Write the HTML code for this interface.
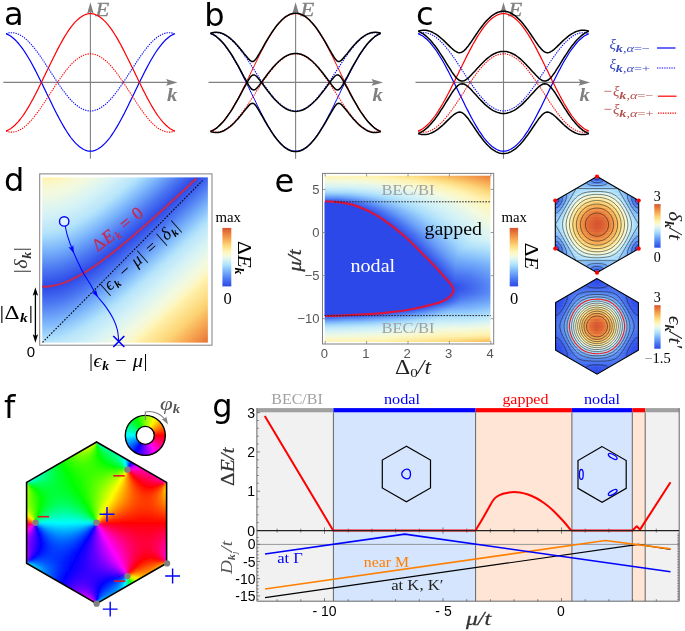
<!DOCTYPE html>
<html><head><meta charset="utf-8"><title>Figure</title>
<style>html,body{margin:0;padding:0;background:#fff}svg{display:block}</style></head>
<body>
<svg width="685" height="631" viewBox="0 0 685 631">
<rect width="685" height="631" fill="#fff"/>
<!-- abc_ -->
<g stroke="#808080" stroke-width="1.1" fill="#808080"><line x1="3.3" y1="82.4" x2="171.5" y2="82.4"/><line x1="90.4" y1="158.7" x2="90.4" y2="8.2"/><path stroke="none" d="M177.5 82.4l-11.5 -3.3l2 3.3l-2 3.3z"/><path stroke="none" d="M90.4 2.2l-3.3 11.5l3.3 -2l3.3 2z"/></g><text transform="translate(95.4,15.5) scale(1.22,1)" font-family="Liberation Serif,serif" font-style="italic" font-size="18.5" fill="#808080" stroke="#808080" stroke-width="0.3">E</text><text transform="translate(167,101.2) scale(1.15,1)" font-family="Liberation Serif,serif" font-style="italic" font-weight="bold" font-size="18" fill="#808080">k</text>
<path d="M6.1 33.8L7.6 34.4L9.1 35.2L10.6 36.1L12.1 37.2L13.6 38.5L15.1 39.8L16.6 41.4L18.1 43L19.6 44.8L21.2 46.8L22.7 48.8L24.2 51L25.7 53.3L27.2 55.7L28.7 58.2L30.2 60.8L31.7 63.5L33.2 66.2L34.7 69.1L36.2 72L37.7 74.9L39.2 78L40.7 81L42.2 84.1L43.7 87.2L45.2 90.3L46.7 93.5L48.3 96.6L49.8 99.7L51.3 102.8L52.8 105.9L54.3 108.9L55.8 111.9L57.3 114.9L58.8 117.7L60.3 120.5L61.8 123.2L63.3 125.9L64.8 128.4L66.3 130.8L67.8 133.2L69.3 135.4L70.8 137.5L72.3 139.4L73.8 141.2L75.3 142.9L76.9 144.4L78.4 145.8L79.9 147.1L81.4 148.1L82.9 149.1L84.4 149.8L85.9 150.4L87.4 150.8L88.9 151.1L90.4 151.2L91.9 151.1L93.4 150.8L94.9 150.4L96.4 149.8L97.9 149.1L99.4 148.1L100.9 147.1L102.4 145.8L103.9 144.4L105.5 142.9L107 141.2L108.5 139.4L110 137.5L111.5 135.4L113 133.2L114.5 130.8L116 128.4L117.5 125.9L119 123.2L120.5 120.5L122 117.7L123.5 114.9L125 111.9L126.5 108.9L128 105.9L129.5 102.8L131 99.7L132.6 96.6L134.1 93.5L135.6 90.3L137.1 87.2L138.6 84.1L140.1 81L141.6 78L143.1 74.9L144.6 72L146.1 69.1L147.6 66.2L149.1 63.5L150.6 60.8L152.1 58.2L153.6 55.7L155.1 53.3L156.6 51L158.1 48.8L159.6 46.8L161.2 44.8L162.7 43L164.2 41.4L165.7 39.8L167.2 38.5L168.7 37.2L170.2 36.1L171.7 35.2L173.2 34.4L174.7 33.8" stroke="#0000ff" stroke-width="1.2" fill="none"/><path d="M6.1 131.1L7.6 130.4L9.1 129.6L10.6 128.7L12.1 127.6L13.6 126.3L15.1 125L16.6 123.4L18.1 121.8L19.6 120L21.2 118L22.7 116L24.2 113.8L25.7 111.5L27.2 109.1L28.7 106.6L30.2 104L31.7 101.3L33.2 98.6L34.7 95.7L36.2 92.8L37.7 89.9L39.2 86.8L40.7 83.8L42.2 80.7L43.7 77.6L45.2 74.5L46.7 71.3L48.3 68.2L49.8 65.1L51.3 62L52.8 58.9L54.3 55.9L55.8 52.9L57.3 49.9L58.8 47.1L60.3 44.3L61.8 41.6L63.3 38.9L64.8 36.4L66.3 34L67.8 31.6L69.3 29.4L70.8 27.3L72.3 25.4L73.8 23.6L75.3 21.9L76.9 20.4L78.4 19L79.9 17.7L81.4 16.7L82.9 15.7L84.4 15L85.9 14.4L87.4 14L88.9 13.7L90.4 13.7L91.9 13.7L93.4 14L94.9 14.4L96.4 15L97.9 15.7L99.4 16.7L100.9 17.7L102.4 19L103.9 20.4L105.5 21.9L107 23.6L108.5 25.4L110 27.3L111.5 29.4L113 31.6L114.5 34L116 36.4L117.5 38.9L119 41.6L120.5 44.3L122 47.1L123.5 49.9L125 52.9L126.5 55.9L128 58.9L129.5 62L131 65.1L132.6 68.2L134.1 71.3L135.6 74.5L137.1 77.6L138.6 80.7L140.1 83.8L141.6 86.8L143.1 89.9L144.6 92.8L146.1 95.7L147.6 98.6L149.1 101.3L150.6 104L152.1 106.6L153.6 109.1L155.1 111.5L156.6 113.8L158.1 116L159.6 118L161.2 120L162.7 121.8L164.2 123.4L165.7 125L167.2 126.3L168.7 127.6L170.2 128.7L171.7 129.6L173.2 130.4L174.7 131.1" stroke="#ff0000" stroke-width="1.2" fill="none"/><path d="M6.1 33.8L7.6 33.3L9.1 32.9L10.6 32.7L12.1 32.7L13.6 32.8L15.1 33.1L16.6 33.5L18.1 34.1L19.6 34.8L21.2 35.6L22.7 36.6L24.2 37.7L25.7 39L27.2 40.3L28.7 41.8L30.2 43.3L31.7 45L33.2 46.8L34.7 48.7L36.2 50.6L37.7 52.6L39.2 54.7L40.7 56.8L42.2 59L43.7 61.3L45.2 63.6L46.7 65.9L48.3 68.2L49.8 70.5L51.3 72.9L52.8 75.2L54.3 77.5L55.8 79.8L57.3 82.1L58.8 84.3L60.3 86.5L61.8 88.6L63.3 90.7L64.8 92.7L66.3 94.6L67.8 96.5L69.3 98.2L70.8 99.9L72.3 101.5L73.8 102.9L75.3 104.3L76.9 105.5L78.4 106.6L79.9 107.6L81.4 108.5L82.9 109.2L84.4 109.9L85.9 110.3L87.4 110.7L88.9 110.9L90.4 111L91.9 110.9L93.4 110.7L94.9 110.3L96.4 109.9L97.9 109.2L99.4 108.5L100.9 107.6L102.4 106.6L103.9 105.5L105.5 104.3L107 102.9L108.5 101.5L110 99.9L111.5 98.2L113 96.5L114.5 94.6L116 92.7L117.5 90.7L119 88.6L120.5 86.5L122 84.3L123.5 82.1L125 79.8L126.5 77.5L128 75.2L129.5 72.9L131 70.5L132.6 68.2L134.1 65.9L135.6 63.6L137.1 61.3L138.6 59L140.1 56.8L141.6 54.7L143.1 52.6L144.6 50.6L146.1 48.7L147.6 46.8L149.1 45L150.6 43.3L152.1 41.8L153.6 40.3L155.1 39L156.6 37.7L158.1 36.6L159.6 35.6L161.2 34.8L162.7 34.1L164.2 33.5L165.7 33.1L167.2 32.8L168.7 32.7L170.2 32.7L171.7 32.9L173.2 33.3L174.7 33.8" stroke="#0000ff" stroke-width="1.1" stroke-dasharray="1.3 1.1" fill="none"/><path d="M6.1 131.1L7.6 131.5L9.1 131.9L10.6 132.1L12.1 132.1L13.6 132L15.1 131.7L16.6 131.3L18.1 130.7L19.6 130L21.2 129.2L22.7 128.2L24.2 127.1L25.7 125.8L27.2 124.5L28.7 123L30.2 121.5L31.7 119.8L33.2 118L34.7 116.1L36.2 114.2L37.7 112.2L39.2 110.1L40.7 108L42.2 105.8L43.7 103.5L45.2 101.2L46.7 98.9L48.3 96.6L49.8 94.3L51.3 91.9L52.8 89.6L54.3 87.3L55.8 85L57.3 82.7L58.8 80.5L60.3 78.3L61.8 76.2L63.3 74.1L64.8 72.1L66.3 70.2L67.8 68.3L69.3 66.6L70.8 64.9L72.3 63.3L73.8 61.9L75.3 60.5L76.9 59.3L78.4 58.2L79.9 57.2L81.4 56.3L82.9 55.6L84.4 54.9L85.9 54.5L87.4 54.1L88.9 53.9L90.4 53.9L91.9 53.9L93.4 54.1L94.9 54.5L96.4 54.9L97.9 55.6L99.4 56.3L100.9 57.2L102.4 58.2L103.9 59.3L105.5 60.5L107 61.9L108.5 63.3L110 64.9L111.5 66.6L113 68.3L114.5 70.2L116 72.1L117.5 74.1L119 76.2L120.5 78.3L122 80.5L123.5 82.7L125 85L126.5 87.3L128 89.6L129.5 91.9L131 94.3L132.6 96.6L134.1 98.9L135.6 101.2L137.1 103.5L138.6 105.8L140.1 108L141.6 110.1L143.1 112.2L144.6 114.2L146.1 116.1L147.6 118L149.1 119.8L150.6 121.5L152.1 123L153.6 124.5L155.1 125.8L156.6 127.1L158.1 128.2L159.6 129.2L161.2 130L162.7 130.7L164.2 131.3L165.7 131.7L167.2 132L168.7 132.1L170.2 132.1L171.7 131.9L173.2 131.5L174.7 131.1" stroke="#ff0000" stroke-width="1.1" stroke-dasharray="1.3 1.1" fill="none"/>
<g stroke="#808080" stroke-width="1.1" fill="#808080"><line x1="208.5" y1="82.4" x2="377" y2="82.4"/><line x1="295.6" y1="158.7" x2="295.6" y2="8.2"/><path stroke="none" d="M383 82.4l-11.5 -3.3l2 3.3l-2 3.3z"/><path stroke="none" d="M295.6 2.2l-3.3 11.5l3.3 -2l3.3 2z"/></g><text transform="translate(300.6,15.5) scale(1.22,1)" font-family="Liberation Serif,serif" font-style="italic" font-size="18.5" fill="#808080" stroke="#808080" stroke-width="0.3">E</text><text transform="translate(372.5,101.2) scale(1.15,1)" font-family="Liberation Serif,serif" font-style="italic" font-weight="bold" font-size="18" fill="#808080">k</text>
<path d="M210.5 33.8L212 34.4L213.5 35.2L215.1 36.1L216.6 37.2L218.1 38.5L219.6 39.8L221.1 41.4L222.7 43L224.2 44.8L225.7 46.8L227.2 48.8L228.7 51L230.3 53.3L231.8 55.7L233.3 58.2L234.8 60.8L236.3 63.5L237.9 66.2L239.4 69.1L240.9 72L242.4 74.9L243.9 78L245.5 81L247 84.1L248.5 87.2L250 90.3L251.5 93.5L253.1 96.6L254.6 99.7L256.1 102.8L257.6 105.9L259.1 108.9L260.6 111.9L262.2 114.9L263.7 117.7L265.2 120.5L266.7 123.2L268.2 125.9L269.8 128.4L271.3 130.8L272.8 133.2L274.3 135.4L275.8 137.5L277.4 139.4L278.9 141.2L280.4 142.9L281.9 144.4L283.4 145.8L285 147.1L286.5 148.1L288 149.1L289.5 149.8L291 150.4L292.6 150.8L294.1 151.1L295.6 151.2L297.1 151.1L298.6 150.8L300.2 150.4L301.7 149.8L303.2 149.1L304.7 148.1L306.2 147.1L307.8 145.8L309.3 144.4L310.8 142.9L312.3 141.2L313.8 139.4L315.4 137.5L316.9 135.4L318.4 133.2L319.9 130.8L321.4 128.4L323 125.9L324.5 123.2L326 120.5L327.5 117.7L329 114.9L330.6 111.9L332.1 108.9L333.6 105.9L335.1 102.8L336.6 99.7L338.2 96.6L339.7 93.5L341.2 90.3L342.7 87.2L344.2 84.1L345.7 81L347.3 78L348.8 74.9L350.3 72L351.8 69.1L353.3 66.2L354.9 63.5L356.4 60.8L357.9 58.2L359.4 55.7L360.9 53.3L362.5 51L364 48.8L365.5 46.8L367 44.8L368.5 43L370.1 41.4L371.6 39.8L373.1 38.5L374.6 37.2L376.1 36.1L377.7 35.2L379.2 34.4L380.7 33.8" stroke="#0000ff" stroke-width="1.0" fill="none"/><path d="M210.5 131.1L212 130.4L213.5 129.6L215.1 128.7L216.6 127.6L218.1 126.3L219.6 125L221.1 123.4L222.7 121.8L224.2 120L225.7 118L227.2 116L228.7 113.8L230.3 111.5L231.8 109.1L233.3 106.6L234.8 104L236.3 101.3L237.9 98.6L239.4 95.7L240.9 92.8L242.4 89.9L243.9 86.8L245.5 83.8L247 80.7L248.5 77.6L250 74.5L251.5 71.3L253.1 68.2L254.6 65.1L256.1 62L257.6 58.9L259.1 55.9L260.6 52.9L262.2 49.9L263.7 47.1L265.2 44.3L266.7 41.6L268.2 38.9L269.8 36.4L271.3 34L272.8 31.6L274.3 29.4L275.8 27.3L277.4 25.4L278.9 23.6L280.4 21.9L281.9 20.4L283.4 19L285 17.7L286.5 16.7L288 15.7L289.5 15L291 14.4L292.6 14L294.1 13.7L295.6 13.7L297.1 13.7L298.6 14L300.2 14.4L301.7 15L303.2 15.7L304.7 16.7L306.2 17.7L307.8 19L309.3 20.4L310.8 21.9L312.3 23.6L313.8 25.4L315.4 27.3L316.9 29.4L318.4 31.6L319.9 34L321.4 36.4L323 38.9L324.5 41.6L326 44.3L327.5 47.1L329 49.9L330.6 52.9L332.1 55.9L333.6 58.9L335.1 62L336.6 65.1L338.2 68.2L339.7 71.3L341.2 74.5L342.7 77.6L344.2 80.7L345.7 83.8L347.3 86.8L348.8 89.9L350.3 92.8L351.8 95.7L353.3 98.6L354.9 101.3L356.4 104L357.9 106.6L359.4 109.1L360.9 111.5L362.5 113.8L364 116L365.5 118L367 120L368.5 121.8L370.1 123.4L371.6 125L373.1 126.3L374.6 127.6L376.1 128.7L377.7 129.6L379.2 130.4L380.7 131.1" stroke="#ff0000" stroke-width="1.0" fill="none"/><path d="M210.5 33.8L212 33.3L213.5 32.9L215.1 32.7L216.6 32.7L218.1 32.8L219.6 33.1L221.1 33.5L222.7 34.1L224.2 34.8L225.7 35.6L227.2 36.6L228.7 37.7L230.3 39L231.8 40.3L233.3 41.8L234.8 43.3L236.3 45L237.9 46.8L239.4 48.7L240.9 50.6L242.4 52.6L243.9 54.7L245.5 56.8L247 59L248.5 61.3L250 63.6L251.5 65.9L253.1 68.2L254.6 70.5L256.1 72.9L257.6 75.2L259.1 77.5L260.6 79.8L262.2 82.1L263.7 84.3L265.2 86.5L266.7 88.6L268.2 90.7L269.8 92.7L271.3 94.6L272.8 96.5L274.3 98.2L275.8 99.9L277.4 101.5L278.9 102.9L280.4 104.3L281.9 105.5L283.4 106.6L285 107.6L286.5 108.5L288 109.2L289.5 109.9L291 110.3L292.6 110.7L294.1 110.9L295.6 111L297.1 110.9L298.6 110.7L300.2 110.3L301.7 109.9L303.2 109.2L304.7 108.5L306.2 107.6L307.8 106.6L309.3 105.5L310.8 104.3L312.3 102.9L313.8 101.5L315.4 99.9L316.9 98.2L318.4 96.5L319.9 94.6L321.4 92.7L323 90.7L324.5 88.6L326 86.5L327.5 84.3L329 82.1L330.6 79.8L332.1 77.5L333.6 75.2L335.1 72.9L336.6 70.5L338.2 68.2L339.7 65.9L341.2 63.6L342.7 61.3L344.2 59L345.7 56.8L347.3 54.7L348.8 52.6L350.3 50.6L351.8 48.7L353.3 46.8L354.9 45L356.4 43.3L357.9 41.8L359.4 40.3L360.9 39L362.5 37.7L364 36.6L365.5 35.6L367 34.8L368.5 34.1L370.1 33.5L371.6 33.1L373.1 32.8L374.6 32.7L376.1 32.7L377.7 32.9L379.2 33.3L380.7 33.8" stroke="#0000ff" stroke-width="1.1" stroke-dasharray="1.3 1.1" fill="none"/><path d="M210.5 131.1L212 131.5L213.5 131.9L215.1 132.1L216.6 132.1L218.1 132L219.6 131.7L221.1 131.3L222.7 130.7L224.2 130L225.7 129.2L227.2 128.2L228.7 127.1L230.3 125.8L231.8 124.5L233.3 123L234.8 121.5L236.3 119.8L237.9 118L239.4 116.1L240.9 114.2L242.4 112.2L243.9 110.1L245.5 108L247 105.8L248.5 103.5L250 101.2L251.5 98.9L253.1 96.6L254.6 94.3L256.1 91.9L257.6 89.6L259.1 87.3L260.6 85L262.2 82.7L263.7 80.5L265.2 78.3L266.7 76.2L268.2 74.1L269.8 72.1L271.3 70.2L272.8 68.3L274.3 66.6L275.8 64.9L277.4 63.3L278.9 61.9L280.4 60.5L281.9 59.3L283.4 58.2L285 57.2L286.5 56.3L288 55.6L289.5 54.9L291 54.5L292.6 54.1L294.1 53.9L295.6 53.9L297.1 53.9L298.6 54.1L300.2 54.5L301.7 54.9L303.2 55.6L304.7 56.3L306.2 57.2L307.8 58.2L309.3 59.3L310.8 60.5L312.3 61.9L313.8 63.3L315.4 64.9L316.9 66.6L318.4 68.3L319.9 70.2L321.4 72.1L323 74.1L324.5 76.2L326 78.3L327.5 80.5L329 82.7L330.6 85L332.1 87.3L333.6 89.6L335.1 91.9L336.6 94.3L338.2 96.6L339.7 98.9L341.2 101.2L342.7 103.5L344.2 105.8L345.7 108L347.3 110.1L348.8 112.2L350.3 114.2L351.8 116.1L353.3 118L354.9 119.8L356.4 121.5L357.9 123L359.4 124.5L360.9 125.8L362.5 127.1L364 128.2L365.5 129.2L367 130L368.5 130.7L370.1 131.3L371.6 131.7L373.1 132L374.6 132.1L376.1 132.1L377.7 131.9L379.2 131.5L380.7 131.1" stroke="#ff0000" stroke-width="1.1" stroke-dasharray="1.3 1.1" fill="none"/><path d="M210.5 33.3L212 33.9L213.5 34.7L215.1 35.7L216.6 36.7L218.1 38L219.6 39.4L221.1 40.9L222.7 42.5L224.2 44.3L225.7 46.2L227.2 48.3L228.7 50.4L230.3 52.7L231.8 55L233.3 57.5L234.8 60.1L236.3 62.7L237.9 65.4L239.4 68.1L240.9 70.9L242.4 73.8L243.9 76.6L245.5 79.4L247 82.2L248.5 84.8L250 87.2L251.5 89L253.1 89.9L254.6 89.8L256.1 88.8L257.6 87.2L259.1 85.4L260.6 83.4L262.2 81.4L263.7 79.3L265.2 77.3L266.7 75.2L268.2 73.3L269.8 71.3L271.3 69.4L272.8 67.6L274.3 65.9L275.8 64.3L277.4 62.8L278.9 61.3L280.4 60L281.9 58.8L283.4 57.7L285 56.7L286.5 55.8L288 55.1L289.5 54.5L291 54L292.6 53.7L294.1 53.5L295.6 53.4L297.1 53.5L298.6 53.7L300.2 54L301.7 54.5L303.2 55.1L304.7 55.8L306.2 56.7L307.8 57.7L309.3 58.8L310.8 60L312.3 61.3L313.8 62.8L315.4 64.3L316.9 65.9L318.4 67.6L319.9 69.4L321.4 71.3L323 73.3L324.5 75.2L326 77.3L327.5 79.3L329 81.4L330.6 83.4L332.1 85.4L333.6 87.2L335.1 88.8L336.6 89.8L338.2 89.9L339.7 89L341.2 87.2L342.7 84.8L344.2 82.2L345.7 79.4L347.3 76.6L348.8 73.8L350.3 70.9L351.8 68.1L353.3 65.4L354.9 62.7L356.4 60.1L357.9 57.5L359.4 55L360.9 52.7L362.5 50.4L364 48.3L365.5 46.2L367 44.3L368.5 42.5L370.1 40.9L371.6 39.4L373.1 38L374.6 36.7L376.1 35.7L377.7 34.7L379.2 33.9L380.7 33.3" stroke="#000" stroke-width="1.5" fill="none" stroke-linejoin="round"/><path d="M210.5 131.5L212 132L213.5 132.3L215.1 132.5L216.6 132.6L218.1 132.4L219.6 132.2L221.1 131.8L222.7 131.2L224.2 130.5L225.7 129.7L227.2 128.7L228.7 127.7L230.3 126.5L231.8 125.1L233.3 123.7L234.8 122.2L236.3 120.6L237.9 118.9L239.4 117.1L240.9 115.2L242.4 113.4L243.9 111.4L245.5 109.5L247 107.7L248.5 105.9L250 104.4L251.5 103.4L253.1 103.3L254.6 104.2L256.1 106L257.6 108.3L259.1 110.8L260.6 113.5L262.2 116.2L263.7 118.9L265.2 121.6L266.7 124.2L268.2 126.7L269.8 129.2L271.3 131.6L272.8 133.8L274.3 136L275.8 138.1L277.4 140L278.9 141.8L280.4 143.4L281.9 145L283.4 146.3L285 147.6L286.5 148.6L288 149.5L289.5 150.3L291 150.9L292.6 151.3L294.1 151.5L295.6 151.6L297.1 151.5L298.6 151.3L300.2 150.9L301.7 150.3L303.2 149.5L304.7 148.6L306.2 147.6L307.8 146.3L309.3 145L310.8 143.4L312.3 141.8L313.8 140L315.4 138.1L316.9 136L318.4 133.8L319.9 131.6L321.4 129.2L323 126.7L324.5 124.2L326 121.6L327.5 118.9L329 116.2L330.6 113.5L332.1 110.8L333.6 108.3L335.1 106L336.6 104.2L338.2 103.3L339.7 103.4L341.2 104.4L342.7 105.9L344.2 107.7L345.7 109.5L347.3 111.4L348.8 113.4L350.3 115.2L351.8 117.1L353.3 118.9L354.9 120.6L356.4 122.2L357.9 123.7L359.4 125.1L360.9 126.5L362.5 127.7L364 128.7L365.5 129.7L367 130.5L368.5 131.2L370.1 131.8L371.6 132.2L373.1 132.4L374.6 132.6L376.1 132.5L377.7 132.3L379.2 132L380.7 131.5" stroke="#000" stroke-width="1.5" fill="none" stroke-linejoin="round"/><path d="M210.5 131.5L212 130.9L213.5 130.1L215.1 129.1L216.6 128.1L218.1 126.8L219.6 125.4L221.1 123.9L222.7 122.3L224.2 120.5L225.7 118.6L227.2 116.5L228.7 114.4L230.3 112.1L231.8 109.8L233.3 107.3L234.8 104.7L236.3 102.1L237.9 99.4L239.4 96.7L240.9 93.9L242.4 91L243.9 88.2L245.5 85.4L247 82.6L248.5 80L250 77.6L251.5 75.8L253.1 74.9L254.6 75L256.1 76L257.6 77.6L259.1 79.4L260.6 81.4L262.2 83.4L263.7 85.5L265.2 87.5L266.7 89.6L268.2 91.5L269.8 93.5L271.3 95.4L272.8 97.2L274.3 98.9L275.8 100.5L277.4 102L278.9 103.5L280.4 104.8L281.9 106L283.4 107.1L285 108.1L286.5 109L288 109.7L289.5 110.3L291 110.8L292.6 111.1L294.1 111.3L295.6 111.4L297.1 111.3L298.6 111.1L300.2 110.8L301.7 110.3L303.2 109.7L304.7 109L306.2 108.1L307.8 107.1L309.3 106L310.8 104.8L312.3 103.5L313.8 102L315.4 100.5L316.9 98.9L318.4 97.2L319.9 95.4L321.4 93.5L323 91.5L324.5 89.6L326 87.5L327.5 85.5L329 83.4L330.6 81.4L332.1 79.4L333.6 77.6L335.1 76L336.6 75L338.2 74.9L339.7 75.8L341.2 77.6L342.7 80L344.2 82.6L345.7 85.4L347.3 88.2L348.8 91L350.3 93.9L351.8 96.7L353.3 99.4L354.9 102.1L356.4 104.7L357.9 107.3L359.4 109.8L360.9 112.1L362.5 114.4L364 116.5L365.5 118.6L367 120.5L368.5 122.3L370.1 123.9L371.6 125.4L373.1 126.8L374.6 128.1L376.1 129.1L377.7 130.1L379.2 130.9L380.7 131.5" stroke="#000" stroke-width="1.5" fill="none" stroke-linejoin="round"/><path d="M210.5 33.3L212 32.8L213.5 32.5L215.1 32.3L216.6 32.2L218.1 32.4L219.6 32.6L221.1 33L222.7 33.6L224.2 34.3L225.7 35.1L227.2 36.1L228.7 37.1L230.3 38.3L231.8 39.7L233.3 41.1L234.8 42.6L236.3 44.2L237.9 45.9L239.4 47.7L240.9 49.6L242.4 51.4L243.9 53.4L245.5 55.3L247 57.1L248.5 58.9L250 60.4L251.5 61.4L253.1 61.5L254.6 60.6L256.1 58.8L257.6 56.5L259.1 54L260.6 51.3L262.2 48.6L263.7 45.9L265.2 43.2L266.7 40.6L268.2 38.1L269.8 35.6L271.3 33.2L272.8 31L274.3 28.8L275.8 26.7L277.4 24.8L278.9 23L280.4 21.4L281.9 19.8L283.4 18.5L285 17.2L286.5 16.2L288 15.3L289.5 14.5L291 13.9L292.6 13.5L294.1 13.3L295.6 13.2L297.1 13.3L298.6 13.5L300.2 13.9L301.7 14.5L303.2 15.3L304.7 16.2L306.2 17.2L307.8 18.5L309.3 19.8L310.8 21.4L312.3 23L313.8 24.8L315.4 26.7L316.9 28.8L318.4 31L319.9 33.2L321.4 35.6L323 38.1L324.5 40.6L326 43.2L327.5 45.9L329 48.6L330.6 51.3L332.1 54L333.6 56.5L335.1 58.8L336.6 60.6L338.2 61.5L339.7 61.4L341.2 60.4L342.7 58.9L344.2 57.1L345.7 55.3L347.3 53.4L348.8 51.4L350.3 49.6L351.8 47.7L353.3 45.9L354.9 44.2L356.4 42.6L357.9 41.1L359.4 39.7L360.9 38.3L362.5 37.1L364 36.1L365.5 35.1L367 34.3L368.5 33.6L370.1 33L371.6 32.6L373.1 32.4L374.6 32.2L376.1 32.3L377.7 32.5L379.2 32.8L380.7 33.3" stroke="#000" stroke-width="1.5" fill="none" stroke-linejoin="round"/>
<g stroke="#808080" stroke-width="1.1" fill="#808080"><line x1="415.5" y1="82.4" x2="584" y2="82.4"/><line x1="503.5" y1="158.7" x2="503.5" y2="8.2"/><path stroke="none" d="M590 82.4l-11.5 -3.3l2 3.3l-2 3.3z"/><path stroke="none" d="M503.5 2.2l-3.3 11.5l3.3 -2l3.3 2z"/></g><text transform="translate(508.5,15.5) scale(1.22,1)" font-family="Liberation Serif,serif" font-style="italic" font-size="18.5" fill="#808080" stroke="#808080" stroke-width="0.3">E</text><text transform="translate(579.5,101.2) scale(1.15,1)" font-family="Liberation Serif,serif" font-style="italic" font-weight="bold" font-size="18" fill="#808080">k</text>
<path d="M418.2 33.8L419.7 34.4L421.2 35.2L422.8 36.1L424.3 37.2L425.8 38.5L427.3 39.8L428.9 41.4L430.4 43L431.9 44.8L433.4 46.8L435 48.8L436.5 51L438 53.3L439.5 55.7L441 58.2L442.6 60.8L444.1 63.5L445.6 66.2L447.1 69.1L448.7 72L450.2 74.9L451.7 78L453.2 81L454.8 84.1L456.3 87.2L457.8 90.3L459.3 93.5L460.9 96.6L462.4 99.7L463.9 102.8L465.4 105.9L466.9 108.9L468.5 111.9L470 114.9L471.5 117.7L473 120.5L474.6 123.2L476.1 125.9L477.6 128.4L479.1 130.8L480.7 133.2L482.2 135.4L483.7 137.5L485.2 139.4L486.7 141.2L488.3 142.9L489.8 144.4L491.3 145.8L492.8 147.1L494.4 148.1L495.9 149.1L497.4 149.8L498.9 150.4L500.5 150.8L502 151.1L503.5 151.2L505 151.1L506.5 150.8L508.1 150.4L509.6 149.8L511.1 149.1L512.6 148.1L514.2 147.1L515.7 145.8L517.2 144.4L518.7 142.9L520.3 141.2L521.8 139.4L523.3 137.5L524.8 135.4L526.3 133.2L527.9 130.8L529.4 128.4L530.9 125.9L532.4 123.2L534 120.5L535.5 117.7L537 114.9L538.5 111.9L540.1 108.9L541.6 105.9L543.1 102.8L544.6 99.7L546.1 96.6L547.7 93.5L549.2 90.3L550.7 87.2L552.2 84.1L553.8 81L555.3 78L556.8 74.9L558.3 72L559.9 69.1L561.4 66.2L562.9 63.5L564.4 60.8L566 58.2L567.5 55.7L569 53.3L570.5 51L572 48.8L573.6 46.8L575.1 44.8L576.6 43L578.1 41.4L579.7 39.8L581.2 38.5L582.7 37.2L584.2 36.1L585.8 35.2L587.3 34.4L588.8 33.8" stroke="#0000ff" stroke-width="1.2" fill="none"/><path d="M418.2 131.1L419.7 130.4L421.2 129.6L422.8 128.7L424.3 127.6L425.8 126.3L427.3 125L428.9 123.4L430.4 121.8L431.9 120L433.4 118L435 116L436.5 113.8L438 111.5L439.5 109.1L441 106.6L442.6 104L444.1 101.3L445.6 98.6L447.1 95.7L448.7 92.8L450.2 89.9L451.7 86.8L453.2 83.8L454.8 80.7L456.3 77.6L457.8 74.5L459.3 71.3L460.9 68.2L462.4 65.1L463.9 62L465.4 58.9L466.9 55.9L468.5 52.9L470 49.9L471.5 47.1L473 44.3L474.6 41.6L476.1 38.9L477.6 36.4L479.1 34L480.7 31.6L482.2 29.4L483.7 27.3L485.2 25.4L486.7 23.6L488.3 21.9L489.8 20.4L491.3 19L492.8 17.7L494.4 16.7L495.9 15.7L497.4 15L498.9 14.4L500.5 14L502 13.7L503.5 13.7L505 13.7L506.5 14L508.1 14.4L509.6 15L511.1 15.7L512.6 16.7L514.2 17.7L515.7 19L517.2 20.4L518.7 21.9L520.3 23.6L521.8 25.4L523.3 27.3L524.8 29.4L526.3 31.6L527.9 34L529.4 36.4L530.9 38.9L532.4 41.6L534 44.3L535.5 47.1L537 49.9L538.5 52.9L540.1 55.9L541.6 58.9L543.1 62L544.6 65.1L546.1 68.2L547.7 71.3L549.2 74.5L550.7 77.6L552.2 80.7L553.8 83.8L555.3 86.8L556.8 89.9L558.3 92.8L559.9 95.7L561.4 98.6L562.9 101.3L564.4 104L566 106.6L567.5 109.1L569 111.5L570.5 113.8L572 116L573.6 118L575.1 120L576.6 121.8L578.1 123.4L579.7 125L581.2 126.3L582.7 127.6L584.2 128.7L585.8 129.6L587.3 130.4L588.8 131.1" stroke="#ff0000" stroke-width="1.2" fill="none"/><path d="M418.2 33.8L419.7 33.3L421.2 32.9L422.8 32.7L424.3 32.7L425.8 32.8L427.3 33.1L428.9 33.5L430.4 34.1L431.9 34.8L433.4 35.6L435 36.6L436.5 37.7L438 39L439.5 40.3L441 41.8L442.6 43.3L444.1 45L445.6 46.8L447.1 48.7L448.7 50.6L450.2 52.6L451.7 54.7L453.2 56.8L454.8 59L456.3 61.3L457.8 63.6L459.3 65.9L460.9 68.2L462.4 70.5L463.9 72.9L465.4 75.2L466.9 77.5L468.5 79.8L470 82.1L471.5 84.3L473 86.5L474.6 88.6L476.1 90.7L477.6 92.7L479.1 94.6L480.7 96.5L482.2 98.2L483.7 99.9L485.2 101.5L486.7 102.9L488.3 104.3L489.8 105.5L491.3 106.6L492.8 107.6L494.4 108.5L495.9 109.2L497.4 109.9L498.9 110.3L500.5 110.7L502 110.9L503.5 111L505 110.9L506.5 110.7L508.1 110.3L509.6 109.9L511.1 109.2L512.6 108.5L514.2 107.6L515.7 106.6L517.2 105.5L518.7 104.3L520.3 102.9L521.8 101.5L523.3 99.9L524.8 98.2L526.3 96.5L527.9 94.6L529.4 92.7L530.9 90.7L532.4 88.6L534 86.5L535.5 84.3L537 82.1L538.5 79.8L540.1 77.5L541.6 75.2L543.1 72.9L544.6 70.5L546.1 68.2L547.7 65.9L549.2 63.6L550.7 61.3L552.2 59L553.8 56.8L555.3 54.7L556.8 52.6L558.3 50.6L559.9 48.7L561.4 46.8L562.9 45L564.4 43.3L566 41.8L567.5 40.3L569 39L570.5 37.7L572 36.6L573.6 35.6L575.1 34.8L576.6 34.1L578.1 33.5L579.7 33.1L581.2 32.8L582.7 32.7L584.2 32.7L585.8 32.9L587.3 33.3L588.8 33.8" stroke="#0000ff" stroke-width="1.1" stroke-dasharray="1.3 1.1" fill="none"/><path d="M418.2 131.1L419.7 131.5L421.2 131.9L422.8 132.1L424.3 132.1L425.8 132L427.3 131.7L428.9 131.3L430.4 130.7L431.9 130L433.4 129.2L435 128.2L436.5 127.1L438 125.8L439.5 124.5L441 123L442.6 121.5L444.1 119.8L445.6 118L447.1 116.1L448.7 114.2L450.2 112.2L451.7 110.1L453.2 108L454.8 105.8L456.3 103.5L457.8 101.2L459.3 98.9L460.9 96.6L462.4 94.3L463.9 91.9L465.4 89.6L466.9 87.3L468.5 85L470 82.7L471.5 80.5L473 78.3L474.6 76.2L476.1 74.1L477.6 72.1L479.1 70.2L480.7 68.3L482.2 66.6L483.7 64.9L485.2 63.3L486.7 61.9L488.3 60.5L489.8 59.3L491.3 58.2L492.8 57.2L494.4 56.3L495.9 55.6L497.4 54.9L498.9 54.5L500.5 54.1L502 53.9L503.5 53.9L505 53.9L506.5 54.1L508.1 54.5L509.6 54.9L511.1 55.6L512.6 56.3L514.2 57.2L515.7 58.2L517.2 59.3L518.7 60.5L520.3 61.9L521.8 63.3L523.3 64.9L524.8 66.6L526.3 68.3L527.9 70.2L529.4 72.1L530.9 74.1L532.4 76.2L534 78.3L535.5 80.5L537 82.7L538.5 85L540.1 87.3L541.6 89.6L543.1 91.9L544.6 94.3L546.1 96.6L547.7 98.9L549.2 101.2L550.7 103.5L552.2 105.8L553.8 108L555.3 110.1L556.8 112.2L558.3 114.2L559.9 116.1L561.4 118L562.9 119.8L564.4 121.5L566 123L567.5 124.5L569 125.8L570.5 127.1L572 128.2L573.6 129.2L575.1 130L576.6 130.7L578.1 131.3L579.7 131.7L581.2 132L582.7 132.1L584.2 132.1L585.8 131.9L587.3 131.5L588.8 131.1" stroke="#ff0000" stroke-width="1.1" stroke-dasharray="1.3 1.1" fill="none"/><path d="M418.2 31.3L419.7 30.8L421.2 30.4L422.8 30.2L424.3 30.2L425.8 30.3L427.3 30.5L428.9 30.9L430.4 31.4L431.9 32L433.4 32.8L435 33.6L436.5 34.6L438 35.7L439.5 36.9L441 38.2L442.6 39.5L444.1 40.9L445.6 42.4L447.1 43.9L448.7 45.4L450.2 46.9L451.7 48.3L453.2 49.6L454.8 50.8L456.3 51.7L457.8 52.4L459.3 52.7L460.9 52.5L462.4 51.9L463.9 50.8L465.4 49.4L466.9 47.6L468.5 45.7L470 43.5L471.5 41.3L473 39.1L474.6 36.8L476.1 34.5L477.6 32.3L479.1 30.1L480.7 28L482.2 26L483.7 24.1L485.2 22.3L486.7 20.6L488.3 19L489.8 17.6L491.3 16.2L492.8 15.1L494.4 14.1L495.9 13.2L497.4 12.5L498.9 11.9L500.5 11.5L502 11.3L503.5 11.2L505 11.3L506.5 11.5L508.1 11.9L509.6 12.5L511.1 13.2L512.6 14.1L514.2 15.1L515.7 16.2L517.2 17.6L518.7 19L520.3 20.6L521.8 22.3L523.3 24.1L524.8 26L526.3 28L527.9 30.1L529.4 32.3L530.9 34.5L532.4 36.8L534 39.1L535.5 41.3L537 43.5L538.5 45.7L540.1 47.6L541.6 49.4L543.1 50.8L544.6 51.9L546.1 52.5L547.7 52.7L549.2 52.4L550.7 51.7L552.2 50.8L553.8 49.6L555.3 48.3L556.8 46.9L558.3 45.4L559.9 43.9L561.4 42.4L562.9 40.9L564.4 39.5L566 38.2L567.5 36.9L569 35.7L570.5 34.6L572 33.6L573.6 32.8L575.1 32L576.6 31.4L578.1 30.9L579.7 30.5L581.2 30.3L582.7 30.2L584.2 30.2L585.8 30.4L587.3 30.8L588.8 31.3" stroke="#000" stroke-width="1.5" fill="none" stroke-linejoin="round"/><path d="M418.2 31.3L419.7 31.9L421.2 32.7L422.8 33.6L424.3 34.7L425.8 35.9L427.3 37.2L428.9 38.7L430.4 40.3L431.9 42L433.4 43.9L435 45.8L436.5 47.9L438 50L439.5 52.3L441 54.6L442.6 57L444.1 59.4L445.6 61.9L447.1 64.3L448.7 66.8L450.2 69.2L451.7 71.6L453.2 73.8L454.8 75.9L456.3 77.7L457.8 79.2L459.3 80.3L460.9 80.9L462.4 81.1L463.9 80.8L465.4 80.1L466.9 79L468.5 77.8L470 76.3L471.5 74.8L473 73.1L474.6 71.4L476.1 69.7L477.6 68L479.1 66.4L480.7 64.7L482.2 63.2L483.7 61.7L485.2 60.2L486.7 58.9L488.3 57.6L489.8 56.5L491.3 55.4L492.8 54.5L494.4 53.7L495.9 53L497.4 52.4L498.9 52L500.5 51.6L502 51.4L503.5 51.4L505 51.4L506.5 51.6L508.1 52L509.6 52.4L511.1 53L512.6 53.7L514.2 54.5L515.7 55.4L517.2 56.5L518.7 57.6L520.3 58.9L521.8 60.2L523.3 61.7L524.8 63.2L526.3 64.7L527.9 66.4L529.4 68L530.9 69.7L532.4 71.4L534 73.1L535.5 74.8L537 76.3L538.5 77.8L540.1 79L541.6 80.1L543.1 80.8L544.6 81.1L546.1 80.9L547.7 80.3L549.2 79.2L550.7 77.7L552.2 75.9L553.8 73.8L555.3 71.6L556.8 69.2L558.3 66.8L559.9 64.3L561.4 61.9L562.9 59.4L564.4 57L566 54.6L567.5 52.3L569 50L570.5 47.9L572 45.8L573.6 43.9L575.1 42L576.6 40.3L578.1 38.7L579.7 37.2L581.2 35.9L582.7 34.7L584.2 33.6L585.8 32.7L587.3 31.9L588.8 31.3" stroke="#000" stroke-width="1.5" fill="none" stroke-linejoin="round"/><path d="M418.2 133.5L419.7 134L421.2 134.4L422.8 134.6L424.3 134.6L425.8 134.5L427.3 134.3L428.9 133.9L430.4 133.4L431.9 132.8L433.4 132L435 131.2L436.5 130.2L438 129.1L439.5 127.9L441 126.6L442.6 125.3L444.1 123.9L445.6 122.4L447.1 120.9L448.7 119.4L450.2 117.9L451.7 116.5L453.2 115.2L454.8 114L456.3 113.1L457.8 112.4L459.3 112.1L460.9 112.3L462.4 112.9L463.9 114L465.4 115.4L466.9 117.2L468.5 119.1L470 121.3L471.5 123.5L473 125.7L474.6 128L476.1 130.3L477.6 132.5L479.1 134.7L480.7 136.8L482.2 138.8L483.7 140.7L485.2 142.5L486.7 144.2L488.3 145.8L489.8 147.2L491.3 148.6L492.8 149.7L494.4 150.7L495.9 151.6L497.4 152.3L498.9 152.9L500.5 153.3L502 153.5L503.5 153.6L505 153.5L506.5 153.3L508.1 152.9L509.6 152.3L511.1 151.6L512.6 150.7L514.2 149.7L515.7 148.6L517.2 147.2L518.7 145.8L520.3 144.2L521.8 142.5L523.3 140.7L524.8 138.8L526.3 136.8L527.9 134.7L529.4 132.5L530.9 130.3L532.4 128L534 125.7L535.5 123.5L537 121.3L538.5 119.1L540.1 117.2L541.6 115.4L543.1 114L544.6 112.9L546.1 112.3L547.7 112.1L549.2 112.4L550.7 113.1L552.2 114L553.8 115.2L555.3 116.5L556.8 117.9L558.3 119.4L559.9 120.9L561.4 122.4L562.9 123.9L564.4 125.3L566 126.6L567.5 127.9L569 129.1L570.5 130.2L572 131.2L573.6 132L575.1 132.8L576.6 133.4L578.1 133.9L579.7 134.3L581.2 134.5L582.7 134.6L584.2 134.6L585.8 134.4L587.3 134L588.8 133.5" stroke="#000" stroke-width="1.5" fill="none" stroke-linejoin="round"/><path d="M418.2 133.5L419.7 132.9L421.2 132.1L422.8 131.2L424.3 130.1L425.8 128.9L427.3 127.6L428.9 126.1L430.4 124.5L431.9 122.8L433.4 120.9L435 119L436.5 116.9L438 114.8L439.5 112.5L441 110.2L442.6 107.8L444.1 105.4L445.6 102.9L447.1 100.5L448.7 98L450.2 95.6L451.7 93.2L453.2 91L454.8 88.9L456.3 87.1L457.8 85.6L459.3 84.5L460.9 83.9L462.4 83.7L463.9 84L465.4 84.7L466.9 85.8L468.5 87L470 88.5L471.5 90L473 91.7L474.6 93.4L476.1 95.1L477.6 96.8L479.1 98.4L480.7 100.1L482.2 101.6L483.7 103.1L485.2 104.6L486.7 105.9L488.3 107.2L489.8 108.3L491.3 109.4L492.8 110.3L494.4 111.1L495.9 111.8L497.4 112.4L498.9 112.8L500.5 113.2L502 113.4L503.5 113.4L505 113.4L506.5 113.2L508.1 112.8L509.6 112.4L511.1 111.8L512.6 111.1L514.2 110.3L515.7 109.4L517.2 108.3L518.7 107.2L520.3 105.9L521.8 104.6L523.3 103.1L524.8 101.6L526.3 100.1L527.9 98.4L529.4 96.8L530.9 95.1L532.4 93.4L534 91.7L535.5 90L537 88.5L538.5 87L540.1 85.8L541.6 84.7L543.1 84L544.6 83.7L546.1 83.9L547.7 84.5L549.2 85.6L550.7 87.1L552.2 88.9L553.8 91L555.3 93.2L556.8 95.6L558.3 98L559.9 100.5L561.4 102.9L562.9 105.4L564.4 107.8L566 110.2L567.5 112.5L569 114.8L570.5 116.9L572 119L573.6 120.9L575.1 122.8L576.6 124.5L578.1 126.1L579.7 127.6L581.2 128.9L582.7 130.1L584.2 131.2L585.8 132.1L587.3 132.9L588.8 133.5" stroke="#000" stroke-width="1.5" fill="none" stroke-linejoin="round"/>
<g font-family="Liberation Serif,serif" font-style="italic" font-size="15">
<text x="609.5" y="49" fill="#3b4cc0">ξ</text><text transform="translate(615.8,52.2) scale(1.36,1)" fill="#3b4cc0" font-size="10.5"><tspan font-weight="bold">k</tspan>,α<tspan font-style="normal">=−</tspan></text><line x1="657" x2="675.5" y1="48" y2="48" stroke="#0000ff" stroke-width="1.2"/>
<text x="609.5" y="69" fill="#3b4cc0">ξ</text><text transform="translate(615.8,72.2) scale(1.36,1)" fill="#3b4cc0" font-size="10.5"><tspan font-weight="bold">k</tspan>,α<tspan font-style="normal">=+</tspan></text><line x1="657" x2="675.5" y1="68" y2="68" stroke="#0000ff" stroke-width="1.2" stroke-dasharray="1.3 1.1"/>
<text x="603.5" y="96" fill="#b4524c" font-style="normal" font-size="15">−</text><text x="613" y="96" fill="#b4524c">ξ</text><text transform="translate(619.3,99.2) scale(1.36,1)" fill="#b4524c" font-size="10.5"><tspan font-weight="bold">k</tspan>,α<tspan font-style="normal">=−</tspan></text><line x1="658" x2="676.5" y1="96.2" y2="96.2" stroke="#ff0000" stroke-width="1.2"/>
<text x="603.5" y="114" fill="#b4524c" font-style="normal" font-size="15">−</text><text x="613" y="114" fill="#b4524c">ξ</text><text transform="translate(619.3,117.2) scale(1.36,1)" fill="#b4524c" font-size="10.5"><tspan font-weight="bold">k</tspan>,α<tspan font-style="normal">=+</tspan></text><line x1="658" x2="676.5" y1="113.2" y2="113.2" stroke="#ff0000" stroke-width="1.2" stroke-dasharray="1.3 1.1"/>
</g>
<!-- pd -->
<defs><linearGradient id="gd" gradientUnits="userSpaceOnUse" x1="0" y1="-174.7" x2="0" y2="174.7"><stop offset="0" stop-color="#e57338"/><stop offset="0.0125" stop-color="#ea7d3b"/><stop offset="0.025" stop-color="#ed8840"/><stop offset="0.0375" stop-color="#f09246"/><stop offset="0.05" stop-color="#f39d4c"/><stop offset="0.0625" stop-color="#f6a751"/><stop offset="0.075" stop-color="#f8b259"/><stop offset="0.0875" stop-color="#f9bc62"/><stop offset="0.1" stop-color="#fbc76b"/><stop offset="0.1125" stop-color="#fcd174"/><stop offset="0.125" stop-color="#fdd87b"/><stop offset="0.1375" stop-color="#fddd85"/><stop offset="0.15" stop-color="#fee28f"/><stop offset="0.1625" stop-color="#fee799"/><stop offset="0.175" stop-color="#feeca3"/><stop offset="0.1875" stop-color="#fff2af"/><stop offset="0.2" stop-color="#fcf6c0"/><stop offset="0.2125" stop-color="#f8f8d0"/><stop offset="0.225" stop-color="#f5f9da"/><stop offset="0.2375" stop-color="#f1f9e0"/><stop offset="0.25" stop-color="#ebf8e5"/><stop offset="0.2625" stop-color="#e4f6eb"/><stop offset="0.275" stop-color="#def5f0"/><stop offset="0.2875" stop-color="#d8f3f5"/><stop offset="0.3" stop-color="#d1f0f7"/><stop offset="0.3125" stop-color="#c9edf8"/><stop offset="0.325" stop-color="#c2e9f9"/><stop offset="0.3375" stop-color="#bbe6fa"/><stop offset="0.35" stop-color="#aee0fb"/><stop offset="0.3625" stop-color="#a0d5fc"/><stop offset="0.375" stop-color="#93c9fb"/><stop offset="0.3875" stop-color="#85bdfb"/><stop offset="0.4" stop-color="#77b1fa"/><stop offset="0.4125" stop-color="#6ca3f8"/><stop offset="0.425" stop-color="#6295f6"/><stop offset="0.4375" stop-color="#5787f4"/><stop offset="0.45" stop-color="#4c79f2"/><stop offset="0.4625" stop-color="#446cf0"/><stop offset="0.475" stop-color="#3c60ed"/><stop offset="0.4875" stop-color="#3554eb"/><stop offset="0.5" stop-color="#2d48e8"/><stop offset="0.5125" stop-color="#3554eb"/><stop offset="0.525" stop-color="#3c60ed"/><stop offset="0.5375" stop-color="#446cf0"/><stop offset="0.55" stop-color="#4c79f2"/><stop offset="0.5625" stop-color="#5787f4"/><stop offset="0.575" stop-color="#6295f6"/><stop offset="0.5875" stop-color="#6ca3f8"/><stop offset="0.6" stop-color="#77b1fa"/><stop offset="0.6125" stop-color="#85bdfb"/><stop offset="0.625" stop-color="#93c9fb"/><stop offset="0.6375" stop-color="#a0d5fc"/><stop offset="0.65" stop-color="#aee0fb"/><stop offset="0.6625" stop-color="#bbe6fa"/><stop offset="0.675" stop-color="#c2e9f9"/><stop offset="0.6875" stop-color="#c9edf8"/><stop offset="0.7" stop-color="#d1f0f7"/><stop offset="0.7125" stop-color="#d8f3f5"/><stop offset="0.725" stop-color="#def5f0"/><stop offset="0.7375" stop-color="#e4f6eb"/><stop offset="0.75" stop-color="#ebf8e5"/><stop offset="0.7625" stop-color="#f1f9e0"/><stop offset="0.775" stop-color="#f5f9da"/><stop offset="0.7875" stop-color="#f8f8d0"/><stop offset="0.8" stop-color="#fcf6c0"/><stop offset="0.8125" stop-color="#fff2af"/><stop offset="0.825" stop-color="#feeca3"/><stop offset="0.8375" stop-color="#fee799"/><stop offset="0.85" stop-color="#fee28f"/><stop offset="0.8625" stop-color="#fddd85"/><stop offset="0.875" stop-color="#fdd87b"/><stop offset="0.8875" stop-color="#fcd174"/><stop offset="0.9" stop-color="#fbc76b"/><stop offset="0.9125" stop-color="#f9bc62"/><stop offset="0.925" stop-color="#f8b259"/><stop offset="0.9375" stop-color="#f6a751"/><stop offset="0.95" stop-color="#f39d4c"/><stop offset="0.9625" stop-color="#f09246"/><stop offset="0.975" stop-color="#ed8840"/><stop offset="0.9875" stop-color="#ea7d3b"/><stop offset="1" stop-color="#e57338"/></linearGradient><linearGradient id="cb" x1="0" y1="1" x2="0" y2="0"><stop offset="0" stop-color="#2d48e8"/><stop offset="0.12" stop-color="#4a76f2"/><stop offset="0.25" stop-color="#76b0fa"/><stop offset="0.36" stop-color="#aadefc"/><stop offset="0.45" stop-color="#d6f3f6"/><stop offset="0.52" stop-color="#f4fade"/><stop offset="0.6" stop-color="#fff4b4"/><stop offset="0.7" stop-color="#fdd87a"/><stop offset="0.8" stop-color="#f7ac54"/><stop offset="0.9" stop-color="#eb803c"/><stop offset="1" stop-color="#d65430"/></linearGradient>
<clipPath id="cd"><rect x="42.2" y="177.5" width="165.60000000000002" height="164.89999999999998"/></clipPath></defs>
<rect x="39.7" y="173.9" width="172.3" height="171.3" fill="#fff" stroke="#808080" stroke-width="1"/>
<g clip-path="url(#cd)">
<rect transform="translate(42,286.8)" y="-110.3" width="1.5" height="166.9" fill="url(#gd)"/>
<rect transform="translate(43,286.8)" y="-110.3" width="1.5" height="166.9" fill="url(#gd)"/>
<rect transform="translate(44,286.8)" y="-110.3" width="1.5" height="166.9" fill="url(#gd)"/>
<rect transform="translate(45,286.7)" y="-110.2" width="1.5" height="166.9" fill="url(#gd)"/>
<rect transform="translate(46,286.6)" y="-110.1" width="1.5" height="166.9" fill="url(#gd)"/>
<rect transform="translate(47,286.5)" y="-110" width="1.5" height="166.9" fill="url(#gd)"/>
<rect transform="translate(48,286.4)" y="-109.9" width="1.5" height="166.9" fill="url(#gd)"/>
<rect transform="translate(49,286.3)" y="-109.8" width="1.5" height="166.9" fill="url(#gd)"/>
<rect transform="translate(50,286.2)" y="-109.7" width="1.5" height="166.9" fill="url(#gd)"/>
<rect transform="translate(51,286)" y="-109.5" width="1.5" height="166.9" fill="url(#gd)"/>
<rect transform="translate(52,285.9)" y="-109.4" width="1.5" height="166.9" fill="url(#gd)"/>
<rect transform="translate(53,285.7)" y="-109.2" width="1.5" height="166.9" fill="url(#gd)"/>
<rect transform="translate(54,285.5)" y="-109" width="1.5" height="166.9" fill="url(#gd)"/>
<rect transform="translate(55,285.2)" y="-108.7" width="1.5" height="166.9" fill="url(#gd)"/>
<rect transform="translate(56,285)" y="-108.5" width="1.5" height="166.9" fill="url(#gd)"/>
<rect transform="translate(57,284.7)" y="-108.2" width="1.5" height="166.9" fill="url(#gd)"/>
<rect transform="translate(58,284.5)" y="-108" width="1.5" height="166.9" fill="url(#gd)"/>
<rect transform="translate(59,284.2)" y="-107.7" width="1.5" height="166.9" fill="url(#gd)"/>
<rect transform="translate(60,283.9)" y="-107.4" width="1.5" height="166.9" fill="url(#gd)"/>
<rect transform="translate(61,283.5)" y="-107" width="1.5" height="166.9" fill="url(#gd)"/>
<rect transform="translate(62,283.2)" y="-106.7" width="1.5" height="166.9" fill="url(#gd)"/>
<rect transform="translate(63,282.9)" y="-106.4" width="1.5" height="166.9" fill="url(#gd)"/>
<rect transform="translate(64,282.5)" y="-106" width="1.5" height="166.9" fill="url(#gd)"/>
<rect transform="translate(65,282.1)" y="-105.6" width="1.5" height="166.9" fill="url(#gd)"/>
<rect transform="translate(66,281.7)" y="-105.2" width="1.5" height="166.9" fill="url(#gd)"/>
<rect transform="translate(67,281.3)" y="-104.8" width="1.5" height="166.9" fill="url(#gd)"/>
<rect transform="translate(68,280.9)" y="-104.4" width="1.5" height="166.9" fill="url(#gd)"/>
<rect transform="translate(69,280.5)" y="-104" width="1.5" height="166.9" fill="url(#gd)"/>
<rect transform="translate(70,280)" y="-103.5" width="1.5" height="166.9" fill="url(#gd)"/>
<rect transform="translate(71,279.6)" y="-103.1" width="1.5" height="166.9" fill="url(#gd)"/>
<rect transform="translate(72,279.1)" y="-102.6" width="1.5" height="166.9" fill="url(#gd)"/>
<rect transform="translate(73,278.6)" y="-102.1" width="1.5" height="166.9" fill="url(#gd)"/>
<rect transform="translate(74,278.1)" y="-101.6" width="1.5" height="166.9" fill="url(#gd)"/>
<rect transform="translate(75,277.6)" y="-101.1" width="1.5" height="166.9" fill="url(#gd)"/>
<rect transform="translate(76,277.1)" y="-100.6" width="1.5" height="166.9" fill="url(#gd)"/>
<rect transform="translate(77,276.5)" y="-100" width="1.5" height="166.9" fill="url(#gd)"/>
<rect transform="translate(78,276)" y="-99.5" width="1.5" height="166.9" fill="url(#gd)"/>
<rect transform="translate(79,275.4)" y="-98.9" width="1.5" height="166.9" fill="url(#gd)"/>
<rect transform="translate(80,274.9)" y="-98.4" width="1.5" height="166.9" fill="url(#gd)"/>
<rect transform="translate(81,274.3)" y="-97.8" width="1.5" height="166.9" fill="url(#gd)"/>
<rect transform="translate(82,273.7)" y="-97.2" width="1.5" height="166.9" fill="url(#gd)"/>
<rect transform="translate(83,273.1)" y="-96.6" width="1.5" height="166.9" fill="url(#gd)"/>
<rect transform="translate(84,272.5)" y="-96" width="1.5" height="166.9" fill="url(#gd)"/>
<rect transform="translate(85,271.9)" y="-95.4" width="1.5" height="166.9" fill="url(#gd)"/>
<rect transform="translate(86,271.3)" y="-94.8" width="1.5" height="166.9" fill="url(#gd)"/>
<rect transform="translate(87,270.7)" y="-94.2" width="1.5" height="166.9" fill="url(#gd)"/>
<rect transform="translate(88,270)" y="-93.5" width="1.5" height="166.9" fill="url(#gd)"/>
<rect transform="translate(89,269.4)" y="-92.9" width="1.5" height="166.9" fill="url(#gd)"/>
<rect transform="translate(90,268.8)" y="-92.3" width="1.5" height="166.9" fill="url(#gd)"/>
<rect transform="translate(91,268.1)" y="-91.6" width="1.5" height="166.9" fill="url(#gd)"/>
<rect transform="translate(92,267.4)" y="-90.9" width="1.5" height="166.9" fill="url(#gd)"/>
<rect transform="translate(93,266.7)" y="-90.2" width="1.5" height="166.9" fill="url(#gd)"/>
<rect transform="translate(94,266.1)" y="-89.6" width="1.5" height="166.9" fill="url(#gd)"/>
<rect transform="translate(95,265.4)" y="-88.9" width="1.5" height="166.9" fill="url(#gd)"/>
<rect transform="translate(96,264.7)" y="-88.2" width="1.5" height="166.9" fill="url(#gd)"/>
<rect transform="translate(97,264)" y="-87.5" width="1.5" height="166.9" fill="url(#gd)"/>
<rect transform="translate(98,263.3)" y="-86.8" width="1.5" height="166.9" fill="url(#gd)"/>
<rect transform="translate(99,262.6)" y="-86.1" width="1.5" height="166.9" fill="url(#gd)"/>
<rect transform="translate(100,261.8)" y="-85.3" width="1.5" height="166.9" fill="url(#gd)"/>
<rect transform="translate(101,261.1)" y="-84.6" width="1.5" height="166.9" fill="url(#gd)"/>
<rect transform="translate(102,260.4)" y="-83.9" width="1.5" height="166.9" fill="url(#gd)"/>
<rect transform="translate(103,259.6)" y="-83.1" width="1.5" height="166.9" fill="url(#gd)"/>
<rect transform="translate(104,258.9)" y="-82.4" width="1.5" height="166.9" fill="url(#gd)"/>
<rect transform="translate(105,258.1)" y="-81.6" width="1.5" height="166.9" fill="url(#gd)"/>
<rect transform="translate(106,257.4)" y="-80.9" width="1.5" height="166.9" fill="url(#gd)"/>
<rect transform="translate(107,256.6)" y="-80.1" width="1.5" height="166.9" fill="url(#gd)"/>
<rect transform="translate(108,255.9)" y="-79.4" width="1.5" height="166.9" fill="url(#gd)"/>
<rect transform="translate(109,255.1)" y="-78.6" width="1.5" height="166.9" fill="url(#gd)"/>
<rect transform="translate(110,254.3)" y="-77.8" width="1.5" height="166.9" fill="url(#gd)"/>
<rect transform="translate(111,253.6)" y="-77.1" width="1.5" height="166.9" fill="url(#gd)"/>
<rect transform="translate(112,252.8)" y="-76.3" width="1.5" height="166.9" fill="url(#gd)"/>
<rect transform="translate(113,252)" y="-75.5" width="1.5" height="166.9" fill="url(#gd)"/>
<rect transform="translate(114,251.2)" y="-74.7" width="1.5" height="166.9" fill="url(#gd)"/>
<rect transform="translate(115,250.4)" y="-73.9" width="1.5" height="166.9" fill="url(#gd)"/>
<rect transform="translate(116,249.6)" y="-73.1" width="1.5" height="166.9" fill="url(#gd)"/>
<rect transform="translate(117,248.8)" y="-72.3" width="1.5" height="166.9" fill="url(#gd)"/>
<rect transform="translate(118,248)" y="-71.5" width="1.5" height="166.9" fill="url(#gd)"/>
<rect transform="translate(119,247.2)" y="-70.7" width="1.5" height="166.9" fill="url(#gd)"/>
<rect transform="translate(120,246.4)" y="-69.9" width="1.5" height="166.9" fill="url(#gd)"/>
<rect transform="translate(121,245.6)" y="-69.1" width="1.5" height="166.9" fill="url(#gd)"/>
<rect transform="translate(122,244.7)" y="-68.2" width="1.5" height="166.9" fill="url(#gd)"/>
<rect transform="translate(123,243.9)" y="-67.4" width="1.5" height="166.9" fill="url(#gd)"/>
<rect transform="translate(124,243.1)" y="-66.6" width="1.5" height="166.9" fill="url(#gd)"/>
<rect transform="translate(125,242.2)" y="-65.7" width="1.5" height="166.9" fill="url(#gd)"/>
<rect transform="translate(126,241.4)" y="-64.9" width="1.5" height="166.9" fill="url(#gd)"/>
<rect transform="translate(127,240.6)" y="-64.1" width="1.5" height="166.9" fill="url(#gd)"/>
<rect transform="translate(128,239.7)" y="-63.2" width="1.5" height="166.9" fill="url(#gd)"/>
<rect transform="translate(129,238.9)" y="-62.4" width="1.5" height="166.9" fill="url(#gd)"/>
<rect transform="translate(130,238.1)" y="-61.6" width="1.5" height="166.9" fill="url(#gd)"/>
<rect transform="translate(131,237.2)" y="-60.7" width="1.5" height="166.9" fill="url(#gd)"/>
<rect transform="translate(132,236.4)" y="-59.9" width="1.5" height="166.9" fill="url(#gd)"/>
<rect transform="translate(133,235.5)" y="-59" width="1.5" height="166.9" fill="url(#gd)"/>
<rect transform="translate(134,234.6)" y="-58.1" width="1.5" height="166.9" fill="url(#gd)"/>
<rect transform="translate(135,233.8)" y="-57.3" width="1.5" height="166.9" fill="url(#gd)"/>
<rect transform="translate(136,232.9)" y="-56.4" width="1.5" height="166.9" fill="url(#gd)"/>
<rect transform="translate(137,232.1)" y="-55.6" width="1.5" height="166.9" fill="url(#gd)"/>
<rect transform="translate(138,231.2)" y="-54.7" width="1.5" height="166.9" fill="url(#gd)"/>
<rect transform="translate(139,230.3)" y="-53.8" width="1.5" height="166.9" fill="url(#gd)"/>
<rect transform="translate(140,229.5)" y="-53" width="1.5" height="166.9" fill="url(#gd)"/>
<rect transform="translate(141,228.6)" y="-52.1" width="1.5" height="166.9" fill="url(#gd)"/>
<rect transform="translate(142,227.7)" y="-51.2" width="1.5" height="166.9" fill="url(#gd)"/>
<rect transform="translate(143,226.8)" y="-50.3" width="1.5" height="166.9" fill="url(#gd)"/>
<rect transform="translate(144,226)" y="-49.5" width="1.5" height="166.9" fill="url(#gd)"/>
<rect transform="translate(145,225.1)" y="-48.6" width="1.5" height="166.9" fill="url(#gd)"/>
<rect transform="translate(146,224.2)" y="-47.7" width="1.5" height="166.9" fill="url(#gd)"/>
<rect transform="translate(147,223.3)" y="-46.8" width="1.5" height="166.9" fill="url(#gd)"/>
<rect transform="translate(148,222.4)" y="-45.9" width="1.5" height="166.9" fill="url(#gd)"/>
<rect transform="translate(149,221.6)" y="-45.1" width="1.5" height="166.9" fill="url(#gd)"/>
<rect transform="translate(150,220.7)" y="-44.2" width="1.5" height="166.9" fill="url(#gd)"/>
<rect transform="translate(151,219.8)" y="-43.3" width="1.5" height="166.9" fill="url(#gd)"/>
<rect transform="translate(152,218.9)" y="-42.4" width="1.5" height="166.9" fill="url(#gd)"/>
<rect transform="translate(153,218)" y="-41.5" width="1.5" height="166.9" fill="url(#gd)"/>
<rect transform="translate(154,217.1)" y="-40.6" width="1.5" height="166.9" fill="url(#gd)"/>
<rect transform="translate(155,216.2)" y="-39.7" width="1.5" height="166.9" fill="url(#gd)"/>
<rect transform="translate(156,215.3)" y="-38.8" width="1.5" height="166.9" fill="url(#gd)"/>
<rect transform="translate(157,214.4)" y="-37.9" width="1.5" height="166.9" fill="url(#gd)"/>
<rect transform="translate(158,213.5)" y="-37" width="1.5" height="166.9" fill="url(#gd)"/>
<rect transform="translate(159,212.6)" y="-36.1" width="1.5" height="166.9" fill="url(#gd)"/>
<rect transform="translate(160,211.7)" y="-35.2" width="1.5" height="166.9" fill="url(#gd)"/>
<rect transform="translate(161,210.8)" y="-34.3" width="1.5" height="166.9" fill="url(#gd)"/>
<rect transform="translate(162,209.9)" y="-33.4" width="1.5" height="166.9" fill="url(#gd)"/>
<rect transform="translate(163,209)" y="-32.5" width="1.5" height="166.9" fill="url(#gd)"/>
<rect transform="translate(164,208.1)" y="-31.6" width="1.5" height="166.9" fill="url(#gd)"/>
<rect transform="translate(165,207.1)" y="-30.6" width="1.5" height="166.9" fill="url(#gd)"/>
<rect transform="translate(166,206.2)" y="-29.7" width="1.5" height="166.9" fill="url(#gd)"/>
<rect transform="translate(167,205.3)" y="-28.8" width="1.5" height="166.9" fill="url(#gd)"/>
<rect transform="translate(168,204.4)" y="-27.9" width="1.5" height="166.9" fill="url(#gd)"/>
<rect transform="translate(169,203.5)" y="-27" width="1.5" height="166.9" fill="url(#gd)"/>
<rect transform="translate(170,202.6)" y="-26.1" width="1.5" height="166.9" fill="url(#gd)"/>
<rect transform="translate(171,201.7)" y="-25.2" width="1.5" height="166.9" fill="url(#gd)"/>
<rect transform="translate(172,200.7)" y="-24.2" width="1.5" height="166.9" fill="url(#gd)"/>
<rect transform="translate(173,199.8)" y="-23.3" width="1.5" height="166.9" fill="url(#gd)"/>
<rect transform="translate(174,198.9)" y="-22.4" width="1.5" height="166.9" fill="url(#gd)"/>
<rect transform="translate(175,198)" y="-21.5" width="1.5" height="166.9" fill="url(#gd)"/>
<rect transform="translate(176,197)" y="-20.5" width="1.5" height="166.9" fill="url(#gd)"/>
<rect transform="translate(177,196.1)" y="-19.6" width="1.5" height="166.9" fill="url(#gd)"/>
<rect transform="translate(178,195.2)" y="-18.7" width="1.5" height="166.9" fill="url(#gd)"/>
<rect transform="translate(179,194.3)" y="-17.8" width="1.5" height="166.9" fill="url(#gd)"/>
<rect transform="translate(180,193.3)" y="-16.8" width="1.5" height="166.9" fill="url(#gd)"/>
<rect transform="translate(181,192.4)" y="-15.9" width="1.5" height="166.9" fill="url(#gd)"/>
<rect transform="translate(182,191.5)" y="-15" width="1.5" height="166.9" fill="url(#gd)"/>
<rect transform="translate(183,190.6)" y="-14.1" width="1.5" height="166.9" fill="url(#gd)"/>
<rect transform="translate(184,189.6)" y="-13.1" width="1.5" height="166.9" fill="url(#gd)"/>
<rect transform="translate(185,188.7)" y="-12.2" width="1.5" height="166.9" fill="url(#gd)"/>
<rect transform="translate(186,187.8)" y="-11.3" width="1.5" height="166.9" fill="url(#gd)"/>
<rect transform="translate(187,186.8)" y="-10.3" width="1.5" height="166.9" fill="url(#gd)"/>
<rect transform="translate(188,185.9)" y="-9.4" width="1.5" height="166.9" fill="url(#gd)"/>
<rect transform="translate(189,185)" y="-8.5" width="1.5" height="166.9" fill="url(#gd)"/>
<rect transform="translate(190,184)" y="-7.5" width="1.5" height="166.9" fill="url(#gd)"/>
<rect transform="translate(191,183.1)" y="-6.6" width="1.5" height="166.9" fill="url(#gd)"/>
<rect transform="translate(192,182.1)" y="-5.6" width="1.5" height="166.9" fill="url(#gd)"/>
<rect transform="translate(193,181.2)" y="-4.7" width="1.5" height="166.9" fill="url(#gd)"/>
<rect transform="translate(194,180.3)" y="-3.8" width="1.5" height="166.9" fill="url(#gd)"/>
<rect transform="translate(195,179.3)" y="-2.8" width="1.5" height="166.9" fill="url(#gd)"/>
<rect transform="translate(196,178.4)" y="-1.9" width="1.5" height="166.9" fill="url(#gd)"/>
<rect transform="translate(197,177.4)" y="-0.9" width="1.5" height="166.9" fill="url(#gd)"/>
<rect transform="translate(198,176.5)" y="0" width="1.5" height="166.9" fill="url(#gd)"/>
<rect transform="translate(199,175.6)" y="0.9" width="1.5" height="166.9" fill="url(#gd)"/>
<rect transform="translate(200,174.6)" y="1.9" width="1.5" height="166.9" fill="url(#gd)"/>
<rect transform="translate(201,173.7)" y="2.8" width="1.5" height="166.9" fill="url(#gd)"/>
<rect transform="translate(202,172.7)" y="3.8" width="1.5" height="166.9" fill="url(#gd)"/>
<rect transform="translate(203,171.8)" y="4.7" width="1.5" height="166.9" fill="url(#gd)"/>
<rect transform="translate(204,170.8)" y="5.7" width="1.5" height="166.9" fill="url(#gd)"/>
<rect transform="translate(205,169.9)" y="6.6" width="1.5" height="166.9" fill="url(#gd)"/>
<rect transform="translate(206,168.9)" y="7.6" width="1.5" height="166.9" fill="url(#gd)"/>
<rect transform="translate(207,168)" y="8.5" width="1.5" height="166.9" fill="url(#gd)"/>
</g>
<line x1="42.5" y1="342.4" x2="202.5" y2="180.6" stroke="#000" stroke-width="1.1" stroke-dasharray="1.6 1.5"/>
<path d="M42.2 286.8L46.2 286.7L50.1 286.2L54.1 285.6L58 284.6L62 283.4L65.9 282L69.9 280.3L73.8 278.4L77.8 276.4L81.7 274.2L85.7 271.8L89.6 269.3L93.6 266.7L97.5 264L101.5 261.1L105.4 258.2L109.4 255.2L113.3 252.1L117.3 249L121.2 245.8L125.2 242.5L129.1 239.2L133.1 235.9L137 232.5L141 229L144.9 225.6L148.9 222.1L152.8 218.6L156.8 215L160.7 211.5L164.7 207.9L168.6 204.3L172.6 200.6L176.5 197L180.5 193.3L184.4 189.7L188.4 186L192.3 182.3L196.3 178.6" stroke="#c62a4e" stroke-width="2" fill="none"/>
<g stroke="#0000ff" fill="none" stroke-width="1.05">
<circle cx="64.2" cy="221.4" r="4.7" stroke-width="1.4" fill="#fff" fill-opacity="0.45"/>
<path d="M65.3 226.2C65.7 227.8 66.1 231.4 67.4 235.6C68.7 239.8 70.7 245.6 73.1 251.3C75.5 257 78.8 264.3 81.6 269.8C84.4 275.3 87.7 279.8 90.2 284.1C92.7 288.4 94.2 291.7 96.8 295.5C99.4 299.3 103.2 303.1 105.9 306.9C108.6 310.7 111.1 314.5 113 318.3C114.9 322.1 116.3 325.9 117.3 329.7C118.2 333.5 118.5 339.2 118.7 341.1"/>
<path d="M113.3 336l11 11M124.3 336l-11 11" stroke-width="1.7"/>
</g>
<path transform="translate(73.9,253.5) rotate(68)" d="M0 0L-8 -2.6L-6.2 0L-8 2.6Z" fill="#0000ff"/>
<path transform="translate(98.2,297.5) rotate(56)" d="M0 0L-8 -2.6L-6.2 0L-8 2.6Z" fill="#0000ff"/>
<line x1="35.4" y1="292" x2="35.4" y2="338" stroke="#000" stroke-width="1.3"/>
<path transform="translate(35.4,287.3) rotate(-90)" d="M0 0L-8.5 -2.7L-6.7 0L-8.5 2.7Z" fill="#000"/>
<path transform="translate(35.4,342.8) rotate(90)" d="M0 0L-8.5 -2.7L-6.7 0L-8.5 2.7Z" fill="#000"/>
<rect x="222.4" y="227.9" width="8.9" height="58.5" fill="url(#cb)"/>
<text x="228.2" y="221.5" font-family="Liberation Serif,serif" font-size="14.8" text-anchor="middle">max</text>
<text x="227.5" y="304.3" font-family="Liberation Serif,serif" font-size="16.5" text-anchor="middle">0</text>
<text transform="translate(238.3,257.8) rotate(90) scale(1.12,1)" font-family="Liberation Serif,serif" font-size="19" font-style="italic" text-anchor="middle"><tspan font-style="normal">Δ</tspan>E<tspan font-size="12.5" dy="3.5" font-weight="bold">k</tspan></text>
<text transform="translate(121.5,233.5) rotate(-38.5)" font-family="Liberation Serif,serif" font-size="18" letter-spacing="0.7" font-style="italic" stroke="#c62a4e" stroke-width="0.3" fill="#c62a4e" text-anchor="middle"><tspan font-style="normal">Δ</tspan>E<tspan font-size="11" dy="3">k</tspan><tspan dy="-3" font-style="normal"> = 0</tspan></text>
<text transform="translate(144,261) rotate(-41.6)" font-family="Liberation Serif,serif" font-size="17.5" letter-spacing="0.9" font-style="italic" text-anchor="middle"><tspan font-style="normal">|</tspan>ϵ<tspan font-size="11" dy="3" font-weight="bold">k</tspan><tspan dy="-3" font-style="normal"> − </tspan>μ<tspan font-style="normal">| = |</tspan>δ<tspan font-size="11" dy="3" font-weight="bold">k</tspan><tspan dy="-3" font-style="normal">|</tspan></text>
<text transform="translate(27.3,260) rotate(-90) scale(1.08,1)" font-family="Liberation Serif,serif" font-size="18.5" letter-spacing="0.5" font-style="italic" fill="#333" text-anchor="middle"><tspan font-style="normal">|</tspan>δ<tspan font-size="13" dy="3.5" font-weight="bold">k</tspan><tspan dy="-3.5" font-style="normal">|</tspan></text>
<text transform="translate(16.5,318.5) scale(1.2,1)" font-family="Liberation Serif,serif" font-size="19.5" letter-spacing="0.4" font-style="italic" text-anchor="middle"><tspan font-style="normal">|Δ</tspan><tspan font-size="13" dy="3.5" font-weight="bold">k</tspan><tspan dy="-3.5" font-style="normal">|</tspan></text>
<text transform="translate(118.5,366.8) scale(1.04,1)" font-family="Liberation Serif,serif" font-size="19.5" letter-spacing="0.5" font-style="italic" text-anchor="middle"><tspan font-style="normal">|</tspan>ϵ<tspan font-size="13" dy="3.5" font-weight="bold">k</tspan><tspan dy="-3.5" font-style="normal"> − </tspan>μ<tspan font-style="normal">|</tspan></text>
<text x="31" y="356.8" font-family="Liberation Sans,sans-serif" font-size="15" text-anchor="middle">0</text>
<!-- pe -->
<defs><linearGradient id="e1" gradientUnits="userSpaceOnUse" x1="325.1" x2="490.1"><stop offset="0" stop-color="#fdf5bb"/><stop offset="0.1636" stop-color="#fef5b9"/><stop offset="0.303" stop-color="#fff2af"/><stop offset="0.4242" stop-color="#fee99e"/><stop offset="0.5758" stop-color="#fdda7d"/><stop offset="0.8061" stop-color="#f7ad55"/><stop offset="1" stop-color="#ec823d"/></linearGradient><linearGradient id="e2" gradientUnits="userSpaceOnUse" x1="325.1" x2="490.1"><stop offset="0" stop-color="#faf7c8"/><stop offset="0.1515" stop-color="#faf7c6"/><stop offset="0.297" stop-color="#fdf5bc"/><stop offset="0.4121" stop-color="#fff1ae"/><stop offset="0.5515" stop-color="#fee493"/><stop offset="0.6727" stop-color="#fcd477"/><stop offset="0.8727" stop-color="#f6a953"/><stop offset="1" stop-color="#ee8c42"/></linearGradient><linearGradient id="e3" gradientUnits="userSpaceOnUse" x1="325.1" x2="490.1"><stop offset="0" stop-color="#f5f9d8"/><stop offset="0.1394" stop-color="#f6f9d7"/><stop offset="0.2667" stop-color="#f8f8cf"/><stop offset="0.4061" stop-color="#fcf6bf"/><stop offset="0.5455" stop-color="#ffeea7"/><stop offset="0.7394" stop-color="#fdd577"/><stop offset="0.903" stop-color="#f7af57"/><stop offset="1" stop-color="#f29849"/></linearGradient><linearGradient id="e4" gradientUnits="userSpaceOnUse" x1="325.1" x2="490.1"><stop offset="0" stop-color="#ecf8e5"/><stop offset="0.1697" stop-color="#eef9e3"/><stop offset="0.297" stop-color="#f4f9db"/><stop offset="0.5818" stop-color="#fff2b0"/><stop offset="0.7758" stop-color="#fdd97e"/><stop offset="1" stop-color="#f5a44f"/></linearGradient><linearGradient id="e5" gradientUnits="userSpaceOnUse" x1="325.1" x2="490.1"><stop offset="0" stop-color="#e0f5ee"/><stop offset="0.2424" stop-color="#e6f7e9"/><stop offset="0.4424" stop-color="#f6f9d6"/><stop offset="0.6182" stop-color="#fef5b8"/><stop offset="0.7152" stop-color="#feeba1"/><stop offset="0.8485" stop-color="#fdd578"/><stop offset="1" stop-color="#f7af56"/></linearGradient><linearGradient id="e6" gradientUnits="userSpaceOnUse" x1="325.1" x2="490.1"><stop offset="0" stop-color="#d6f3f5"/><stop offset="0.2424" stop-color="#dcf4f1"/><stop offset="0.497" stop-color="#f5fadb"/><stop offset="0.7273" stop-color="#fff0ac"/><stop offset="0.8727" stop-color="#fdda7d"/><stop offset="1" stop-color="#f9b95f"/></linearGradient><linearGradient id="e7" gradientUnits="userSpaceOnUse" x1="325.1" x2="490.1"><stop offset="0" stop-color="#c9edf8"/><stop offset="0.1394" stop-color="#cbeef8"/><stop offset="0.303" stop-color="#d8f3f4"/><stop offset="0.5333" stop-color="#f2f9e0"/><stop offset="0.7576" stop-color="#fff2b1"/><stop offset="0.9273" stop-color="#fdd679"/><stop offset="1" stop-color="#fac368"/></linearGradient><linearGradient id="e8" gradientUnits="userSpaceOnUse" x1="325.1" x2="490.1"><stop offset="0" stop-color="#b8e5fa"/><stop offset="0.1455" stop-color="#bbe6fa"/><stop offset="0.3576" stop-color="#d4f2f6"/><stop offset="0.5879" stop-color="#f1f9e1"/><stop offset="0.7939" stop-color="#fff3b2"/><stop offset="0.9515" stop-color="#fdd97c"/><stop offset="1" stop-color="#fccd71"/></linearGradient><linearGradient id="e9" gradientUnits="userSpaceOnUse" x1="325.1" x2="490.1"><stop offset="0" stop-color="#a3d8fc"/><stop offset="0.1515" stop-color="#a9dcfc"/><stop offset="0.4303" stop-color="#d4f2f6"/><stop offset="0.5879" stop-color="#e9f7e7"/><stop offset="0.6606" stop-color="#f5fadc"/><stop offset="0.8182" stop-color="#fff4b5"/><stop offset="1" stop-color="#fdd77a"/></linearGradient><linearGradient id="e10" gradientUnits="userSpaceOnUse" x1="325.1" x2="490.1"><stop offset="0" stop-color="#8bc2fb"/><stop offset="0.1333" stop-color="#91c7fb"/><stop offset="0.2909" stop-color="#afe0fb"/><stop offset="0.4909" stop-color="#d4f2f6"/><stop offset="0.5818" stop-color="#e1f6ed"/><stop offset="0.697" stop-color="#f5fadc"/><stop offset="0.8485" stop-color="#fef4b7"/><stop offset="1" stop-color="#fddd85"/></linearGradient><linearGradient id="e11" gradientUnits="userSpaceOnUse" x1="325.1" x2="490.1"><stop offset="0" stop-color="#70a8f9"/><stop offset="0.07879" stop-color="#71a9f9"/><stop offset="0.1333" stop-color="#78b1fa"/><stop offset="0.3515" stop-color="#addffc"/><stop offset="0.4606" stop-color="#c8ecf8"/><stop offset="0.5515" stop-color="#d7f3f5"/><stop offset="0.7333" stop-color="#f5fadc"/><stop offset="0.8848" stop-color="#fff4b5"/><stop offset="1" stop-color="#fee390"/></linearGradient><linearGradient id="e12" gradientUnits="userSpaceOnUse" x1="325.1" x2="490.1"><stop offset="0" stop-color="#5787f4"/><stop offset="0.07879" stop-color="#5889f5"/><stop offset="0.1818" stop-color="#6da4f8"/><stop offset="0.3939" stop-color="#abdefc"/><stop offset="0.4909" stop-color="#c6ebf8"/><stop offset="0.5879" stop-color="#d7f3f5"/><stop offset="0.7636" stop-color="#f4fadc"/><stop offset="0.9152" stop-color="#fff4b5"/><stop offset="1" stop-color="#fee89b"/></linearGradient><linearGradient id="e13" gradientUnits="userSpaceOnUse" x1="325.1" x2="490.1"><stop offset="0" stop-color="#3f65ee"/><stop offset="0.06667" stop-color="#4066ef"/><stop offset="0.1515" stop-color="#507df3"/><stop offset="0.2909" stop-color="#79b3fa"/><stop offset="0.3758" stop-color="#9ad0fb"/><stop offset="0.4303" stop-color="#abdefc"/><stop offset="0.4909" stop-color="#bde7f9"/><stop offset="0.6182" stop-color="#d7f3f5"/><stop offset="0.7697" stop-color="#f1f9e1"/><stop offset="0.9394" stop-color="#fef4b6"/><stop offset="1" stop-color="#feeda4"/></linearGradient><linearGradient id="e14" gradientUnits="userSpaceOnUse" x1="325.1" x2="490.1"><stop offset="0" stop-color="#314fea"/><stop offset="0.06061" stop-color="#3250ea"/><stop offset="0.1091" stop-color="#3757eb"/><stop offset="0.1879" stop-color="#4670f1"/><stop offset="0.3152" stop-color="#74adfa"/><stop offset="0.4061" stop-color="#98cefb"/><stop offset="0.4727" stop-color="#ade0fc"/><stop offset="0.5758" stop-color="#caedf8"/><stop offset="0.6485" stop-color="#d7f3f5"/><stop offset="0.7576" stop-color="#e9f7e7"/><stop offset="0.8242" stop-color="#f5fadb"/><stop offset="1" stop-color="#fff0ad"/></linearGradient><linearGradient id="e15" gradientUnits="userSpaceOnUse" x1="325.1" x2="490.1"><stop offset="0" stop-color="#2d49e8"/><stop offset="0.1091" stop-color="#2f4be9"/><stop offset="0.1636" stop-color="#3453ea"/><stop offset="0.2303" stop-color="#4670f1"/><stop offset="0.3394" stop-color="#70a8f9"/><stop offset="0.4424" stop-color="#99cffb"/><stop offset="0.503" stop-color="#ade0fc"/><stop offset="0.6" stop-color="#c9edf8"/><stop offset="0.6727" stop-color="#d6f3f5"/><stop offset="0.7758" stop-color="#e7f7e8"/><stop offset="0.8424" stop-color="#f4fadd"/><stop offset="1" stop-color="#fff4b4"/></linearGradient><linearGradient id="e16" gradientUnits="userSpaceOnUse" x1="325.1" x2="490.1"><stop offset="0" stop-color="#2d48e8"/><stop offset="0.1515" stop-color="#2e49e8"/><stop offset="0.1939" stop-color="#3250ea"/><stop offset="0.2667" stop-color="#4771f1"/><stop offset="0.3697" stop-color="#70a8f9"/><stop offset="0.4667" stop-color="#98cefb"/><stop offset="0.5273" stop-color="#acdffc"/><stop offset="0.6242" stop-color="#c9edf8"/><stop offset="0.697" stop-color="#d6f3f6"/><stop offset="0.7879" stop-color="#e5f7ea"/><stop offset="0.8667" stop-color="#f4fadc"/><stop offset="1" stop-color="#fef5b9"/></linearGradient><linearGradient id="e17" gradientUnits="userSpaceOnUse" x1="325.1" x2="490.1"><stop offset="0" stop-color="#2d48e8"/><stop offset="0.1758" stop-color="#2d48e8"/><stop offset="0.2242" stop-color="#314ee9"/><stop offset="0.297" stop-color="#4771f1"/><stop offset="0.3879" stop-color="#6da4f8"/><stop offset="0.4909" stop-color="#97cdfb"/><stop offset="0.5515" stop-color="#acdffc"/><stop offset="0.6485" stop-color="#c9edf8"/><stop offset="0.7212" stop-color="#d7f3f5"/><stop offset="0.8061" stop-color="#e5f6ea"/><stop offset="0.8848" stop-color="#f4fadd"/><stop offset="1" stop-color="#fcf6bf"/></linearGradient><linearGradient id="e18" gradientUnits="userSpaceOnUse" x1="325.1" x2="490.1"><stop offset="0" stop-color="#2d48e8"/><stop offset="0.2061" stop-color="#2d48e8"/><stop offset="0.2485" stop-color="#304de9"/><stop offset="0.3273" stop-color="#4872f1"/><stop offset="0.4182" stop-color="#6ea6f9"/><stop offset="0.5152" stop-color="#97cdfb"/><stop offset="0.5758" stop-color="#addffc"/><stop offset="0.6667" stop-color="#c9edf8"/><stop offset="0.7394" stop-color="#d6f3f6"/><stop offset="0.8061" stop-color="#e1f6ed"/><stop offset="0.903" stop-color="#f4fadd"/><stop offset="1" stop-color="#fbf6c4"/></linearGradient><linearGradient id="e19" gradientUnits="userSpaceOnUse" x1="325.1" x2="490.1"><stop offset="0" stop-color="#2d48e8"/><stop offset="0.2364" stop-color="#2d48e8"/><stop offset="0.2788" stop-color="#304de9"/><stop offset="0.3515" stop-color="#4873f1"/><stop offset="0.4303" stop-color="#6ba2f8"/><stop offset="0.5273" stop-color="#94cafb"/><stop offset="0.5879" stop-color="#aadefc"/><stop offset="0.6788" stop-color="#c7ecf8"/><stop offset="0.7636" stop-color="#d7f3f5"/><stop offset="0.9152" stop-color="#f3fadf"/><stop offset="1" stop-color="#f9f7ca"/></linearGradient><linearGradient id="e20" gradientUnits="userSpaceOnUse" x1="325.1" x2="490.1"><stop offset="0" stop-color="#2d48e8"/><stop offset="0.2606" stop-color="#2d48e8"/><stop offset="0.297" stop-color="#304ce9"/><stop offset="0.3697" stop-color="#4772f1"/><stop offset="0.4485" stop-color="#6ba1f8"/><stop offset="0.5515" stop-color="#96ccfb"/><stop offset="0.6061" stop-color="#a9ddfc"/><stop offset="0.697" stop-color="#c6ebf8"/><stop offset="0.7818" stop-color="#d7f3f5"/><stop offset="0.9394" stop-color="#f4fade"/><stop offset="1" stop-color="#f8f8ce"/></linearGradient><linearGradient id="e21" gradientUnits="userSpaceOnUse" x1="325.1" x2="490.1"><stop offset="0" stop-color="#2d48e8"/><stop offset="0.2848" stop-color="#2d48e8"/><stop offset="0.3212" stop-color="#304de9"/><stop offset="0.3939" stop-color="#4974f2"/><stop offset="0.4667" stop-color="#6aa0f8"/><stop offset="0.5697" stop-color="#95cbfb"/><stop offset="0.6242" stop-color="#a9ddfc"/><stop offset="0.7152" stop-color="#c6ecf8"/><stop offset="0.8" stop-color="#d7f3f5"/><stop offset="0.9515" stop-color="#f3fadf"/><stop offset="1" stop-color="#f7f8d3"/></linearGradient><linearGradient id="e22" gradientUnits="userSpaceOnUse" x1="325.1" x2="490.1"><stop offset="0" stop-color="#2d48e8"/><stop offset="0.303" stop-color="#2d48e8"/><stop offset="0.3394" stop-color="#304de9"/><stop offset="0.4121" stop-color="#4874f1"/><stop offset="0.4848" stop-color="#6aa0f8"/><stop offset="0.5879" stop-color="#95ccfb"/><stop offset="0.6424" stop-color="#a9ddfc"/><stop offset="0.7333" stop-color="#c7ecf8"/><stop offset="0.8121" stop-color="#d6f3f6"/><stop offset="1" stop-color="#f6f9d8"/></linearGradient><linearGradient id="e23" gradientUnits="userSpaceOnUse" x1="325.1" x2="490.1"><stop offset="0" stop-color="#2d48e8"/><stop offset="0.3212" stop-color="#2d48e8"/><stop offset="0.3576" stop-color="#304de9"/><stop offset="0.4303" stop-color="#4974f2"/><stop offset="0.503" stop-color="#6aa1f8"/><stop offset="0.6" stop-color="#93cafb"/><stop offset="0.6545" stop-color="#a8dcfc"/><stop offset="0.7576" stop-color="#c8edf8"/><stop offset="0.8303" stop-color="#d6f3f6"/><stop offset="1" stop-color="#f4fadc"/></linearGradient><linearGradient id="e24" gradientUnits="userSpaceOnUse" x1="325.1" x2="490.1"><stop offset="0" stop-color="#2d48e8"/><stop offset="0.3394" stop-color="#2d48e8"/><stop offset="0.3758" stop-color="#304de9"/><stop offset="0.4485" stop-color="#4975f2"/><stop offset="0.5212" stop-color="#6ba1f8"/><stop offset="0.6182" stop-color="#94cafb"/><stop offset="0.6727" stop-color="#a8dcfc"/><stop offset="0.7758" stop-color="#c9edf8"/><stop offset="0.8485" stop-color="#d7f3f5"/><stop offset="1" stop-color="#f2fae0"/></linearGradient><linearGradient id="e25" gradientUnits="userSpaceOnUse" x1="325.1" x2="490.1"><stop offset="0" stop-color="#2d48e8"/><stop offset="0.3879" stop-color="#2f4be9"/><stop offset="0.4606" stop-color="#4872f1"/><stop offset="0.5333" stop-color="#699ff8"/><stop offset="0.6364" stop-color="#95cbfb"/><stop offset="0.6909" stop-color="#a9ddfc"/><stop offset="0.7879" stop-color="#c8ecf8"/><stop offset="0.8606" stop-color="#d6f3f6"/><stop offset="1" stop-color="#eff9e2"/></linearGradient><linearGradient id="e26" gradientUnits="userSpaceOnUse" x1="325.1" x2="490.1"><stop offset="0" stop-color="#2d48e8"/><stop offset="0.3697" stop-color="#2d48e8"/><stop offset="0.4061" stop-color="#2f4ce9"/><stop offset="0.4788" stop-color="#4873f1"/><stop offset="0.5515" stop-color="#6aa0f8"/><stop offset="0.6485" stop-color="#93cafb"/><stop offset="0.703" stop-color="#a8dcfc"/><stop offset="0.8061" stop-color="#c9edf8"/><stop offset="0.8788" stop-color="#d7f3f5"/><stop offset="1" stop-color="#ebf8e5"/></linearGradient><linearGradient id="e27" gradientUnits="userSpaceOnUse" x1="325.1" x2="490.1"><stop offset="0" stop-color="#2d48e8"/><stop offset="0.4182" stop-color="#2f4be9"/><stop offset="0.497" stop-color="#4a75f2"/><stop offset="0.5636" stop-color="#699ff8"/><stop offset="0.703" stop-color="#a3d8fc"/><stop offset="0.8182" stop-color="#c8ecf8"/><stop offset="0.8909" stop-color="#d6f3f6"/><stop offset="1" stop-color="#e8f7e8"/></linearGradient><linearGradient id="e28" gradientUnits="userSpaceOnUse" x1="325.1" x2="490.1"><stop offset="0" stop-color="#2d48e8"/><stop offset="0.4061" stop-color="#2d48e8"/><stop offset="0.4364" stop-color="#2f4ce9"/><stop offset="0.5091" stop-color="#4873f1"/><stop offset="0.5758" stop-color="#689df7"/><stop offset="0.7152" stop-color="#a2d7fc"/><stop offset="0.8364" stop-color="#c9edf8"/><stop offset="0.903" stop-color="#d6f3f6"/><stop offset="1" stop-color="#e5f7ea"/></linearGradient><linearGradient id="e29" gradientUnits="userSpaceOnUse" x1="325.1" x2="490.1"><stop offset="0" stop-color="#2d48e8"/><stop offset="0.4485" stop-color="#2f4be9"/><stop offset="0.5273" stop-color="#4a75f2"/><stop offset="0.5939" stop-color="#699ff8"/><stop offset="0.7273" stop-color="#a1d6fc"/><stop offset="0.8485" stop-color="#c8ecf8"/><stop offset="0.9212" stop-color="#d6f3f6"/><stop offset="1" stop-color="#e3f6ec"/></linearGradient><linearGradient id="e30" gradientUnits="userSpaceOnUse" x1="325.1" x2="490.1"><stop offset="0" stop-color="#2d48e8"/><stop offset="0.4364" stop-color="#2d48e8"/><stop offset="0.4667" stop-color="#2f4ce9"/><stop offset="0.5394" stop-color="#4873f1"/><stop offset="0.6061" stop-color="#689df7"/><stop offset="0.7394" stop-color="#a0d5fc"/><stop offset="0.8606" stop-color="#c8ecf8"/><stop offset="0.9333" stop-color="#d6f3f6"/><stop offset="1" stop-color="#e1f6ed"/></linearGradient><linearGradient id="e31" gradientUnits="userSpaceOnUse" x1="325.1" x2="490.1"><stop offset="0" stop-color="#2d48e8"/><stop offset="0.4788" stop-color="#2f4be9"/><stop offset="0.5515" stop-color="#4873f1"/><stop offset="0.6182" stop-color="#689df7"/><stop offset="0.7455" stop-color="#9ed3fc"/><stop offset="0.7818" stop-color="#aadefc"/><stop offset="0.8667" stop-color="#c7ecf8"/><stop offset="1" stop-color="#dff5ef"/></linearGradient><linearGradient id="e32" gradientUnits="userSpaceOnUse" x1="325.1" x2="490.1"><stop offset="0" stop-color="#2d48e8"/><stop offset="0.4909" stop-color="#2e4ae9"/><stop offset="0.5636" stop-color="#4872f1"/><stop offset="0.6303" stop-color="#689df7"/><stop offset="0.7576" stop-color="#9ed3fc"/><stop offset="0.7939" stop-color="#aadefc"/><stop offset="0.8788" stop-color="#c7ecf8"/><stop offset="1" stop-color="#dbf4f2"/></linearGradient><linearGradient id="e33" gradientUnits="userSpaceOnUse" x1="325.1" x2="490.1"><stop offset="0" stop-color="#2d48e8"/><stop offset="0.497" stop-color="#2e49e8"/><stop offset="0.5273" stop-color="#3555eb"/><stop offset="0.6424" stop-color="#689df7"/><stop offset="0.7697" stop-color="#9ed3fc"/><stop offset="0.8061" stop-color="#aadefc"/><stop offset="0.8909" stop-color="#c6ecf8"/><stop offset="1" stop-color="#d6f3f6"/></linearGradient><linearGradient id="e34" gradientUnits="userSpaceOnUse" x1="325.1" x2="490.1"><stop offset="0" stop-color="#2d48e8"/><stop offset="0.5091" stop-color="#2e49e8"/><stop offset="0.5394" stop-color="#3555eb"/><stop offset="0.6545" stop-color="#689df7"/><stop offset="0.7818" stop-color="#9ed3fc"/><stop offset="0.8182" stop-color="#aadefc"/><stop offset="0.8848" stop-color="#c0e8f9"/><stop offset="1" stop-color="#ceeff7"/></linearGradient><linearGradient id="e35" gradientUnits="userSpaceOnUse" x1="325.1" x2="490.1"><stop offset="0" stop-color="#2d48e8"/><stop offset="0.5212" stop-color="#2e49e8"/><stop offset="0.5515" stop-color="#3555eb"/><stop offset="0.6667" stop-color="#689df7"/><stop offset="0.7939" stop-color="#9ed3fc"/><stop offset="0.8727" stop-color="#b7e4fa"/><stop offset="1" stop-color="#c6ebf8"/></linearGradient><linearGradient id="e36" gradientUnits="userSpaceOnUse" x1="325.1" x2="490.1"><stop offset="0" stop-color="#2d48e8"/><stop offset="0.5333" stop-color="#2e49e8"/><stop offset="0.5636" stop-color="#3555eb"/><stop offset="0.6788" stop-color="#689df7"/><stop offset="0.8061" stop-color="#9ed3fc"/><stop offset="0.8606" stop-color="#afe0fb"/><stop offset="1" stop-color="#bee8f9"/></linearGradient><linearGradient id="e37" gradientUnits="userSpaceOnUse" x1="325.1" x2="490.1"><stop offset="0" stop-color="#2d48e8"/><stop offset="0.5455" stop-color="#2e49e8"/><stop offset="0.5758" stop-color="#3555eb"/><stop offset="0.6909" stop-color="#689df7"/><stop offset="0.8121" stop-color="#9cd1fb"/><stop offset="0.8545" stop-color="#a7dbfc"/><stop offset="1" stop-color="#b7e4fa"/></linearGradient><linearGradient id="e38" gradientUnits="userSpaceOnUse" x1="325.1" x2="490.1"><stop offset="0" stop-color="#2d48e8"/><stop offset="0.5576" stop-color="#2e49e8"/><stop offset="0.5879" stop-color="#3555eb"/><stop offset="0.703" stop-color="#689df7"/><stop offset="0.8182" stop-color="#99cffb"/><stop offset="1" stop-color="#afe0fb"/></linearGradient><linearGradient id="e39" gradientUnits="userSpaceOnUse" x1="325.1" x2="490.1"><stop offset="0" stop-color="#2d48e8"/><stop offset="0.5697" stop-color="#2e49e8"/><stop offset="0.6" stop-color="#3555eb"/><stop offset="0.7152" stop-color="#689df7"/><stop offset="0.8121" stop-color="#90c7fb"/><stop offset="1" stop-color="#a8dcfc"/></linearGradient><linearGradient id="e40" gradientUnits="userSpaceOnUse" x1="325.1" x2="490.1"><stop offset="0" stop-color="#2d48e8"/><stop offset="0.5818" stop-color="#2e49e8"/><stop offset="0.6121" stop-color="#3555eb"/><stop offset="0.7273" stop-color="#689df7"/><stop offset="0.8061" stop-color="#88c0fb"/><stop offset="1" stop-color="#a0d5fc"/></linearGradient><linearGradient id="e41" gradientUnits="userSpaceOnUse" x1="325.1" x2="490.1"><stop offset="0" stop-color="#2d48e8"/><stop offset="0.5939" stop-color="#2e49e8"/><stop offset="0.6242" stop-color="#3555eb"/><stop offset="0.7394" stop-color="#689df7"/><stop offset="0.8061" stop-color="#81bafa"/><stop offset="1" stop-color="#99cffb"/></linearGradient><linearGradient id="e42" gradientUnits="userSpaceOnUse" x1="325.1" x2="490.1"><stop offset="0" stop-color="#2d48e8"/><stop offset="0.6061" stop-color="#2e49e8"/><stop offset="0.6364" stop-color="#3555eb"/><stop offset="0.7455" stop-color="#659af7"/><stop offset="0.8" stop-color="#79b2fa"/><stop offset="1" stop-color="#92c9fb"/></linearGradient><linearGradient id="e43" gradientUnits="userSpaceOnUse" x1="325.1" x2="490.1"><stop offset="0" stop-color="#2d48e8"/><stop offset="0.6182" stop-color="#2e49e8"/><stop offset="0.6424" stop-color="#3352ea"/><stop offset="0.703" stop-color="#4a76f2"/><stop offset="0.7515" stop-color="#6296f6"/><stop offset="0.7939" stop-color="#72aaf9"/><stop offset="0.897" stop-color="#7bb5fa"/><stop offset="1" stop-color="#8bc3fb"/></linearGradient><linearGradient id="e44" gradientUnits="userSpaceOnUse" x1="325.1" x2="490.1"><stop offset="0" stop-color="#2d48e8"/><stop offset="0.6303" stop-color="#2e49e8"/><stop offset="0.6606" stop-color="#3555eb"/><stop offset="0.7879" stop-color="#6ca2f8"/><stop offset="0.903" stop-color="#75aefa"/><stop offset="1" stop-color="#84bdfb"/></linearGradient><linearGradient id="e45" gradientUnits="userSpaceOnUse" x1="325.1" x2="490.1"><stop offset="0" stop-color="#2d48e8"/><stop offset="0.6424" stop-color="#2e49e8"/><stop offset="0.6727" stop-color="#3555eb"/><stop offset="0.7879" stop-color="#679cf7"/><stop offset="0.9091" stop-color="#70a8f9"/><stop offset="1" stop-color="#7eb7fa"/></linearGradient><linearGradient id="e46" gradientUnits="userSpaceOnUse" x1="325.1" x2="490.1"><stop offset="0" stop-color="#2d48e8"/><stop offset="0.6485" stop-color="#2d48e8"/><stop offset="0.6788" stop-color="#3352ea"/><stop offset="0.7879" stop-color="#6194f6"/><stop offset="0.8909" stop-color="#699ef8"/><stop offset="1" stop-color="#78b1fa"/></linearGradient><linearGradient id="e47" gradientUnits="userSpaceOnUse" x1="325.1" x2="490.1"><stop offset="0" stop-color="#2d48e8"/><stop offset="0.6606" stop-color="#2d48e8"/><stop offset="0.6909" stop-color="#3352ea"/><stop offset="0.7879" stop-color="#5b8df5"/><stop offset="0.8909" stop-color="#6397f7"/><stop offset="1" stop-color="#73acf9"/></linearGradient><linearGradient id="e48" gradientUnits="userSpaceOnUse" x1="325.1" x2="490.1"><stop offset="0" stop-color="#2d48e8"/><stop offset="0.6727" stop-color="#2d49e8"/><stop offset="0.697" stop-color="#3250ea"/><stop offset="0.7879" stop-color="#5685f4"/><stop offset="0.8848" stop-color="#5d90f6"/><stop offset="1" stop-color="#6fa6f9"/></linearGradient><linearGradient id="e49" gradientUnits="userSpaceOnUse" x1="325.1" x2="490.1"><stop offset="0" stop-color="#2d48e8"/><stop offset="0.6788" stop-color="#2d48e8"/><stop offset="0.703" stop-color="#314ee9"/><stop offset="0.7879" stop-color="#507ef3"/><stop offset="0.8788" stop-color="#5788f4"/><stop offset="1" stop-color="#6ba1f8"/></linearGradient><linearGradient id="e50" gradientUnits="userSpaceOnUse" x1="325.1" x2="490.1"><stop offset="0" stop-color="#2d48e8"/><stop offset="0.6909" stop-color="#2d48e8"/><stop offset="0.7152" stop-color="#314fe9"/><stop offset="0.7879" stop-color="#4a76f2"/><stop offset="0.8788" stop-color="#5281f4"/><stop offset="1" stop-color="#679cf7"/></linearGradient><linearGradient id="e51" gradientUnits="userSpaceOnUse" x1="325.1" x2="490.1"><stop offset="0" stop-color="#2d48e8"/><stop offset="0.703" stop-color="#2d48e8"/><stop offset="0.7273" stop-color="#314fe9"/><stop offset="0.7879" stop-color="#466ff1"/><stop offset="0.8727" stop-color="#4d79f2"/><stop offset="1" stop-color="#6498f7"/></linearGradient><linearGradient id="e52" gradientUnits="userSpaceOnUse" x1="325.1" x2="490.1"><stop offset="0" stop-color="#2d48e8"/><stop offset="0.7152" stop-color="#2d48e8"/><stop offset="0.7333" stop-color="#304ce9"/><stop offset="0.7879" stop-color="#4269ef"/><stop offset="0.8788" stop-color="#4975f2"/><stop offset="1" stop-color="#6194f6"/></linearGradient><linearGradient id="e53" gradientUnits="userSpaceOnUse" x1="325.1" x2="490.1"><stop offset="0" stop-color="#2d48e8"/><stop offset="0.7212" stop-color="#2d48e8"/><stop offset="0.7394" stop-color="#2f4be9"/><stop offset="0.7879" stop-color="#3e62ee"/><stop offset="0.8848" stop-color="#4771f1"/><stop offset="1" stop-color="#5e90f6"/></linearGradient><linearGradient id="e54" gradientUnits="userSpaceOnUse" x1="325.1" x2="490.1"><stop offset="0" stop-color="#2d48e8"/><stop offset="0.7333" stop-color="#2d48e8"/><stop offset="0.7879" stop-color="#3a5cec"/><stop offset="0.8788" stop-color="#446cf0"/><stop offset="1" stop-color="#5c8ef5"/></linearGradient><linearGradient id="e55" gradientUnits="userSpaceOnUse" x1="325.1" x2="490.1"><stop offset="0" stop-color="#2d48e8"/><stop offset="0.7455" stop-color="#2d48e8"/><stop offset="0.9273" stop-color="#4a76f2"/><stop offset="1" stop-color="#5a8cf5"/></linearGradient><linearGradient id="e56" gradientUnits="userSpaceOnUse" x1="325.1" x2="490.1"><stop offset="0" stop-color="#2d48e8"/><stop offset="0.7515" stop-color="#2d48e8"/><stop offset="0.8485" stop-color="#3b5eed"/><stop offset="1" stop-color="#5a8af5"/></linearGradient><linearGradient id="e57" gradientUnits="userSpaceOnUse" x1="325.1" x2="490.1"><stop offset="0" stop-color="#2d48e8"/><stop offset="0.7636" stop-color="#2d48e8"/><stop offset="0.9333" stop-color="#4a75f2"/><stop offset="1" stop-color="#598af5"/></linearGradient><linearGradient id="e58" gradientUnits="userSpaceOnUse" x1="325.1" x2="490.1"><stop offset="0" stop-color="#2d48e8"/><stop offset="0.7636" stop-color="#2d48e8"/><stop offset="1" stop-color="#5a8bf5"/></linearGradient><linearGradient id="e59" gradientUnits="userSpaceOnUse" x1="325.1" x2="490.1"><stop offset="0" stop-color="#2d48e8"/><stop offset="0.7576" stop-color="#2d48e8"/><stop offset="0.8121" stop-color="#3a5dec"/><stop offset="0.9152" stop-color="#4975f2"/><stop offset="1" stop-color="#5c8df5"/></linearGradient><linearGradient id="e60" gradientUnits="userSpaceOnUse" x1="325.1" x2="490.1"><stop offset="0" stop-color="#2d48e8"/><stop offset="0.7515" stop-color="#2d49e8"/><stop offset="0.7697" stop-color="#304de9"/><stop offset="0.8182" stop-color="#4066ee"/><stop offset="0.903" stop-color="#4b77f2"/><stop offset="1" stop-color="#5f91f6"/></linearGradient><linearGradient id="e61" gradientUnits="userSpaceOnUse" x1="325.1" x2="490.1"><stop offset="0" stop-color="#2d48e8"/><stop offset="0.7394" stop-color="#2d49e8"/><stop offset="0.7636" stop-color="#314fea"/><stop offset="0.8242" stop-color="#4670f1"/><stop offset="1" stop-color="#6397f7"/></linearGradient><linearGradient id="e62" gradientUnits="userSpaceOnUse" x1="325.1" x2="490.1"><stop offset="0" stop-color="#2d48e8"/><stop offset="0.7212" stop-color="#2e49e8"/><stop offset="0.7515" stop-color="#3351ea"/><stop offset="0.8242" stop-color="#4c79f2"/><stop offset="1" stop-color="#689df7"/></linearGradient><linearGradient id="e63" gradientUnits="userSpaceOnUse" x1="325.1" x2="490.1"><stop offset="0" stop-color="#2d48e8"/><stop offset="0.697" stop-color="#2e49e8"/><stop offset="0.7333" stop-color="#3352ea"/><stop offset="0.8242" stop-color="#5584f4"/><stop offset="1" stop-color="#6da4f8"/></linearGradient><linearGradient id="e64" gradientUnits="userSpaceOnUse" x1="325.1" x2="490.1"><stop offset="0" stop-color="#2d48e8"/><stop offset="0.6606" stop-color="#2e4ae8"/><stop offset="0.7152" stop-color="#3657eb"/><stop offset="0.8182" stop-color="#5c8ef5"/><stop offset="1" stop-color="#73acf9"/></linearGradient><linearGradient id="e65" gradientUnits="userSpaceOnUse" x1="325.1" x2="490.1"><stop offset="0" stop-color="#2d48e8"/><stop offset="0.6182" stop-color="#2f4be9"/><stop offset="0.6909" stop-color="#3b5eed"/><stop offset="0.8121" stop-color="#659af7"/><stop offset="1" stop-color="#7bb5fa"/></linearGradient><linearGradient id="e66" gradientUnits="userSpaceOnUse" x1="325.1" x2="490.1"><stop offset="0" stop-color="#2d48e8"/><stop offset="0.5697" stop-color="#2f4be9"/><stop offset="0.6364" stop-color="#3a5cec"/><stop offset="0.7939" stop-color="#6ca3f8"/><stop offset="0.903" stop-color="#75affa"/><stop offset="1" stop-color="#85bdfb"/></linearGradient><linearGradient id="e67" gradientUnits="userSpaceOnUse" x1="325.1" x2="490.1"><stop offset="0" stop-color="#2d48e8"/><stop offset="0.4121" stop-color="#2d48e8"/><stop offset="0.5212" stop-color="#304ce9"/><stop offset="0.5939" stop-color="#3b5fed"/><stop offset="0.7212" stop-color="#659af7"/><stop offset="0.7758" stop-color="#75aefa"/><stop offset="0.8909" stop-color="#7eb7fa"/><stop offset="1" stop-color="#8fc6fb"/></linearGradient><linearGradient id="e68" gradientUnits="userSpaceOnUse" x1="325.1" x2="490.1"><stop offset="0" stop-color="#2d48e8"/><stop offset="0.3515" stop-color="#2d49e8"/><stop offset="0.4606" stop-color="#324fea"/><stop offset="0.5152" stop-color="#385aec"/><stop offset="0.5758" stop-color="#456ef0"/><stop offset="0.6848" stop-color="#699ff8"/><stop offset="0.7576" stop-color="#80b9fa"/><stop offset="0.8909" stop-color="#8ac2fb"/><stop offset="1" stop-color="#99cffb"/></linearGradient><linearGradient id="e69" gradientUnits="userSpaceOnUse" x1="325.1" x2="490.1"><stop offset="0" stop-color="#2d48e8"/><stop offset="0.2727" stop-color="#2f4ae9"/><stop offset="0.3636" stop-color="#3250ea"/><stop offset="0.4242" stop-color="#385aec"/><stop offset="0.5152" stop-color="#4872f1"/><stop offset="0.6545" stop-color="#70a8f9"/><stop offset="0.7455" stop-color="#8dc4fb"/><stop offset="0.8788" stop-color="#94cbfb"/><stop offset="1" stop-color="#a3d8fc"/></linearGradient><linearGradient id="e70" gradientUnits="userSpaceOnUse" x1="325.1" x2="490.1"><stop offset="0" stop-color="#2f4be9"/><stop offset="0.1818" stop-color="#3250ea"/><stop offset="0.2788" stop-color="#3758ec"/><stop offset="0.3697" stop-color="#4167ef"/><stop offset="0.4545" stop-color="#507df3"/><stop offset="0.5939" stop-color="#71a9f9"/><stop offset="0.7273" stop-color="#99cffb"/><stop offset="0.8788" stop-color="#a0d5fc"/><stop offset="1" stop-color="#aee0fb"/></linearGradient><linearGradient id="e71" gradientUnits="userSpaceOnUse" x1="325.1" x2="490.1"><stop offset="0" stop-color="#3758ec"/><stop offset="0.03636" stop-color="#385aec"/><stop offset="0.09697" stop-color="#3f64ee"/><stop offset="0.1818" stop-color="#4065ee"/><stop offset="0.2424" stop-color="#4872f1"/><stop offset="0.303" stop-color="#4c79f2"/><stop offset="0.5091" stop-color="#72aaf9"/><stop offset="0.7152" stop-color="#a6dafc"/><stop offset="0.8667" stop-color="#abdefc"/><stop offset="1" stop-color="#bae5fa"/></linearGradient><linearGradient id="e72" gradientUnits="userSpaceOnUse" x1="325.1" x2="490.1"><stop offset="0" stop-color="#4a75f2"/><stop offset="0.04242" stop-color="#4b77f2"/><stop offset="0.1091" stop-color="#5686f4"/><stop offset="0.2" stop-color="#5889f5"/><stop offset="0.2545" stop-color="#6295f6"/><stop offset="0.4061" stop-color="#74acf9"/><stop offset="0.6788" stop-color="#aee0fb"/><stop offset="0.7212" stop-color="#b4e3fb"/><stop offset="0.8788" stop-color="#b8e5fa"/><stop offset="1" stop-color="#c5ebf8"/></linearGradient><linearGradient id="e73" gradientUnits="userSpaceOnUse" x1="325.1" x2="490.1"><stop offset="0" stop-color="#6498f7"/><stop offset="0.05455" stop-color="#659af7"/><stop offset="0.1273" stop-color="#6fa7f9"/><stop offset="0.2242" stop-color="#73abf9"/><stop offset="0.4364" stop-color="#91c8fb"/><stop offset="0.6" stop-color="#b0e1fb"/><stop offset="0.697" stop-color="#c0e8f9"/><stop offset="0.8606" stop-color="#c3eaf9"/><stop offset="1" stop-color="#d0f0f7"/></linearGradient><linearGradient id="e74" gradientUnits="userSpaceOnUse" x1="325.1" x2="490.1"><stop offset="0" stop-color="#7db6fa"/><stop offset="0.05455" stop-color="#7eb7fa"/><stop offset="0.1394" stop-color="#8ac1fb"/><stop offset="0.2364" stop-color="#8ec5fb"/><stop offset="0.4182" stop-color="#a5dafc"/><stop offset="0.6848" stop-color="#cceef7"/><stop offset="0.8545" stop-color="#cff0f7"/><stop offset="1" stop-color="#dbf4f2"/></linearGradient><linearGradient id="e75" gradientUnits="userSpaceOnUse" x1="325.1" x2="490.1"><stop offset="0" stop-color="#98cefb"/><stop offset="0.2485" stop-color="#a6dafc"/><stop offset="0.6606" stop-color="#d4f2f6"/><stop offset="0.8788" stop-color="#dcf4f1"/><stop offset="1" stop-color="#e6f7ea"/></linearGradient><linearGradient id="e76" gradientUnits="userSpaceOnUse" x1="325.1" x2="490.1"><stop offset="0" stop-color="#aee0fb"/><stop offset="0.2545" stop-color="#bbe6fa"/><stop offset="0.5515" stop-color="#d3f2f6"/><stop offset="0.7394" stop-color="#e3f6eb"/><stop offset="0.8727" stop-color="#e7f7e9"/><stop offset="1" stop-color="#f0f9e1"/></linearGradient><linearGradient id="e77" gradientUnits="userSpaceOnUse" x1="325.1" x2="490.1"><stop offset="0" stop-color="#c1e9f9"/><stop offset="0.4788" stop-color="#d8f4f4"/><stop offset="0.7455" stop-color="#eff9e2"/><stop offset="0.8788" stop-color="#f2f9e0"/><stop offset="1" stop-color="#f6f9d6"/></linearGradient><linearGradient id="e78" gradientUnits="userSpaceOnUse" x1="325.1" x2="490.1"><stop offset="0" stop-color="#d0f0f7"/><stop offset="0.2909" stop-color="#d8f3f4"/><stop offset="0.4424" stop-color="#e0f5ee"/><stop offset="0.7212" stop-color="#f5f9da"/><stop offset="0.8848" stop-color="#f7f8d3"/><stop offset="1" stop-color="#f9f7ca"/></linearGradient><linearGradient id="e79" gradientUnits="userSpaceOnUse" x1="325.1" x2="490.1"><stop offset="0" stop-color="#dbf4f2"/><stop offset="0.2788" stop-color="#e2f6ed"/><stop offset="0.4545" stop-color="#ebf8e5"/><stop offset="0.6061" stop-color="#f5f9da"/><stop offset="0.7333" stop-color="#f9f7ca"/><stop offset="0.8727" stop-color="#faf7c7"/><stop offset="1" stop-color="#fdf5bd"/></linearGradient><linearGradient id="e80" gradientUnits="userSpaceOnUse" x1="325.1" x2="490.1"><stop offset="0" stop-color="#e6f7ea"/><stop offset="0.3515" stop-color="#f1f9e0"/><stop offset="0.4909" stop-color="#f6f9d6"/><stop offset="0.7212" stop-color="#fdf5bd"/><stop offset="0.8727" stop-color="#fef5b9"/><stop offset="1" stop-color="#fff1af"/></linearGradient><linearGradient id="e81" gradientUnits="userSpaceOnUse" x1="325.1" x2="490.1"><stop offset="0" stop-color="#f1f9df"/><stop offset="0.3333" stop-color="#f7f8d3"/><stop offset="0.7091" stop-color="#fff1af"/><stop offset="0.8485" stop-color="#fff0ab"/><stop offset="1" stop-color="#fee89c"/></linearGradient><linearGradient id="e82" gradientUnits="userSpaceOnUse" x1="325.1" x2="490.1"><stop offset="0" stop-color="#f8f8d0"/><stop offset="0.1333" stop-color="#f8f8ce"/><stop offset="0.3758" stop-color="#fcf6c0"/><stop offset="0.6788" stop-color="#feeba0"/><stop offset="0.8364" stop-color="#fee596"/><stop offset="1" stop-color="#fdda80"/></linearGradient><linearGradient id="e83" gradientUnits="userSpaceOnUse" x1="325.1" x2="490.1"><stop offset="0" stop-color="#fcf6c0"/><stop offset="0.1515" stop-color="#fdf5bd"/><stop offset="0.3758" stop-color="#fff2af"/><stop offset="0.8" stop-color="#fddb80"/><stop offset="1" stop-color="#fac569"/></linearGradient><linearGradient id="e84" gradientUnits="userSpaceOnUse" x1="325.1" x2="490.1"><stop offset="0" stop-color="#fef4b7"/><stop offset="0.1576" stop-color="#fff4b4"/><stop offset="0.3455" stop-color="#ffefa9"/><stop offset="0.703" stop-color="#fddb81"/><stop offset="1" stop-color="#f9b95f"/></linearGradient></defs>
<rect x="322.5" y="173.4" width="171.2" height="170.6" fill="#fff" stroke="#808080" stroke-width="1"/>
<clipPath id="ce"><rect x="324.6" y="175.4" width="166.0" height="166.6"/></clipPath>
<g clip-path="url(#ce)"><rect x="324.6" y="175.4" width="166" height="2.6" fill="url(#e1)"/><rect x="324.6" y="177.4" width="166" height="2.6" fill="url(#e2)"/><rect x="324.6" y="179.4" width="166" height="2.6" fill="url(#e3)"/><rect x="324.6" y="181.4" width="166" height="2.6" fill="url(#e4)"/><rect x="324.6" y="183.4" width="166" height="2.6" fill="url(#e5)"/><rect x="324.6" y="185.4" width="166" height="2.6" fill="url(#e6)"/><rect x="324.6" y="187.4" width="166" height="2.6" fill="url(#e7)"/><rect x="324.6" y="189.4" width="166" height="2.6" fill="url(#e8)"/><rect x="324.6" y="191.4" width="166" height="2.6" fill="url(#e9)"/><rect x="324.6" y="193.4" width="166" height="2.6" fill="url(#e10)"/><rect x="324.6" y="195.4" width="166" height="2.6" fill="url(#e11)"/><rect x="324.6" y="197.4" width="166" height="2.6" fill="url(#e12)"/><rect x="324.6" y="199.4" width="166" height="2.6" fill="url(#e13)"/><rect x="324.6" y="201.4" width="166" height="2.6" fill="url(#e14)"/><rect x="324.6" y="203.4" width="166" height="2.6" fill="url(#e15)"/><rect x="324.6" y="205.4" width="166" height="2.6" fill="url(#e16)"/><rect x="324.6" y="207.4" width="166" height="2.6" fill="url(#e17)"/><rect x="324.6" y="209.4" width="166" height="2.6" fill="url(#e18)"/><rect x="324.6" y="211.4" width="166" height="2.6" fill="url(#e19)"/><rect x="324.6" y="213.4" width="166" height="2.6" fill="url(#e20)"/><rect x="324.6" y="215.4" width="166" height="2.6" fill="url(#e21)"/><rect x="324.6" y="217.4" width="166" height="2.6" fill="url(#e22)"/><rect x="324.6" y="219.4" width="166" height="2.6" fill="url(#e23)"/><rect x="324.6" y="221.4" width="166" height="2.6" fill="url(#e24)"/><rect x="324.6" y="223.4" width="166" height="2.6" fill="url(#e25)"/><rect x="324.6" y="225.4" width="166" height="2.6" fill="url(#e26)"/><rect x="324.6" y="227.4" width="166" height="2.6" fill="url(#e27)"/><rect x="324.6" y="229.4" width="166" height="2.6" fill="url(#e28)"/><rect x="324.6" y="231.4" width="166" height="2.6" fill="url(#e29)"/><rect x="324.6" y="233.4" width="166" height="2.6" fill="url(#e30)"/><rect x="324.6" y="235.4" width="166" height="2.6" fill="url(#e31)"/><rect x="324.6" y="237.4" width="166" height="2.6" fill="url(#e32)"/><rect x="324.6" y="239.4" width="166" height="2.6" fill="url(#e33)"/><rect x="324.6" y="241.4" width="166" height="2.6" fill="url(#e34)"/><rect x="324.6" y="243.4" width="166" height="2.6" fill="url(#e35)"/><rect x="324.6" y="245.4" width="166" height="2.6" fill="url(#e36)"/><rect x="324.6" y="247.4" width="166" height="2.6" fill="url(#e37)"/><rect x="324.6" y="249.4" width="166" height="2.6" fill="url(#e38)"/><rect x="324.6" y="251.4" width="166" height="2.6" fill="url(#e39)"/><rect x="324.6" y="253.4" width="166" height="2.6" fill="url(#e40)"/><rect x="324.6" y="255.4" width="166" height="2.6" fill="url(#e41)"/><rect x="324.6" y="257.4" width="166" height="2.6" fill="url(#e42)"/><rect x="324.6" y="259.4" width="166" height="2.6" fill="url(#e43)"/><rect x="324.6" y="261.4" width="166" height="2.6" fill="url(#e44)"/><rect x="324.6" y="263.4" width="166" height="2.6" fill="url(#e45)"/><rect x="324.6" y="265.4" width="166" height="2.6" fill="url(#e46)"/><rect x="324.6" y="267.4" width="166" height="2.6" fill="url(#e47)"/><rect x="324.6" y="269.4" width="166" height="2.6" fill="url(#e48)"/><rect x="324.6" y="271.4" width="166" height="2.6" fill="url(#e49)"/><rect x="324.6" y="273.4" width="166" height="2.6" fill="url(#e50)"/><rect x="324.6" y="275.4" width="166" height="2.6" fill="url(#e51)"/><rect x="324.6" y="277.4" width="166" height="2.6" fill="url(#e52)"/><rect x="324.6" y="279.4" width="166" height="2.6" fill="url(#e53)"/><rect x="324.6" y="281.4" width="166" height="2.6" fill="url(#e54)"/><rect x="324.6" y="283.4" width="166" height="2.6" fill="url(#e55)"/><rect x="324.6" y="285.4" width="166" height="2.6" fill="url(#e56)"/><rect x="324.6" y="287.4" width="166" height="2.6" fill="url(#e57)"/><rect x="324.6" y="289.4" width="166" height="2.6" fill="url(#e58)"/><rect x="324.6" y="291.4" width="166" height="2.6" fill="url(#e59)"/><rect x="324.6" y="293.4" width="166" height="2.6" fill="url(#e60)"/><rect x="324.6" y="295.4" width="166" height="2.6" fill="url(#e61)"/><rect x="324.6" y="297.4" width="166" height="2.6" fill="url(#e62)"/><rect x="324.6" y="299.4" width="166" height="2.6" fill="url(#e63)"/><rect x="324.6" y="301.4" width="166" height="2.6" fill="url(#e64)"/><rect x="324.6" y="303.4" width="166" height="2.6" fill="url(#e65)"/><rect x="324.6" y="305.4" width="166" height="2.6" fill="url(#e66)"/><rect x="324.6" y="307.4" width="166" height="2.6" fill="url(#e67)"/><rect x="324.6" y="309.4" width="166" height="2.6" fill="url(#e68)"/><rect x="324.6" y="311.4" width="166" height="2.6" fill="url(#e69)"/><rect x="324.6" y="313.4" width="166" height="2.6" fill="url(#e70)"/><rect x="324.6" y="315.4" width="166" height="2.6" fill="url(#e71)"/><rect x="324.6" y="317.4" width="166" height="2.6" fill="url(#e72)"/><rect x="324.6" y="319.4" width="166" height="2.6" fill="url(#e73)"/><rect x="324.6" y="321.4" width="166" height="2.6" fill="url(#e74)"/><rect x="324.6" y="323.4" width="166" height="2.6" fill="url(#e75)"/><rect x="324.6" y="325.4" width="166" height="2.6" fill="url(#e76)"/><rect x="324.6" y="327.4" width="166" height="2.6" fill="url(#e77)"/><rect x="324.6" y="329.4" width="166" height="2.6" fill="url(#e78)"/><rect x="324.6" y="331.4" width="166" height="2.6" fill="url(#e79)"/><rect x="324.6" y="333.4" width="166" height="2.6" fill="url(#e80)"/><rect x="324.6" y="335.4" width="166" height="2.6" fill="url(#e81)"/><rect x="324.6" y="337.4" width="166" height="2.6" fill="url(#e82)"/><rect x="324.6" y="339.4" width="166" height="2.6" fill="url(#e83)"/><rect x="324.6" y="341.4" width="166" height="1" fill="url(#e84)"/>
<path d="M325.2 201.4L329.9 201.5L334.3 201.8L338.6 202.2L342.3 202.6L346.1 203.3L350.6 204.2L355.8 205.9L361.3 207.9L366.4 210.1L371.5 212.6L376.6 215.4L381.8 218.6L387 222.4L392.3 226.2L397.3 230.1L402.4 234.3L407.5 238.8L412.8 244L418 249.3L423.2 254.5L428.5 259.7L433.4 264.8L438.1 269.8L442.5 274.7L445.9 278.6L448.5 281.4L450.5 283.7L451.8 285.7L452.8 287.4L453.5 289L453.4 290.8L452.8 292.6L451.7 294.5L449.9 296.7L446.6 299.1L442.7 301.2L438.3 302.9L432.9 304.3L426.7 305.9L419.1 307.7L410.3 309.5L401 311L390.7 312.2L380 313.3L369.5 314.1L358.9 314.7L349 315.2L340 315.6L331.6 315.9L325.2 316L321.6 316L321.6 201.4Z" fill="#2d48e8"/>
<path d="M325.2 201.4L329.9 201.5L334.3 201.8L338.6 202.2L342.3 202.6L346.1 203.3L350.6 204.2L355.8 205.9L361.3 207.9L366.4 210.1L371.5 212.6L376.6 215.4L381.8 218.6L387 222.4L392.3 226.2L397.3 230.1L402.4 234.3L407.5 238.8L412.8 244L418 249.3L423.2 254.5L428.5 259.7L433.4 264.8L438.1 269.8L442.5 274.7L445.9 278.6L448.5 281.4L450.5 283.7L451.8 285.7L452.8 287.4L453.5 289L453.4 290.8L452.8 292.6L451.7 294.5L449.9 296.7L446.6 299.1L442.7 301.2L438.3 302.9L432.9 304.3L426.7 305.9L419.1 307.7L410.3 309.5L401 311L390.7 312.2L380 313.3L369.5 314.1L358.9 314.7L349 315.2L340 315.6L331.6 315.9L325.2 316" fill="none" stroke="#dc143c" stroke-width="2.2" stroke-linejoin="round"/>
</g>
<line x1="334.6" y1="201.8" x2="490.6" y2="201.8" stroke="#222" stroke-width="1" stroke-dasharray="1.6 1.3"/>
<line x1="324.6" y1="315.6" x2="490.6" y2="315.6" stroke="#222" stroke-width="1" stroke-dasharray="1.6 1.3"/>
<g stroke="#808080" stroke-width="0.8"><line x1="325.2" x2="325.2" y1="344" y2="341"/><line x1="325.2" x2="325.2" y1="173.4" y2="176.4"/><line x1="366.6" x2="366.6" y1="344" y2="341"/><line x1="366.6" x2="366.6" y1="173.4" y2="176.4"/><line x1="408" x2="408" y1="344" y2="341"/><line x1="408" x2="408" y1="173.4" y2="176.4"/><line x1="449.4" x2="449.4" y1="344" y2="341"/><line x1="449.4" x2="449.4" y1="173.4" y2="176.4"/><line x1="490.8" x2="490.8" y1="344" y2="341"/><line x1="490.8" x2="490.8" y1="173.4" y2="176.4"/><line x1="322.5" x2="325.5" y1="189.4" y2="189.4"/><line x1="493.7" x2="490.7" y1="189.4" y2="189.4"/><line x1="322.5" x2="325.5" y1="232.5" y2="232.5"/><line x1="493.7" x2="490.7" y1="232.5" y2="232.5"/><line x1="322.5" x2="325.5" y1="275.6" y2="275.6"/><line x1="493.7" x2="490.7" y1="275.6" y2="275.6"/><line x1="322.5" x2="325.5" y1="318.7" y2="318.7"/><line x1="493.7" x2="490.7" y1="318.7" y2="318.7"/></g>
<text x="324.4" y="358" font-family="Liberation Sans,sans-serif" font-size="13" fill="#555" text-anchor="middle">0</text>
<text x="365.8" y="358" font-family="Liberation Sans,sans-serif" font-size="13" fill="#555" text-anchor="middle">1</text>
<text x="407.2" y="358" font-family="Liberation Sans,sans-serif" font-size="13" fill="#555" text-anchor="middle">2</text>
<text x="448.6" y="358" font-family="Liberation Sans,sans-serif" font-size="13" fill="#555" text-anchor="middle">3</text>
<text x="490" y="358" font-family="Liberation Sans,sans-serif" font-size="13" fill="#555" text-anchor="middle">4</text>
<text x="319.5" y="194.1" font-family="Liberation Sans,sans-serif" font-size="13" fill="#555" text-anchor="end">5</text>
<text x="319.5" y="237.2" font-family="Liberation Sans,sans-serif" font-size="13" fill="#555" text-anchor="end">0</text>
<text x="319.5" y="280.3" font-family="Liberation Sans,sans-serif" font-size="13" fill="#555" text-anchor="end">−5</text>
<text x="319.5" y="323.4" font-family="Liberation Sans,sans-serif" font-size="13" fill="#555" text-anchor="end">−10</text>
<text transform="translate(408,194.5) scale(1.1,1)" font-family="Liberation Serif,serif" font-size="15" fill="#a0a0a0" text-anchor="middle">BEC/BI</text>
<text transform="translate(408,333) scale(1.1,1)" font-family="Liberation Serif,serif" font-size="15" fill="#a0a0a0" text-anchor="middle">BEC/BI</text>
<text transform="translate(372.8,271.5) scale(1.1,1)" font-family="Liberation Serif,serif" font-size="18.3" fill="#fff" text-anchor="middle">nodal</text>
<text transform="translate(453.2,235) scale(1.09,1)" font-family="Liberation Serif,serif" font-size="18.3" fill="#000" text-anchor="middle">gapped</text>
<text transform="translate(300.5,260.5) rotate(-90) scale(1.08,1)" font-family="Liberation Serif,serif" font-size="19.5" font-style="italic" fill="#333" stroke="#333" stroke-width="0.3" text-anchor="middle">μ/t</text>
<text transform="translate(413,374) scale(1.18,1)" font-family="Liberation Serif,serif" font-size="20" font-style="italic" fill="#222" text-anchor="middle"><tspan font-style="normal">Δ</tspan><tspan font-style="normal" font-size="13" dy="3">0</tspan><tspan dy="-3">/t</tspan></text>
<rect x="509.7" y="227.9" width="8.4" height="58.5" fill="url(#cb)"/>
<text x="514.3" y="221.5" font-family="Liberation Serif,serif" font-size="14.8" text-anchor="middle">max</text>
<text x="514" y="304.3" font-family="Liberation Serif,serif" font-size="16.5" text-anchor="middle">0</text>
<text transform="translate(524.5,256) rotate(90) scale(1.12,1)" font-family="Liberation Serif,serif" font-size="19" font-style="italic" text-anchor="middle"><tspan font-style="normal">Δ</tspan>E</text>
<!-- phex -->
<defs><linearGradient id="h85" gradientUnits="userSpaceOnUse" x1="554.5" x2="639.5"><stop offset="0" stop-color="#fee18e"/><stop offset="0.08235" stop-color="#fee698"/><stop offset="0.1765" stop-color="#fbf6c2"/><stop offset="0.2235" stop-color="#f1f9de"/><stop offset="0.2706" stop-color="#d4f2f5"/><stop offset="0.3294" stop-color="#a4d9fc"/><stop offset="0.4353" stop-color="#507ef3"/><stop offset="0.4941" stop-color="#3351ea"/><stop offset="0.5059" stop-color="#3351ea"/><stop offset="0.5647" stop-color="#507ef3"/><stop offset="0.6706" stop-color="#a4d9fc"/><stop offset="0.7294" stop-color="#d4f2f5"/><stop offset="0.7765" stop-color="#f1f9de"/><stop offset="0.8235" stop-color="#fbf6c2"/><stop offset="0.9176" stop-color="#fee698"/><stop offset="1" stop-color="#fee18e"/></linearGradient><linearGradient id="h86" gradientUnits="userSpaceOnUse" x1="554.5" x2="639.5"><stop offset="0" stop-color="#fdf4ba"/><stop offset="0.07059" stop-color="#fcf5c0"/><stop offset="0.1529" stop-color="#f4f8d8"/><stop offset="0.1882" stop-color="#eaf8e6"/><stop offset="0.2471" stop-color="#cceef7"/><stop offset="0.3059" stop-color="#a5d9fc"/><stop offset="0.3765" stop-color="#72abf9"/><stop offset="0.4471" stop-color="#4d79f2"/><stop offset="0.4941" stop-color="#4066ef"/><stop offset="0.5294" stop-color="#446df0"/><stop offset="0.5882" stop-color="#5f92f6"/><stop offset="0.6941" stop-color="#a5d9fc"/><stop offset="0.7529" stop-color="#cceef7"/><stop offset="0.8118" stop-color="#eaf8e6"/><stop offset="0.8471" stop-color="#f4f8d8"/><stop offset="0.9294" stop-color="#fcf5c0"/><stop offset="1" stop-color="#fdf4ba"/></linearGradient><linearGradient id="h87" gradientUnits="userSpaceOnUse" x1="554.5" x2="639.5"><stop offset="0" stop-color="#edf8e2"/><stop offset="0.1294" stop-color="#e0f5ee"/><stop offset="0.2471" stop-color="#b6e4fa"/><stop offset="0.3882" stop-color="#70a9f9"/><stop offset="0.4588" stop-color="#5c8ef5"/><stop offset="0.5059" stop-color="#5888f5"/><stop offset="0.5529" stop-color="#5e91f6"/><stop offset="0.6235" stop-color="#75aefa"/><stop offset="0.7529" stop-color="#b6e4fa"/><stop offset="0.8706" stop-color="#e0f5ee"/><stop offset="1" stop-color="#edf8e2"/></linearGradient><linearGradient id="h88" gradientUnits="userSpaceOnUse" x1="554.5" x2="639.5"><stop offset="0" stop-color="#c8ecf8"/><stop offset="0.09412" stop-color="#c3eaf9"/><stop offset="0.2" stop-color="#b0e1fb"/><stop offset="0.4" stop-color="#7fb8fa"/><stop offset="0.4941" stop-color="#76aef9"/><stop offset="0.6" stop-color="#7fb8fa"/><stop offset="0.8" stop-color="#b0e1fb"/><stop offset="0.9059" stop-color="#c3eaf9"/><stop offset="1" stop-color="#c8ecf8"/></linearGradient><linearGradient id="h89" gradientUnits="userSpaceOnUse" x1="554.5" x2="639.5"><stop offset="0" stop-color="#9ed3fb"/><stop offset="1" stop-color="#9ed3fb"/></linearGradient><linearGradient id="h90" gradientUnits="userSpaceOnUse" x1="554.5" x2="639.5"><stop offset="0" stop-color="#76aff9"/><stop offset="0.1059" stop-color="#7fb8fa"/><stop offset="0.3176" stop-color="#b2e2fb"/><stop offset="0.4941" stop-color="#c7ecf8"/><stop offset="0.5882" stop-color="#c2e9f9"/><stop offset="0.6824" stop-color="#b2e2fb"/><stop offset="0.8941" stop-color="#7fb8fa"/><stop offset="1" stop-color="#76aff9"/></linearGradient><linearGradient id="h91" gradientUnits="userSpaceOnUse" x1="554.5" x2="639.5"><stop offset="0" stop-color="#5889f5"/><stop offset="0.04706" stop-color="#5c8df5"/><stop offset="0.1176" stop-color="#6fa7f9"/><stop offset="0.2588" stop-color="#b3e2fb"/><stop offset="0.3765" stop-color="#def5ef"/><stop offset="0.4941" stop-color="#ecf8e3"/><stop offset="0.6118" stop-color="#e1f6ed"/><stop offset="0.7294" stop-color="#b9e5fa"/><stop offset="0.8706" stop-color="#73acfa"/><stop offset="0.9412" stop-color="#5e90f6"/><stop offset="1" stop-color="#5889f5"/></linearGradient><linearGradient id="h92" gradientUnits="userSpaceOnUse" x1="554.5" x2="639.5"><stop offset="0" stop-color="#4167ef"/><stop offset="0.03529" stop-color="#446cf0"/><stop offset="0.08235" stop-color="#5787f4"/><stop offset="0.1412" stop-color="#77b1fa"/><stop offset="0.2" stop-color="#a2d7fc"/><stop offset="0.2588" stop-color="#c9edf8"/><stop offset="0.3529" stop-color="#f3f9db"/><stop offset="0.4235" stop-color="#fbf6c4"/><stop offset="0.4941" stop-color="#fcf4bb"/><stop offset="0.5647" stop-color="#fbf6c1"/><stop offset="0.6471" stop-color="#f3f9db"/><stop offset="0.7412" stop-color="#c9edf8"/><stop offset="0.8" stop-color="#a2d7fc"/><stop offset="0.8588" stop-color="#77b1fa"/><stop offset="0.9176" stop-color="#5787f4"/><stop offset="0.9647" stop-color="#446cf0"/><stop offset="1" stop-color="#4167ef"/></linearGradient><linearGradient id="h93" gradientUnits="userSpaceOnUse" x1="554.5" x2="639.5"><stop offset="0" stop-color="#3453ea"/><stop offset="0.01176" stop-color="#314fea"/><stop offset="0.02353" stop-color="#3656eb"/><stop offset="0.07059" stop-color="#4d7bf3"/><stop offset="0.1294" stop-color="#76b0fa"/><stop offset="0.1765" stop-color="#a0d5fc"/><stop offset="0.2471" stop-color="#d9f3f2"/><stop offset="0.3059" stop-color="#f7f8d3"/><stop offset="0.3765" stop-color="#feefac"/><stop offset="0.4471" stop-color="#fee494"/><stop offset="0.5294" stop-color="#fee390"/><stop offset="0.6118" stop-color="#ffeea7"/><stop offset="0.7059" stop-color="#f3f9da"/><stop offset="0.7529" stop-color="#d9f3f2"/><stop offset="0.7882" stop-color="#bee8f9"/><stop offset="0.8235" stop-color="#a0d5fc"/><stop offset="0.8706" stop-color="#76b0fa"/><stop offset="0.9294" stop-color="#4d7bf3"/><stop offset="0.9765" stop-color="#3656eb"/><stop offset="0.9882" stop-color="#314fea"/><stop offset="1" stop-color="#3453ea"/></linearGradient><linearGradient id="h94" gradientUnits="userSpaceOnUse" x1="554.5" x2="639.5"><stop offset="0" stop-color="#3f65ee"/><stop offset="0.02353" stop-color="#4066ef"/><stop offset="0.05882" stop-color="#4f7df3"/><stop offset="0.1176" stop-color="#7ab4fa"/><stop offset="0.1765" stop-color="#b4e3fb"/><stop offset="0.2118" stop-color="#d5f2f5"/><stop offset="0.2471" stop-color="#eff9e1"/><stop offset="0.2706" stop-color="#f8f8cf"/><stop offset="0.3765" stop-color="#fddd85"/><stop offset="0.4706" stop-color="#fbc96d"/><stop offset="0.5294" stop-color="#fbc96d"/><stop offset="0.5882" stop-color="#fcd378"/><stop offset="0.6353" stop-color="#fee08b"/><stop offset="0.6824" stop-color="#feefaa"/><stop offset="0.7412" stop-color="#f5f9d8"/><stop offset="0.8" stop-color="#caedf8"/><stop offset="0.8353" stop-color="#a9dcfc"/><stop offset="0.8824" stop-color="#7ab4fa"/><stop offset="0.9294" stop-color="#5788f4"/><stop offset="0.9765" stop-color="#4066ef"/><stop offset="1" stop-color="#3f65ee"/></linearGradient><linearGradient id="h95" gradientUnits="userSpaceOnUse" x1="554.5" x2="639.5"><stop offset="0" stop-color="#507ef3"/><stop offset="0.03529" stop-color="#5484f4"/><stop offset="0.08235" stop-color="#6ea6f9"/><stop offset="0.1412" stop-color="#a6dafc"/><stop offset="0.1765" stop-color="#caedf8"/><stop offset="0.2235" stop-color="#f2f9dd"/><stop offset="0.2471" stop-color="#faf7c8"/><stop offset="0.3176" stop-color="#fedf89"/><stop offset="0.3529" stop-color="#fcd073"/><stop offset="0.4118" stop-color="#f9b85f"/><stop offset="0.4706" stop-color="#f7ac55"/><stop offset="0.5412" stop-color="#f7ae56"/><stop offset="0.6118" stop-color="#fac066"/><stop offset="0.6706" stop-color="#fdda80"/><stop offset="0.7176" stop-color="#ffeea7"/><stop offset="0.7765" stop-color="#f2f9dd"/><stop offset="0.8118" stop-color="#d5f2f5"/><stop offset="0.8588" stop-color="#a6dafc"/><stop offset="0.9176" stop-color="#6ea6f9"/><stop offset="0.9647" stop-color="#5484f4"/><stop offset="1" stop-color="#507ef3"/></linearGradient><linearGradient id="h96" gradientUnits="userSpaceOnUse" x1="554.5" x2="639.5"><stop offset="0" stop-color="#6498f7"/><stop offset="0.03529" stop-color="#679cf7"/><stop offset="0.07059" stop-color="#78b1fa"/><stop offset="0.1294" stop-color="#aee0fb"/><stop offset="0.1647" stop-color="#d3f1f6"/><stop offset="0.2" stop-color="#f2f9de"/><stop offset="0.2471" stop-color="#fff1ae"/><stop offset="0.2941" stop-color="#fdda80"/><stop offset="0.3294" stop-color="#fac56a"/><stop offset="0.4118" stop-color="#f4a04d"/><stop offset="0.4941" stop-color="#f09145"/><stop offset="0.5765" stop-color="#f39c4b"/><stop offset="0.6235" stop-color="#f7ad56"/><stop offset="0.6706" stop-color="#fac56a"/><stop offset="0.7059" stop-color="#fdda80"/><stop offset="0.7529" stop-color="#fff1ae"/><stop offset="0.8" stop-color="#f2f9de"/><stop offset="0.8353" stop-color="#d3f1f6"/><stop offset="0.8706" stop-color="#aee0fb"/><stop offset="0.9294" stop-color="#78b1fa"/><stop offset="0.9647" stop-color="#679cf7"/><stop offset="1" stop-color="#6498f7"/></linearGradient><linearGradient id="h97" gradientUnits="userSpaceOnUse" x1="554.5" x2="639.5"><stop offset="0" stop-color="#74adfa"/><stop offset="0.03529" stop-color="#78b1fa"/><stop offset="0.05882" stop-color="#83bcfb"/><stop offset="0.1412" stop-color="#cdeff7"/><stop offset="0.1882" stop-color="#f6f9d7"/><stop offset="0.2235" stop-color="#fff2b1"/><stop offset="0.2706" stop-color="#fdd97e"/><stop offset="0.3294" stop-color="#f8b259"/><stop offset="0.4118" stop-color="#ee8b42"/><stop offset="0.4941" stop-color="#e97c3b"/><stop offset="0.5765" stop-color="#ed8740"/><stop offset="0.6706" stop-color="#f8b259"/><stop offset="0.7294" stop-color="#fdd97e"/><stop offset="0.7765" stop-color="#fff2b1"/><stop offset="0.8118" stop-color="#f6f9d7"/><stop offset="0.8588" stop-color="#cdeff7"/><stop offset="0.9412" stop-color="#83bcfb"/><stop offset="0.9647" stop-color="#78b1fa"/><stop offset="1" stop-color="#74adfa"/></linearGradient><linearGradient id="h98" gradientUnits="userSpaceOnUse" x1="554.5" x2="639.5"><stop offset="0" stop-color="#85befb"/><stop offset="0.02353" stop-color="#86befb"/><stop offset="0.05882" stop-color="#95cbfb"/><stop offset="0.1294" stop-color="#d1f1f7"/><stop offset="0.1647" stop-color="#f1f9e0"/><stop offset="0.2" stop-color="#fef5ba"/><stop offset="0.2588" stop-color="#fdd578"/><stop offset="0.3176" stop-color="#f6a953"/><stop offset="0.4118" stop-color="#e87a3a"/><stop offset="0.4941" stop-color="#e16b36"/><stop offset="0.5882" stop-color="#e87a3a"/><stop offset="0.6824" stop-color="#f6a953"/><stop offset="0.7412" stop-color="#fdd578"/><stop offset="0.8" stop-color="#fef5ba"/><stop offset="0.8353" stop-color="#f1f9e0"/><stop offset="0.8706" stop-color="#d1f1f7"/><stop offset="0.9412" stop-color="#95cbfb"/><stop offset="0.9765" stop-color="#86befb"/><stop offset="1" stop-color="#85befb"/></linearGradient><linearGradient id="h99" gradientUnits="userSpaceOnUse" x1="554.5" x2="639.5"><stop offset="0" stop-color="#93c9fb"/><stop offset="0.02353" stop-color="#93cafb"/><stop offset="0.05882" stop-color="#a1d6fc"/><stop offset="0.1176" stop-color="#d1f1f7"/><stop offset="0.1529" stop-color="#f1f9e0"/><stop offset="0.1882" stop-color="#fdf5ba"/><stop offset="0.2471" stop-color="#fcd477"/><stop offset="0.3059" stop-color="#f5a651"/><stop offset="0.4" stop-color="#e47238"/><stop offset="0.4941" stop-color="#db5f33"/><stop offset="0.5882" stop-color="#e26e37"/><stop offset="0.6353" stop-color="#eb823d"/><stop offset="0.6941" stop-color="#f5a651"/><stop offset="0.7529" stop-color="#fcd477"/><stop offset="0.8118" stop-color="#fdf5ba"/><stop offset="0.8471" stop-color="#f1f9e0"/><stop offset="0.8824" stop-color="#d1f1f7"/><stop offset="0.9412" stop-color="#a1d6fc"/><stop offset="0.9765" stop-color="#93cafb"/><stop offset="1" stop-color="#93c9fb"/></linearGradient><linearGradient id="h100" gradientUnits="userSpaceOnUse" x1="554.5" x2="639.5"><stop offset="0" stop-color="#9bd1fb"/><stop offset="0.02353" stop-color="#9cd1fb"/><stop offset="0.05882" stop-color="#a9ddfc"/><stop offset="0.1176" stop-color="#d8f4f4"/><stop offset="0.1529" stop-color="#f5f9da"/><stop offset="0.1882" stop-color="#fff3b2"/><stop offset="0.2353" stop-color="#fdd77a"/><stop offset="0.2941" stop-color="#f6a852"/><stop offset="0.3529" stop-color="#eb813d"/><stop offset="0.4" stop-color="#e16b36"/><stop offset="0.4941" stop-color="#d75731"/><stop offset="0.5412" stop-color="#d95a32"/><stop offset="0.6" stop-color="#e16b36"/><stop offset="0.6471" stop-color="#eb813d"/><stop offset="0.7059" stop-color="#f6a852"/><stop offset="0.7647" stop-color="#fdd77a"/><stop offset="0.8118" stop-color="#fff3b2"/><stop offset="0.8471" stop-color="#f5f9da"/><stop offset="0.8824" stop-color="#d8f4f4"/><stop offset="0.9412" stop-color="#a9ddfc"/><stop offset="0.9765" stop-color="#9cd1fb"/><stop offset="1" stop-color="#9bd1fb"/></linearGradient><linearGradient id="h101" gradientUnits="userSpaceOnUse" x1="554.5" x2="639.5"><stop offset="0" stop-color="#9ed3fc"/><stop offset="0.04706" stop-color="#a6dafc"/><stop offset="0.1059" stop-color="#d0f0f7"/><stop offset="0.1412" stop-color="#eff9e2"/><stop offset="0.1765" stop-color="#fdf5bd"/><stop offset="0.2353" stop-color="#fdd578"/><stop offset="0.2941" stop-color="#f5a550"/><stop offset="0.3529" stop-color="#ea7f3c"/><stop offset="0.4" stop-color="#e06835"/><stop offset="0.4941" stop-color="#d65430"/><stop offset="0.5412" stop-color="#d85831"/><stop offset="0.6" stop-color="#e06835"/><stop offset="0.6471" stop-color="#ea7f3c"/><stop offset="0.7059" stop-color="#f5a550"/><stop offset="0.7647" stop-color="#fdd578"/><stop offset="0.8235" stop-color="#fdf5bd"/><stop offset="0.8588" stop-color="#eff9e2"/><stop offset="0.8941" stop-color="#d0f0f7"/><stop offset="0.9529" stop-color="#a6dafc"/><stop offset="1" stop-color="#9ed3fc"/></linearGradient><linearGradient id="h102" gradientUnits="userSpaceOnUse" x1="554.5" x2="639.5"><stop offset="0" stop-color="#9bd1fb"/><stop offset="0.02353" stop-color="#9cd2fb"/><stop offset="0.05882" stop-color="#a9ddfc"/><stop offset="0.1176" stop-color="#d9f4f4"/><stop offset="0.1529" stop-color="#f5f9d9"/><stop offset="0.1882" stop-color="#fff3b2"/><stop offset="0.2353" stop-color="#fdd779"/><stop offset="0.2941" stop-color="#f6a751"/><stop offset="0.3529" stop-color="#eb813c"/><stop offset="0.4" stop-color="#e16a36"/><stop offset="0.4941" stop-color="#d75731"/><stop offset="0.5412" stop-color="#d95a32"/><stop offset="0.6" stop-color="#e16a36"/><stop offset="0.6471" stop-color="#eb813c"/><stop offset="0.7059" stop-color="#f6a751"/><stop offset="0.7647" stop-color="#fdd779"/><stop offset="0.8118" stop-color="#fff3b2"/><stop offset="0.8471" stop-color="#f5f9d9"/><stop offset="0.8824" stop-color="#d9f4f4"/><stop offset="0.9412" stop-color="#a9ddfc"/><stop offset="0.9765" stop-color="#9cd2fb"/><stop offset="1" stop-color="#9bd1fb"/></linearGradient><linearGradient id="h103" gradientUnits="userSpaceOnUse" x1="554.5" x2="639.5"><stop offset="0" stop-color="#94cafb"/><stop offset="0.02353" stop-color="#94cbfb"/><stop offset="0.05882" stop-color="#a2d7fc"/><stop offset="0.1176" stop-color="#d2f1f7"/><stop offset="0.1529" stop-color="#f2f9e0"/><stop offset="0.1882" stop-color="#fef5b9"/><stop offset="0.2471" stop-color="#fcd376"/><stop offset="0.3059" stop-color="#f5a550"/><stop offset="0.4" stop-color="#e47138"/><stop offset="0.4941" stop-color="#db5e33"/><stop offset="0.5882" stop-color="#e26d37"/><stop offset="0.6353" stop-color="#eb813d"/><stop offset="0.6941" stop-color="#f5a550"/><stop offset="0.7529" stop-color="#fcd376"/><stop offset="0.8118" stop-color="#fef5b9"/><stop offset="0.8471" stop-color="#f2f9e0"/><stop offset="0.8824" stop-color="#d2f1f7"/><stop offset="0.9412" stop-color="#a2d7fc"/><stop offset="0.9765" stop-color="#94cbfb"/><stop offset="1" stop-color="#94cafb"/></linearGradient><linearGradient id="h104" gradientUnits="userSpaceOnUse" x1="554.5" x2="639.5"><stop offset="0" stop-color="#87bffb"/><stop offset="0.02353" stop-color="#87bffb"/><stop offset="0.05882" stop-color="#96ccfb"/><stop offset="0.1294" stop-color="#d2f1f6"/><stop offset="0.1647" stop-color="#f2f9df"/><stop offset="0.2" stop-color="#fef5b9"/><stop offset="0.2588" stop-color="#fcd477"/><stop offset="0.3176" stop-color="#f6a952"/><stop offset="0.4118" stop-color="#e8793a"/><stop offset="0.4941" stop-color="#e06a36"/><stop offset="0.5882" stop-color="#e8793a"/><stop offset="0.6824" stop-color="#f6a952"/><stop offset="0.7412" stop-color="#fcd477"/><stop offset="0.8" stop-color="#fef5b9"/><stop offset="0.8353" stop-color="#f2f9df"/><stop offset="0.8706" stop-color="#d2f1f6"/><stop offset="0.9412" stop-color="#96ccfb"/><stop offset="0.9765" stop-color="#87bffb"/><stop offset="1" stop-color="#87bffb"/></linearGradient><linearGradient id="h105" gradientUnits="userSpaceOnUse" x1="554.5" x2="639.5"><stop offset="0" stop-color="#76affa"/><stop offset="0.03529" stop-color="#79b2fa"/><stop offset="0.05882" stop-color="#85bdfb"/><stop offset="0.1412" stop-color="#cfeff7"/><stop offset="0.1882" stop-color="#f6f9d6"/><stop offset="0.2235" stop-color="#fff2b0"/><stop offset="0.2706" stop-color="#fdd97d"/><stop offset="0.3294" stop-color="#f8b158"/><stop offset="0.4118" stop-color="#ee8941"/><stop offset="0.4941" stop-color="#e87b3b"/><stop offset="0.5765" stop-color="#ed863f"/><stop offset="0.6706" stop-color="#f8b158"/><stop offset="0.7294" stop-color="#fdd97d"/><stop offset="0.7765" stop-color="#fff2b0"/><stop offset="0.8118" stop-color="#f6f9d6"/><stop offset="0.8588" stop-color="#cfeff7"/><stop offset="0.9412" stop-color="#85bdfb"/><stop offset="0.9647" stop-color="#79b2fa"/><stop offset="1" stop-color="#76affa"/></linearGradient><linearGradient id="h106" gradientUnits="userSpaceOnUse" x1="554.5" x2="639.5"><stop offset="0" stop-color="#6599f7"/><stop offset="0.03529" stop-color="#689ef7"/><stop offset="0.07059" stop-color="#79b2fa"/><stop offset="0.1294" stop-color="#b0e1fb"/><stop offset="0.1647" stop-color="#d4f2f5"/><stop offset="0.2" stop-color="#f3f9dd"/><stop offset="0.2471" stop-color="#fff0ad"/><stop offset="0.2941" stop-color="#fdd97e"/><stop offset="0.3294" stop-color="#fac469"/><stop offset="0.4118" stop-color="#f39e4c"/><stop offset="0.4941" stop-color="#ef9045"/><stop offset="0.5765" stop-color="#f29b4a"/><stop offset="0.6588" stop-color="#f9bd63"/><stop offset="0.7059" stop-color="#fdd97e"/><stop offset="0.7647" stop-color="#fdf4b9"/><stop offset="0.8" stop-color="#f3f9dd"/><stop offset="0.8353" stop-color="#d4f2f5"/><stop offset="0.8706" stop-color="#b0e1fb"/><stop offset="0.9294" stop-color="#79b2fa"/><stop offset="0.9647" stop-color="#689ef7"/><stop offset="1" stop-color="#6599f7"/></linearGradient><linearGradient id="h107" gradientUnits="userSpaceOnUse" x1="554.5" x2="639.5"><stop offset="0" stop-color="#5280f3"/><stop offset="0.03529" stop-color="#5686f4"/><stop offset="0.08235" stop-color="#70a7f9"/><stop offset="0.1412" stop-color="#a7dbfc"/><stop offset="0.1765" stop-color="#cbeef7"/><stop offset="0.2235" stop-color="#f3f9dc"/><stop offset="0.2824" stop-color="#feeda5"/><stop offset="0.3294" stop-color="#fdd97f"/><stop offset="0.3882" stop-color="#fabf64"/><stop offset="0.4588" stop-color="#f7ac55"/><stop offset="0.5294" stop-color="#f6aa54"/><stop offset="0.5882" stop-color="#f8b65d"/><stop offset="0.6588" stop-color="#fcd478"/><stop offset="0.7529" stop-color="#faf7c6"/><stop offset="0.7882" stop-color="#ebf8e5"/><stop offset="0.8235" stop-color="#cbeef7"/><stop offset="0.8588" stop-color="#a7dbfc"/><stop offset="0.9176" stop-color="#70a7f9"/><stop offset="0.9647" stop-color="#5686f4"/><stop offset="1" stop-color="#5280f3"/></linearGradient><linearGradient id="h108" gradientUnits="userSpaceOnUse" x1="554.5" x2="639.5"><stop offset="0" stop-color="#4066ef"/><stop offset="0.03529" stop-color="#446df0"/><stop offset="0.07059" stop-color="#5889f5"/><stop offset="0.1529" stop-color="#9ed4fc"/><stop offset="0.2" stop-color="#cceef7"/><stop offset="0.2588" stop-color="#f6f9d6"/><stop offset="0.3176" stop-color="#ffeea8"/><stop offset="0.3765" stop-color="#fddc83"/><stop offset="0.4235" stop-color="#fccf72"/><stop offset="0.4824" stop-color="#fbc66a"/><stop offset="0.5412" stop-color="#fbc86c"/><stop offset="0.6353" stop-color="#fedf89"/><stop offset="0.6941" stop-color="#fef2b1"/><stop offset="0.7412" stop-color="#f6f9d6"/><stop offset="0.7882" stop-color="#d6f3f4"/><stop offset="0.8353" stop-color="#aaddfc"/><stop offset="0.8941" stop-color="#71aaf9"/><stop offset="0.9412" stop-color="#507ef3"/><stop offset="0.9765" stop-color="#4168ef"/><stop offset="1" stop-color="#4066ef"/></linearGradient><linearGradient id="h109" gradientUnits="userSpaceOnUse" x1="554.5" x2="639.5"><stop offset="0" stop-color="#3453ea"/><stop offset="0.01176" stop-color="#324fea"/><stop offset="0.02353" stop-color="#3656eb"/><stop offset="0.07059" stop-color="#4e7bf3"/><stop offset="0.1294" stop-color="#77b0fa"/><stop offset="0.1765" stop-color="#a1d6fc"/><stop offset="0.2118" stop-color="#c0e8f9"/><stop offset="0.2471" stop-color="#dbf4f1"/><stop offset="0.2941" stop-color="#f4f9d8"/><stop offset="0.3882" stop-color="#feeca4"/><stop offset="0.4706" stop-color="#fee18d"/><stop offset="0.5529" stop-color="#fee391"/><stop offset="0.6235" stop-color="#feefa9"/><stop offset="0.6941" stop-color="#f7f8d1"/><stop offset="0.7529" stop-color="#dbf4f1"/><stop offset="0.8235" stop-color="#a1d6fc"/><stop offset="0.8706" stop-color="#77b0fa"/><stop offset="0.9294" stop-color="#4e7bf3"/><stop offset="0.9765" stop-color="#3656eb"/><stop offset="0.9882" stop-color="#324fea"/><stop offset="1" stop-color="#3453ea"/></linearGradient><linearGradient id="h110" gradientUnits="userSpaceOnUse" x1="554.5" x2="639.5"><stop offset="0" stop-color="#4065ee"/><stop offset="0.03529" stop-color="#436aef"/><stop offset="0.08235" stop-color="#5686f4"/><stop offset="0.1412" stop-color="#77b1fa"/><stop offset="0.2" stop-color="#a3d8fc"/><stop offset="0.2588" stop-color="#cbeef7"/><stop offset="0.3412" stop-color="#f1f9dd"/><stop offset="0.4235" stop-color="#fcf6c1"/><stop offset="0.4941" stop-color="#fdf3b8"/><stop offset="0.5647" stop-color="#fcf5be"/><stop offset="0.6471" stop-color="#f4f9d8"/><stop offset="0.6824" stop-color="#eaf8e6"/><stop offset="0.7412" stop-color="#cbeef7"/><stop offset="0.8" stop-color="#a3d8fc"/><stop offset="0.8588" stop-color="#77b1fa"/><stop offset="0.9176" stop-color="#5686f4"/><stop offset="0.9647" stop-color="#436aef"/><stop offset="1" stop-color="#4065ee"/></linearGradient><linearGradient id="h111" gradientUnits="userSpaceOnUse" x1="554.5" x2="639.5"><stop offset="0" stop-color="#5787f4"/><stop offset="0.04706" stop-color="#5a8bf5"/><stop offset="0.1176" stop-color="#6fa6f9"/><stop offset="0.2588" stop-color="#b5e3fb"/><stop offset="0.3765" stop-color="#e1f5ed"/><stop offset="0.4941" stop-color="#eef8e0"/><stop offset="0.6118" stop-color="#e3f6eb"/><stop offset="0.7294" stop-color="#bae6fa"/><stop offset="0.7765" stop-color="#a3d8fc"/><stop offset="0.8706" stop-color="#73acf9"/><stop offset="0.9412" stop-color="#5c8ef5"/><stop offset="1" stop-color="#5787f4"/></linearGradient><linearGradient id="h112" gradientUnits="userSpaceOnUse" x1="554.5" x2="639.5"><stop offset="0" stop-color="#74acf9"/><stop offset="0.1176" stop-color="#7fb8fa"/><stop offset="0.3059" stop-color="#b1e1fb"/><stop offset="0.4" stop-color="#c3eaf9"/><stop offset="0.4941" stop-color="#caedf7"/><stop offset="0.5882" stop-color="#c4ebf8"/><stop offset="0.6941" stop-color="#b1e1fb"/><stop offset="0.8824" stop-color="#7fb8fa"/><stop offset="1" stop-color="#74acf9"/></linearGradient><linearGradient id="h113" gradientUnits="userSpaceOnUse" x1="554.5" x2="639.5"><stop offset="0" stop-color="#9bd1fb"/><stop offset="1" stop-color="#9bd1fb"/></linearGradient><linearGradient id="h114" gradientUnits="userSpaceOnUse" x1="554.5" x2="639.5"><stop offset="0" stop-color="#c5ebf8"/><stop offset="0.09412" stop-color="#c0e9f9"/><stop offset="0.1882" stop-color="#b1e1fb"/><stop offset="0.4" stop-color="#81bafa"/><stop offset="0.5059" stop-color="#78b0fa"/><stop offset="0.6" stop-color="#81bafa"/><stop offset="0.8118" stop-color="#b1e1fb"/><stop offset="0.9059" stop-color="#c0e9f9"/><stop offset="1" stop-color="#c5ebf8"/></linearGradient><linearGradient id="h115" gradientUnits="userSpaceOnUse" x1="554.5" x2="639.5"><stop offset="0" stop-color="#ebf8e4"/><stop offset="0.1176" stop-color="#e0f5ee"/><stop offset="0.2471" stop-color="#b4e3fb"/><stop offset="0.3765" stop-color="#75affa"/><stop offset="0.4471" stop-color="#6093f6"/><stop offset="0.4941" stop-color="#5a8bf5"/><stop offset="0.5412" stop-color="#5e90f6"/><stop offset="0.6118" stop-color="#71aaf9"/><stop offset="0.7529" stop-color="#b4e3fb"/><stop offset="0.8824" stop-color="#e0f5ee"/><stop offset="1" stop-color="#ebf8e4"/></linearGradient><linearGradient id="h116" gradientUnits="userSpaceOnUse" x1="554.5" x2="639.5"><stop offset="0" stop-color="#fcf5bd"/><stop offset="0.07059" stop-color="#fbf6c3"/><stop offset="0.1529" stop-color="#f3f9db"/><stop offset="0.2471" stop-color="#cbeef8"/><stop offset="0.3059" stop-color="#a4d9fc"/><stop offset="0.3765" stop-color="#72abf9"/><stop offset="0.4471" stop-color="#4d7af3"/><stop offset="0.4941" stop-color="#4168ef"/><stop offset="0.5294" stop-color="#456ff0"/><stop offset="0.5882" stop-color="#5f92f6"/><stop offset="0.6941" stop-color="#a4d9fc"/><stop offset="0.7529" stop-color="#cbeef8"/><stop offset="0.8471" stop-color="#f3f9db"/><stop offset="0.9294" stop-color="#fbf6c3"/><stop offset="1" stop-color="#fcf5bd"/></linearGradient><linearGradient id="h117" gradientUnits="userSpaceOnUse" x1="554.5" x2="639.5"><stop offset="0" stop-color="#fee391"/><stop offset="0.09412" stop-color="#fee99e"/><stop offset="0.1882" stop-color="#f9f7cb"/><stop offset="0.2235" stop-color="#f0f9e0"/><stop offset="0.2706" stop-color="#d3f1f5"/><stop offset="0.3294" stop-color="#a3d7fc"/><stop offset="0.3765" stop-color="#79b2fa"/><stop offset="0.4353" stop-color="#507ef3"/><stop offset="0.4941" stop-color="#3351ea"/><stop offset="0.5176" stop-color="#3758ec"/><stop offset="0.5647" stop-color="#507ef3"/><stop offset="0.6235" stop-color="#79b2fa"/><stop offset="0.6706" stop-color="#a3d7fc"/><stop offset="0.7294" stop-color="#d3f1f5"/><stop offset="0.7765" stop-color="#f0f9e0"/><stop offset="0.8118" stop-color="#f9f7cb"/><stop offset="0.9059" stop-color="#fee99e"/><stop offset="1" stop-color="#fee391"/></linearGradient></defs>
<clipPath id="ch"><path d="M597 176.5L555.3 200.5L555.3 248.6L597 272.7L638.7 248.7L638.7 200.5Z"/></clipPath>
<g clip-path="url(#ch)"><rect x="554" y="175" width="86" height="3.6" fill="url(#h85)"/><rect x="554" y="178" width="86" height="3.6" fill="url(#h86)"/><rect x="554" y="181" width="86" height="3.6" fill="url(#h87)"/><rect x="554" y="184" width="86" height="3.6" fill="url(#h88)"/><rect x="554" y="187" width="86" height="3.6" fill="url(#h89)"/><rect x="554" y="190" width="86" height="3.6" fill="url(#h90)"/><rect x="554" y="193" width="86" height="3.6" fill="url(#h91)"/><rect x="554" y="196" width="86" height="3.6" fill="url(#h92)"/><rect x="554" y="199" width="86" height="3.6" fill="url(#h93)"/><rect x="554" y="202" width="86" height="3.6" fill="url(#h94)"/><rect x="554" y="205" width="86" height="3.6" fill="url(#h95)"/><rect x="554" y="208" width="86" height="3.6" fill="url(#h96)"/><rect x="554" y="211" width="86" height="3.6" fill="url(#h97)"/><rect x="554" y="214" width="86" height="3.6" fill="url(#h98)"/><rect x="554" y="217" width="86" height="3.6" fill="url(#h99)"/><rect x="554" y="220" width="86" height="3.6" fill="url(#h100)"/><rect x="554" y="223" width="86" height="3.6" fill="url(#h101)"/><rect x="554" y="226" width="86" height="3.6" fill="url(#h102)"/><rect x="554" y="229" width="86" height="3.6" fill="url(#h103)"/><rect x="554" y="232" width="86" height="3.6" fill="url(#h104)"/><rect x="554" y="235" width="86" height="3.6" fill="url(#h105)"/><rect x="554" y="238" width="86" height="3.6" fill="url(#h106)"/><rect x="554" y="241" width="86" height="3.6" fill="url(#h107)"/><rect x="554" y="244" width="86" height="3.6" fill="url(#h108)"/><rect x="554" y="247" width="86" height="3.6" fill="url(#h109)"/><rect x="554" y="250" width="86" height="3.6" fill="url(#h110)"/><rect x="554" y="253" width="86" height="3.6" fill="url(#h111)"/><rect x="554" y="256" width="86" height="3.6" fill="url(#h112)"/><rect x="554" y="259" width="86" height="3.6" fill="url(#h113)"/><rect x="554" y="262" width="86" height="3.6" fill="url(#h114)"/><rect x="554" y="265" width="86" height="3.6" fill="url(#h115)"/><rect x="554" y="268" width="86" height="3.6" fill="url(#h116)"/><rect x="554" y="271" width="86" height="3" fill="url(#h117)"/>
<path d="M594.2 175L593.7 176.5L593.7 177.5L594 178.2L595 179.2L596 179.6L597 179.7L598 179.6L599 179.2L600 178.2L600.3 177.5L600.3 176.5L599.8 175M554 203.6L554.5 203.9L555.5 204L556.5 203.7L557 203.4L558.2 202L558.6 201L558.7 200L558.5 199L557.5 197.9L556 197.4L555 197.4L554 197.6M640 197.6L639 197.4L638 197.4L636.5 197.9L635.5 199L635.3 200L635.4 201L635.8 202L637 203.4L637.5 203.7L638.5 204L639.5 203.9L640 203.6M554 251.6L555 251.8L556 251.8L557.5 251.3L558.3 250.5L558.5 250L558.7 249L558.5 248L558.1 247L557 245.8L556.5 245.5L555.5 245.2L554.5 245.3L554 245.6M640 245.6L639.5 245.3L638.5 245.2L637.5 245.5L637 245.8L635.9 247L635.5 248L635.3 249L635.5 250L635.7 250.5L636.5 251.3L638 251.8L639 251.8L640 251.6M599.9 274L600.3 272.5L600.2 271.5L600 270.9L599 270L598 269.6L597 269.5L596 269.6L595 270L594 270.9L593.8 271.5L593.7 272.5L594.1 274M590.8 175L590.3 176.5L590.1 178L590.2 179.5L590.7 180.5L591.8 181.5L593 182.1L595 182.6L597 182.7L599 182.6L601 182.1L602.2 181.5L603.3 180.5L603.8 179.5L603.9 178L603.7 176.5L603.2 175M554 207.7L555 208L556.5 207.8L557.9 207L559 206L560.2 204.5L561.3 202.5L562.1 200.5L562.3 199L562.2 198L561.9 197L561.1 196L560.5 195.5L559 194.8L557.5 194.5L556 194.3L554 194.4M640 194.4L638 194.3L636.5 194.5L635 194.8L633.5 195.5L632.9 196L632.1 197L631.8 198L631.7 199L631.9 200.5L632.7 202.5L633.8 204.5L635 206L636.1 207L637.5 207.8L639 208L640 207.7M554 254.8L556 254.9L557.5 254.7L560 254L561 253.3L561.7 252.5L562.2 251.5L562.3 250.5L562.1 249L561.5 247L560.4 245L559 243.2L557.7 242L556.5 241.4L555 241.2L554 241.5M640 241.5L639 241.2L637.5 241.4L636.3 242L635 243.2L633.6 245L632.5 247L631.9 249L631.7 250.5L631.8 251.5L632.3 252.5L633 253.3L634 254L636.5 254.7L638 254.9L640 254.8M603.3 274L603.8 272.5L603.9 271L603.7 269.5L603.1 268.5L602 267.6L600.7 267L599 266.6L597 266.5L595 266.6L593.3 267L592 267.6L590.9 268.5L590.3 269.5L590.1 271L590.2 272.5L590.7 274M587.5 175L586.3 178L585.8 180L585.8 181L585.9 182L586.5 183.1L588 184.3L590 185L593 185.5L597 185.6L601 185.5L604 185L606 184.3L607.5 183.1L608.1 182L608.2 181L608.2 180L607.7 178L606.5 175M554 212.7L555.5 213L557 212.6L558.5 211.5L560.5 209.3L562.7 206L564.9 202L566.1 199L566.6 196.5L566.4 195L565.9 194L565 193.2L563.7 192.5L562 192L559.5 191.6L554 191.4M640 191.4L634.5 191.6L632 192L630.3 192.5L629 193.2L628.1 194L627.6 195L627.4 196.5L627.9 199L629.1 202L631.3 206L633.5 209.3L635.5 211.5L637 212.6L638.5 213L640 212.7M554 257.8L559.5 257.6L561.5 257.3L563.5 256.8L564.5 256.3L565.6 255.5L566.3 254.5L566.6 253L566.2 250.5L565 247.5L562.9 243.5L560.5 239.9L558.5 237.7L557 236.6L555.5 236.2L554 236.5M640 236.5L638.5 236.2L637 236.6L635.5 237.7L633.5 239.9L631.1 243.5L629 247.5L627.8 250.5L627.4 253L627.7 254.5L628.4 255.5L629.5 256.3L630.5 256.8L632.5 257.3L634.5 257.6L640 257.8M606.6 274L607.8 271L608.2 269L608.2 267.5L607.4 266L606.1 265L604 264.2L601 263.7L597 263.6L593 263.7L590 264.2L587.9 265L586.6 266L585.8 267.5L585.8 269L586.2 271L587.4 274M584 175L576.2 188.5L617.8 188.5L610 175M554 222.3L555 224L555.5 224.4L555.6 224L575.9 189L575.5 188.5L554 188.5M640 188.5L618.5 188.5L618.1 189L638.4 224L638.5 224.4L639 224L640 222.3M640 226.9L639 225.2L638.7 225L638.5 224.7L638.2 225.5L618 260.5L617.5 260.8L615.5 260.7L597 260.7L578.5 260.7L576.5 260.8L576 260.5L555.8 225.5L555.5 224.7L555.3 225L555 225.2L554 226.9M554 260.7L574 260.7L576 260.5L576.5 261.1L583.9 274M610.1 274L617.5 261.1L618 260.5L620 260.7L640 260.7M580.2 175L578 177.8L575.5 180.3L573 182.1L570.5 183.4L567.5 184.4L563.5 185.2L559 185.6L554 185.6M640 185.6L635 185.6L630.5 185.2L626.5 184.4L623.5 183.4L621 182.1L618.5 180.3L616 177.8L613.8 175M603 257.5L599 257.8L595 257.8L591.5 257.6L588 257.2L585 256.6L582.5 255.8L580.5 254.9L578.5 253.7L576.5 252.1L574.5 250.1L572.5 247.7L570.3 244.5L568 240.8L566 237L564.4 233.5L563.4 230.5L562.8 228L562.5 225.5L562.5 223.5L562.8 221L563.4 218.5L564.3 216L565.6 213L567.4 209.5L569.4 206L571.5 202.9L573.5 200.2L575.5 198L577.5 196.2L579.5 194.8L581.5 193.8L584 192.9L587.5 192.1L591.5 191.6L596 191.4L601 191.5L605 191.9L608.5 192.5L611.5 193.4L614 194.5L616.5 196.2L618.5 198L620.7 200.5L623 203.6L625.5 207.6L627.9 212L629.7 216L630.7 219L631.4 222L631.5 225L631.2 228L630.5 231L629.1 234.5L627 239L624.5 243.3L622 247L620 249.6L618 251.7L616 253.4L614 254.7L611.5 255.8L609 256.6L606 257.2ZM554 263.6L559 263.6L563.5 264L567.5 264.8L570.5 265.8L573 267.1L575.5 268.9L578 271.4L580.1 274M613.9 274L616 271.4L618.5 268.9L621 267.1L623.5 265.8L626.5 264.8L630.5 264L635 263.6L640 263.6M576.1 175L574 176.9L571.9 178.5L569.5 179.9L567 180.9L564 181.8L561 182.3L557.5 182.7L554 182.7M640 182.7L636.5 182.7L633 182.3L630 181.8L627 180.9L624.5 179.9L622.1 178.5L620 176.9L617.9 175M602.5 254.5L599.5 254.8L596 254.9L592.5 254.6L589.5 254.2L587 253.6L584.5 252.8L582 251.6L580 250.4L578 248.8L576 246.9L574 244.5L572 241.7L570.4 239L568.9 236L567.7 233L566.8 230L566.3 227L566.1 224.5L566.3 222L566.7 219.5L567.4 217L568.5 214L569.9 211L571.4 208.5L573 206L575 203.4L577 201.3L579 199.6L581 198.2L583 197.1L585.5 196.1L588 195.3L591.5 194.7L595 194.4L598.5 194.4L602 194.6L605 195.1L608 195.9L610.5 196.9L613 198.2L615.5 200L617.5 201.8L619.5 204L621.5 206.7L623.5 210L625 213L626.3 216L627.2 219L627.7 222L627.9 224.5L627.7 227.5L627.1 230.5L626.2 233.5L624.9 236.5L623.1 240L621.1 243L619.2 245.5L617.4 247.5L615.1 249.5L613 251L610.5 252.3L608 253.3L605.5 254ZM554 266.5L557.5 266.5L560.5 266.8L563.5 267.3L566.5 268.1L569 269.1L571.5 270.4L573.7 272L575.9 274M618.1 274L620.3 272L622.5 270.4L625 269.1L627.5 268.1L630.5 267.3L633.5 266.8L636.5 266.5L640 266.5M571.1 175L567.5 177.1L563.5 178.6L559 179.5L554 179.7M640 179.7L635 179.5L630.5 178.6L626.5 177.1L622.9 175M601.5 251.5L599 251.8L596 251.8L593 251.6L590.5 251.2L588 250.5L585.5 249.6L583.5 248.6L581.5 247.3L579.5 245.8L577.5 243.8L576 242L574.2 239.5L572.7 237L571.6 234.5L570.5 231.5L569.9 229L569.5 226.5L569.5 224L569.7 221.5L570.1 219L570.9 216.5L571.9 214L573.1 211.5L574.6 209L576.1 207L578 204.9L580 203L582 201.5L584 200.3L586 199.4L588.5 198.5L591 197.9L593.5 197.5L596.5 197.4L599.5 197.4L602.5 197.8L605 198.4L607.5 199.2L610 200.3L612 201.5L614 203L616.1 205L618 207.1L619.7 209.5L621.2 212L622.4 214.5L623.4 217.5L624.1 220L624.4 222.5L624.5 225L624.3 227.5L623.8 230.5L623 233.1L621.8 236L620.4 238.5L618.8 241L617 243.3L615 245.3L613 247L611 248.3L609 249.4L606.5 250.4L604 251.1ZM554 269.5L558.5 269.7L563 270.4L567 271.8L569 272.8L570.8 274M623.2 274L625 272.8L627 271.8L631 270.4L635.5 269.7L640 269.5M564 175L561.5 175.8L559 176.2L556.5 176.5L554 176.5M640 176.5L637.5 176.5L635 176.2L632.5 175.8L630 175M599.5 248.5L597 248.6L594.5 248.5L592 248.2L590 247.7L588 247L585.8 246L584 245L582 243.5L580.3 242L578.5 240L577 238L575.8 236L574.8 234L573.9 231.5L573.4 229.5L573 227L572.8 224.5L572.9 222.5L573.3 220L573.8 218L574.5 216L575.7 213.5L577 211.2L578.5 209.2L580 207.5L581.6 206L583.5 204.5L585.5 203.3L587.5 202.4L589.5 201.7L591.5 201.1L594 200.7L596.5 200.6L599 200.6L601.5 200.9L603.5 201.4L606 202.2L608 203.1L610 204.2L611.8 205.5L613.5 207L615.3 209L616.8 211L618.1 213L619.1 215L620 217.5L620.6 219.5L621 222L621.2 224.5L621 227L620.6 229.5L620.1 231.5L619.2 234L618.2 236L617 238L615.5 240L613.7 242L612 243.5L610.5 244.7L608.5 245.9L606.5 246.8L604 247.7L602 248.2ZM554 272.7L556.5 272.7L559 273L561.5 273.4L563.4 274M630.6 274L632.5 273.4L635 273L637.5 272.7L640 272.7M599.5 245L595.5 245.1L591.5 244.4L589.5 243.8L587.7 243L584.5 241L582.8 239.5L581.4 238L580 236.2L579 234.6L577.4 231L576.9 229L576.5 227L576.4 225L576.4 223L576.7 221L577.2 219L577.9 217L578.8 215L581 211.7L583.5 209L585 207.8L587 206.6L590.5 205L592.5 204.5L594.5 204.2L598.5 204.1L602.5 204.8L606 206.1L607.7 207L609.5 208.2L611 209.5L612.5 211.1L613.6 212.5L614.9 214.5L616.5 218L617.1 220L617.4 222L617.6 224L617.6 226L617.3 228L616.9 230L616.2 232L615.3 234L614.1 236L613 237.5L611.7 239L610.1 240.5L607 242.6L603.5 244.2L601.5 244.7ZM599.5 241L596 241.2L593 240.7L590 239.7L587.2 238L584.5 235.5L582.7 233L581.3 230L580.6 227L580.4 223.5L580.9 220.5L582 217.5L583.8 214.5L586 212.2L588.5 210.3L591.5 208.9L594.5 208.2L598 208L601 208.5L604 209.5L606.5 211L609 213.1L611 215.7L612.5 218.7L613.4 222L613.6 225.5L613.1 228.5L612.1 231.5L610.3 234.5L608 237L605.5 238.9L602.5 240.3ZM599 236L596.5 236.2L594.5 235.9L592 235.1L590.2 234L588.5 232.5L587 230.5L586.1 228.5L585.5 226.5L585.4 224L585.7 222L586.3 220L587.5 217.9L589 216.2L590.5 215L592.5 213.9L595 213.2L597.5 213L599.5 213.3L601.5 213.9L603.5 215L605.3 216.5L606.5 218L607.7 220L608.4 222.5L608.6 225L608.4 227L607.5 229.5L606.5 231.3L605 233L603.1 234.5L601 235.5Z" fill="none" stroke="#1a1a1a" stroke-width="0.6" stroke-opacity="0.9"/>
</g>
<path d="M597 176.5L555.3 200.5L555.3 248.6L597 272.7L638.7 248.7L638.7 200.5Z" fill="none" stroke="#000" stroke-width="1.1" stroke-linejoin="miter"/>
<g fill="#ff0000"><circle cx="597" cy="176.5" r="2.1"/><circle cx="555.3" cy="200.5" r="2.1"/><circle cx="555.3" cy="248.6" r="2.1"/><circle cx="597" cy="272.7" r="2.1"/><circle cx="638.7" cy="248.7" r="2.1"/><circle cx="638.7" cy="200.5" r="2.1"/></g>
<defs><linearGradient id="i118" gradientUnits="userSpaceOnUse" x1="554.5" x2="639.5"><stop offset="0" stop-color="#d4f1f3"/><stop offset="0.07059" stop-color="#cdeef6"/><stop offset="0.1529" stop-color="#abddfb"/><stop offset="0.2471" stop-color="#72abf9"/><stop offset="0.3294" stop-color="#4b77f2"/><stop offset="0.4118" stop-color="#3656eb"/><stop offset="0.4941" stop-color="#2d48e8"/><stop offset="0.5765" stop-color="#3452ea"/><stop offset="0.6706" stop-color="#4b77f2"/><stop offset="0.7529" stop-color="#72abf9"/><stop offset="0.8471" stop-color="#abddfb"/><stop offset="0.9294" stop-color="#cdeef6"/><stop offset="1" stop-color="#d4f1f3"/></linearGradient><linearGradient id="i119" gradientUnits="userSpaceOnUse" x1="554.5" x2="639.5"><stop offset="0" stop-color="#a5d8fb"/><stop offset="0.05882" stop-color="#a2d6fb"/><stop offset="0.1176" stop-color="#93cafb"/><stop offset="0.1882" stop-color="#77b0fa"/><stop offset="0.3176" stop-color="#4873f1"/><stop offset="0.4235" stop-color="#3352ea"/><stop offset="0.5059" stop-color="#2f4ae9"/><stop offset="0.5882" stop-color="#3555eb"/><stop offset="0.6824" stop-color="#4873f1"/><stop offset="0.8118" stop-color="#77b0fa"/><stop offset="0.8824" stop-color="#93cafb"/><stop offset="0.9412" stop-color="#a2d6fb"/><stop offset="1" stop-color="#a5d8fb"/></linearGradient><linearGradient id="i120" gradientUnits="userSpaceOnUse" x1="554.5" x2="639.5"><stop offset="0" stop-color="#7bb3fa"/><stop offset="0.1176" stop-color="#71a8f9"/><stop offset="0.3529" stop-color="#3f64ee"/><stop offset="0.4941" stop-color="#3352ea"/><stop offset="0.6353" stop-color="#3d62ee"/><stop offset="0.8941" stop-color="#73abf9"/><stop offset="1" stop-color="#7bb3fa"/></linearGradient><linearGradient id="i121" gradientUnits="userSpaceOnUse" x1="554.5" x2="639.5"><stop offset="0" stop-color="#5e90f6"/><stop offset="0.1059" stop-color="#5a8cf5"/><stop offset="0.3647" stop-color="#4167ef"/><stop offset="0.4941" stop-color="#3c5fed"/><stop offset="0.6118" stop-color="#3f65ee"/><stop offset="0.8706" stop-color="#5889f5"/><stop offset="1" stop-color="#5e90f6"/></linearGradient><linearGradient id="i122" gradientUnits="userSpaceOnUse" x1="554.5" x2="639.5"><stop offset="0" stop-color="#4973f1"/><stop offset="1" stop-color="#4973f1"/></linearGradient><linearGradient id="i123" gradientUnits="userSpaceOnUse" x1="554.5" x2="639.5"><stop offset="0" stop-color="#3c60ed"/><stop offset="0.1294" stop-color="#4066ee"/><stop offset="0.3765" stop-color="#5787f4"/><stop offset="0.4941" stop-color="#5d8ff5"/><stop offset="0.6118" stop-color="#5889f5"/><stop offset="0.8706" stop-color="#4066ee"/><stop offset="1" stop-color="#3c60ed"/></linearGradient><linearGradient id="i124" gradientUnits="userSpaceOnUse" x1="554.5" x2="639.5"><stop offset="0" stop-color="#3452ea"/><stop offset="0.1294" stop-color="#3b5eed"/><stop offset="0.3765" stop-color="#6ca3f8"/><stop offset="0.4941" stop-color="#7ab2fa"/><stop offset="0.6118" stop-color="#6ea6f9"/><stop offset="0.8706" stop-color="#3b5eed"/><stop offset="1" stop-color="#3452ea"/></linearGradient><linearGradient id="i125" gradientUnits="userSpaceOnUse" x1="554.5" x2="639.5"><stop offset="0" stop-color="#2f4be9"/><stop offset="0.09412" stop-color="#3453ea"/><stop offset="0.1882" stop-color="#4670f1"/><stop offset="0.3765" stop-color="#8bc3fb"/><stop offset="0.4353" stop-color="#9dd2fb"/><stop offset="0.4941" stop-color="#a4d7fb"/><stop offset="0.5529" stop-color="#9fd4fb"/><stop offset="0.6235" stop-color="#8bc3fb"/><stop offset="0.8235" stop-color="#436cf0"/><stop offset="0.9176" stop-color="#3351ea"/><stop offset="1" stop-color="#2f4be9"/></linearGradient><linearGradient id="i126" gradientUnits="userSpaceOnUse" x1="554.5" x2="639.5"><stop offset="0" stop-color="#2d48e8"/><stop offset="0.08235" stop-color="#3251ea"/><stop offset="0.1765" stop-color="#4873f1"/><stop offset="0.2706" stop-color="#74adf9"/><stop offset="0.3529" stop-color="#a6d9fb"/><stop offset="0.4235" stop-color="#c6ecf8"/><stop offset="0.4941" stop-color="#d3f0f4"/><stop offset="0.5647" stop-color="#caedf7"/><stop offset="0.6471" stop-color="#a6d9fb"/><stop offset="0.7294" stop-color="#74adf9"/><stop offset="0.8235" stop-color="#4873f1"/><stop offset="0.9176" stop-color="#3251ea"/><stop offset="1" stop-color="#2d48e8"/></linearGradient><linearGradient id="i127" gradientUnits="userSpaceOnUse" x1="554.5" x2="639.5"><stop offset="0" stop-color="#2f4be9"/><stop offset="0.08235" stop-color="#3554eb"/><stop offset="0.1647" stop-color="#4c78f2"/><stop offset="0.2353" stop-color="#73abf9"/><stop offset="0.2941" stop-color="#a1d6fc"/><stop offset="0.3412" stop-color="#c6ebf8"/><stop offset="0.4118" stop-color="#ecf7e2"/><stop offset="0.4941" stop-color="#f7f8d0"/><stop offset="0.5412" stop-color="#f5f8d4"/><stop offset="0.5882" stop-color="#ecf7e2"/><stop offset="0.6588" stop-color="#c6ebf8"/><stop offset="0.7059" stop-color="#a1d6fc"/><stop offset="0.7647" stop-color="#73abf9"/><stop offset="0.8353" stop-color="#4c78f2"/><stop offset="0.9176" stop-color="#3554eb"/><stop offset="1" stop-color="#2f4be9"/></linearGradient><linearGradient id="i128" gradientUnits="userSpaceOnUse" x1="554.5" x2="639.5"><stop offset="0" stop-color="#3250ea"/><stop offset="0.07059" stop-color="#3758eb"/><stop offset="0.1529" stop-color="#507ff3"/><stop offset="0.2118" stop-color="#75adfa"/><stop offset="0.2706" stop-color="#abddfb"/><stop offset="0.3176" stop-color="#d8f3f3"/><stop offset="0.3412" stop-color="#eaf8e6"/><stop offset="0.3765" stop-color="#f9f7cc"/><stop offset="0.4588" stop-color="#feea9e"/><stop offset="0.5059" stop-color="#fee798"/><stop offset="0.5529" stop-color="#feeba3"/><stop offset="0.6118" stop-color="#fbf6c4"/><stop offset="0.6471" stop-color="#f0f8de"/><stop offset="0.7059" stop-color="#c2eaf9"/><stop offset="0.7412" stop-color="#a0d5fc"/><stop offset="0.7882" stop-color="#75adfa"/><stop offset="0.8588" stop-color="#4b77f2"/><stop offset="0.9294" stop-color="#3758eb"/><stop offset="1" stop-color="#3250ea"/></linearGradient><linearGradient id="i129" gradientUnits="userSpaceOnUse" x1="554.5" x2="639.5"><stop offset="0" stop-color="#3757eb"/><stop offset="0.07059" stop-color="#3c60ed"/><stop offset="0.1412" stop-color="#5584f4"/><stop offset="0.2" stop-color="#7db7fa"/><stop offset="0.2471" stop-color="#afe0fb"/><stop offset="0.2941" stop-color="#e1f6ed"/><stop offset="0.3176" stop-color="#f3f9d9"/><stop offset="0.3529" stop-color="#fdf3b5"/><stop offset="0.4" stop-color="#fedf8a"/><stop offset="0.4588" stop-color="#fbca6e"/><stop offset="0.4941" stop-color="#fac569"/><stop offset="0.5412" stop-color="#fbca6e"/><stop offset="0.5882" stop-color="#fdda82"/><stop offset="0.6235" stop-color="#fee99e"/><stop offset="0.6824" stop-color="#f3f9d9"/><stop offset="0.7294" stop-color="#c9edf8"/><stop offset="0.7647" stop-color="#a2d7fc"/><stop offset="0.8118" stop-color="#73acf9"/><stop offset="0.8706" stop-color="#4f7cf3"/><stop offset="0.9412" stop-color="#3a5dec"/><stop offset="1" stop-color="#3757eb"/></linearGradient><linearGradient id="i130" gradientUnits="userSpaceOnUse" x1="554.5" x2="639.5"><stop offset="0" stop-color="#3c5fed"/><stop offset="0.07059" stop-color="#4269ef"/><stop offset="0.1294" stop-color="#5989f5"/><stop offset="0.1765" stop-color="#79b2fa"/><stop offset="0.2235" stop-color="#acdefb"/><stop offset="0.2471" stop-color="#c8ecf8"/><stop offset="0.2824" stop-color="#eff8e1"/><stop offset="0.3294" stop-color="#ffeea9"/><stop offset="0.3647" stop-color="#fdd97f"/><stop offset="0.4118" stop-color="#f9b960"/><stop offset="0.4706" stop-color="#f4a24f"/><stop offset="0.5176" stop-color="#f4a04d"/><stop offset="0.5765" stop-color="#f8b35a"/><stop offset="0.6235" stop-color="#fcd175"/><stop offset="0.6824" stop-color="#fdf4b7"/><stop offset="0.7176" stop-color="#eff8e1"/><stop offset="0.7412" stop-color="#d6f2f4"/><stop offset="0.7647" stop-color="#bae6fa"/><stop offset="0.8235" stop-color="#79b2fa"/><stop offset="0.8588" stop-color="#6093f6"/><stop offset="0.9294" stop-color="#4269ef"/><stop offset="1" stop-color="#3c5fed"/></linearGradient><linearGradient id="i131" gradientUnits="userSpaceOnUse" x1="554.5" x2="639.5"><stop offset="0" stop-color="#4167ef"/><stop offset="0.07059" stop-color="#4771f1"/><stop offset="0.1294" stop-color="#6296f6"/><stop offset="0.1647" stop-color="#7cb5fa"/><stop offset="0.2" stop-color="#a3d8fc"/><stop offset="0.2353" stop-color="#cfeff7"/><stop offset="0.2706" stop-color="#f5f9d9"/><stop offset="0.3059" stop-color="#ffefa9"/><stop offset="0.3412" stop-color="#fdd579"/><stop offset="0.4" stop-color="#f5a44f"/><stop offset="0.4706" stop-color="#eb823e"/><stop offset="0.5294" stop-color="#eb823e"/><stop offset="0.5765" stop-color="#f19547"/><stop offset="0.6353" stop-color="#fac065"/><stop offset="0.6588" stop-color="#fdd579"/><stop offset="0.6941" stop-color="#ffefa9"/><stop offset="0.7294" stop-color="#f5f9d9"/><stop offset="0.7647" stop-color="#cfeff7"/><stop offset="0.8235" stop-color="#88c0fb"/><stop offset="0.8588" stop-color="#699ff8"/><stop offset="0.9294" stop-color="#4771f1"/><stop offset="1" stop-color="#4167ef"/></linearGradient><linearGradient id="i132" gradientUnits="userSpaceOnUse" x1="554.5" x2="639.5"><stop offset="0" stop-color="#456ef0"/><stop offset="0.07059" stop-color="#4c79f2"/><stop offset="0.1412" stop-color="#71a9f9"/><stop offset="0.2" stop-color="#b0e1fb"/><stop offset="0.2235" stop-color="#cff0f7"/><stop offset="0.2588" stop-color="#f6f9d7"/><stop offset="0.2824" stop-color="#fef4b5"/><stop offset="0.3176" stop-color="#fdda7f"/><stop offset="0.3647" stop-color="#f7ab54"/><stop offset="0.4353" stop-color="#e7783a"/><stop offset="0.4941" stop-color="#df6835"/><stop offset="0.5647" stop-color="#e7783a"/><stop offset="0.6353" stop-color="#f7ab54"/><stop offset="0.6824" stop-color="#fdda7f"/><stop offset="0.7176" stop-color="#fef4b5"/><stop offset="0.7412" stop-color="#f6f9d7"/><stop offset="0.7765" stop-color="#cff0f7"/><stop offset="0.8" stop-color="#b0e1fb"/><stop offset="0.8588" stop-color="#71a9f9"/><stop offset="0.9294" stop-color="#4c79f2"/><stop offset="1" stop-color="#456ef0"/></linearGradient><linearGradient id="i133" gradientUnits="userSpaceOnUse" x1="554.5" x2="639.5"><stop offset="0" stop-color="#4772f1"/><stop offset="0.07059" stop-color="#507ef3"/><stop offset="0.1412" stop-color="#76b0fa"/><stop offset="0.1882" stop-color="#aadefc"/><stop offset="0.2118" stop-color="#c9edf8"/><stop offset="0.2235" stop-color="#d8f3f4"/><stop offset="0.2471" stop-color="#f4fadd"/><stop offset="0.2824" stop-color="#ffeea8"/><stop offset="0.3176" stop-color="#fcd073"/><stop offset="0.3529" stop-color="#f6aa53"/><stop offset="0.4235" stop-color="#e37038"/><stop offset="0.4941" stop-color="#d85931"/><stop offset="0.5647" stop-color="#e06a36"/><stop offset="0.6" stop-color="#eb803c"/><stop offset="0.6471" stop-color="#f6aa53"/><stop offset="0.6824" stop-color="#fcd073"/><stop offset="0.7176" stop-color="#ffeea8"/><stop offset="0.7529" stop-color="#f4fadd"/><stop offset="0.7765" stop-color="#d8f3f4"/><stop offset="0.7882" stop-color="#c9edf8"/><stop offset="0.8118" stop-color="#aadefc"/><stop offset="0.8588" stop-color="#76b0fa"/><stop offset="0.9294" stop-color="#507ef3"/><stop offset="1" stop-color="#4772f1"/></linearGradient><linearGradient id="i134" gradientUnits="userSpaceOnUse" x1="554.5" x2="639.5"><stop offset="0" stop-color="#4873f1"/><stop offset="0.05882" stop-color="#4d7bf3"/><stop offset="0.1294" stop-color="#6fa7f9"/><stop offset="0.1647" stop-color="#91c8fb"/><stop offset="0.2118" stop-color="#cceef7"/><stop offset="0.2471" stop-color="#f5f9da"/><stop offset="0.2706" stop-color="#fef4b6"/><stop offset="0.3059" stop-color="#fdda7d"/><stop offset="0.3529" stop-color="#f5a651"/><stop offset="0.4235" stop-color="#e16c36"/><stop offset="0.4941" stop-color="#d65530"/><stop offset="0.5647" stop-color="#de6535"/><stop offset="0.6118" stop-color="#ec853f"/><stop offset="0.6471" stop-color="#f5a651"/><stop offset="0.6941" stop-color="#fdda7d"/><stop offset="0.7294" stop-color="#fef4b6"/><stop offset="0.7529" stop-color="#f5f9da"/><stop offset="0.7882" stop-color="#cceef7"/><stop offset="0.8353" stop-color="#91c8fb"/><stop offset="0.8706" stop-color="#6fa7f9"/><stop offset="0.9412" stop-color="#4d7bf3"/><stop offset="1" stop-color="#4873f1"/></linearGradient><linearGradient id="i135" gradientUnits="userSpaceOnUse" x1="554.5" x2="639.5"><stop offset="0" stop-color="#4772f1"/><stop offset="0.07059" stop-color="#507ef3"/><stop offset="0.1412" stop-color="#76affa"/><stop offset="0.1882" stop-color="#aadefc"/><stop offset="0.2118" stop-color="#c8ecf8"/><stop offset="0.2235" stop-color="#d8f3f5"/><stop offset="0.2471" stop-color="#f4fade"/><stop offset="0.2824" stop-color="#ffeea8"/><stop offset="0.3176" stop-color="#fcd174"/><stop offset="0.3529" stop-color="#f7ab53"/><stop offset="0.4235" stop-color="#e47138"/><stop offset="0.4941" stop-color="#d95a32"/><stop offset="0.5647" stop-color="#e16a36"/><stop offset="0.6" stop-color="#eb813d"/><stop offset="0.6471" stop-color="#f7ab53"/><stop offset="0.6824" stop-color="#fcd174"/><stop offset="0.7176" stop-color="#ffeea8"/><stop offset="0.7529" stop-color="#f4fade"/><stop offset="0.7765" stop-color="#d8f3f5"/><stop offset="0.7882" stop-color="#c8ecf8"/><stop offset="0.8118" stop-color="#aadefc"/><stop offset="0.8588" stop-color="#76affa"/><stop offset="0.9294" stop-color="#507ef3"/><stop offset="1" stop-color="#4772f1"/></linearGradient><linearGradient id="i136" gradientUnits="userSpaceOnUse" x1="554.5" x2="639.5"><stop offset="0" stop-color="#446df0"/><stop offset="0.07059" stop-color="#4c78f2"/><stop offset="0.1412" stop-color="#71a9f9"/><stop offset="0.2" stop-color="#b0e1fb"/><stop offset="0.2235" stop-color="#ceeff7"/><stop offset="0.2588" stop-color="#f5f9d8"/><stop offset="0.2824" stop-color="#fef4b6"/><stop offset="0.3176" stop-color="#fddb81"/><stop offset="0.3647" stop-color="#f7ac55"/><stop offset="0.4353" stop-color="#e8793a"/><stop offset="0.4941" stop-color="#e06936"/><stop offset="0.5647" stop-color="#e8793a"/><stop offset="0.6353" stop-color="#f7ac55"/><stop offset="0.6824" stop-color="#fddb81"/><stop offset="0.7176" stop-color="#fef4b6"/><stop offset="0.7412" stop-color="#f5f9d8"/><stop offset="0.7765" stop-color="#ceeff7"/><stop offset="0.8" stop-color="#b0e1fb"/><stop offset="0.8588" stop-color="#71a9f9"/><stop offset="0.9294" stop-color="#4c78f2"/><stop offset="1" stop-color="#446df0"/></linearGradient><linearGradient id="i137" gradientUnits="userSpaceOnUse" x1="554.5" x2="639.5"><stop offset="0" stop-color="#4067ef"/><stop offset="0.07059" stop-color="#4771f1"/><stop offset="0.1294" stop-color="#6195f6"/><stop offset="0.1647" stop-color="#7bb4fa"/><stop offset="0.2118" stop-color="#b0e1fb"/><stop offset="0.2353" stop-color="#cdeff7"/><stop offset="0.2706" stop-color="#f4f9db"/><stop offset="0.3059" stop-color="#ffefaa"/><stop offset="0.3412" stop-color="#fdd77b"/><stop offset="0.4" stop-color="#f5a551"/><stop offset="0.4706" stop-color="#ec843f"/><stop offset="0.5294" stop-color="#ec843f"/><stop offset="0.5765" stop-color="#f19748"/><stop offset="0.6353" stop-color="#fac167"/><stop offset="0.6588" stop-color="#fdd77b"/><stop offset="0.6941" stop-color="#ffefaa"/><stop offset="0.7294" stop-color="#f4f9db"/><stop offset="0.7647" stop-color="#cdeff7"/><stop offset="0.8235" stop-color="#87bffb"/><stop offset="0.8588" stop-color="#699ff8"/><stop offset="0.9294" stop-color="#4771f1"/><stop offset="1" stop-color="#4067ef"/></linearGradient><linearGradient id="i138" gradientUnits="userSpaceOnUse" x1="554.5" x2="639.5"><stop offset="0" stop-color="#3b5fed"/><stop offset="0.07059" stop-color="#4168ef"/><stop offset="0.1294" stop-color="#5889f5"/><stop offset="0.1765" stop-color="#78b1fa"/><stop offset="0.2235" stop-color="#aaddfc"/><stop offset="0.2471" stop-color="#c7ecf8"/><stop offset="0.2706" stop-color="#e1f6ed"/><stop offset="0.2941" stop-color="#f5f9d6"/><stop offset="0.3294" stop-color="#feefab"/><stop offset="0.3647" stop-color="#fddb82"/><stop offset="0.4118" stop-color="#f9bc62"/><stop offset="0.4706" stop-color="#f5a450"/><stop offset="0.5176" stop-color="#f4a24f"/><stop offset="0.5765" stop-color="#f8b55c"/><stop offset="0.6235" stop-color="#fcd377"/><stop offset="0.6824" stop-color="#fdf4ba"/><stop offset="0.7176" stop-color="#edf8e3"/><stop offset="0.7412" stop-color="#d4f2f5"/><stop offset="0.7647" stop-color="#b8e5fa"/><stop offset="0.8235" stop-color="#78b1fa"/><stop offset="0.8588" stop-color="#5f92f6"/><stop offset="0.9294" stop-color="#4168ef"/><stop offset="1" stop-color="#3b5fed"/></linearGradient><linearGradient id="i139" gradientUnits="userSpaceOnUse" x1="554.5" x2="639.5"><stop offset="0" stop-color="#3657eb"/><stop offset="0.05882" stop-color="#3a5cec"/><stop offset="0.1294" stop-color="#4e7bf3"/><stop offset="0.2" stop-color="#7cb5fa"/><stop offset="0.2471" stop-color="#addffb"/><stop offset="0.2706" stop-color="#c7ecf8"/><stop offset="0.3176" stop-color="#f2f9db"/><stop offset="0.3765" stop-color="#feeba1"/><stop offset="0.4118" stop-color="#fddc85"/><stop offset="0.4588" stop-color="#fbcc71"/><stop offset="0.5059" stop-color="#fbc76c"/><stop offset="0.5412" stop-color="#fbcc71"/><stop offset="0.5882" stop-color="#fddc85"/><stop offset="0.6471" stop-color="#fdf3b8"/><stop offset="0.6824" stop-color="#f2f9db"/><stop offset="0.7059" stop-color="#dff5ef"/><stop offset="0.7529" stop-color="#addffb"/><stop offset="0.8" stop-color="#7cb5fa"/><stop offset="0.8588" stop-color="#5484f4"/><stop offset="0.9294" stop-color="#3c5fed"/><stop offset="1" stop-color="#3657eb"/></linearGradient><linearGradient id="i140" gradientUnits="userSpaceOnUse" x1="554.5" x2="639.5"><stop offset="0" stop-color="#324fea"/><stop offset="0.07059" stop-color="#3757eb"/><stop offset="0.1529" stop-color="#507ef3"/><stop offset="0.2235" stop-color="#7db6fa"/><stop offset="0.2706" stop-color="#a9dcfb"/><stop offset="0.3059" stop-color="#cbeef7"/><stop offset="0.3412" stop-color="#e8f7e8"/><stop offset="0.3765" stop-color="#f8f8cf"/><stop offset="0.4235" stop-color="#fdf1b1"/><stop offset="0.4706" stop-color="#feea9f"/><stop offset="0.5059" stop-color="#fee89c"/><stop offset="0.5529" stop-color="#feeda6"/><stop offset="0.6235" stop-color="#f8f8cf"/><stop offset="0.6824" stop-color="#d5f2f4"/><stop offset="0.7294" stop-color="#a9dcfb"/><stop offset="0.7765" stop-color="#7db6fa"/><stop offset="0.8471" stop-color="#507ef3"/><stop offset="0.9294" stop-color="#3757eb"/><stop offset="1" stop-color="#324fea"/></linearGradient><linearGradient id="i141" gradientUnits="userSpaceOnUse" x1="554.5" x2="639.5"><stop offset="0" stop-color="#2e4ae8"/><stop offset="0.08235" stop-color="#3554eb"/><stop offset="0.1647" stop-color="#4b78f2"/><stop offset="0.2353" stop-color="#71aaf9"/><stop offset="0.2941" stop-color="#9fd4fc"/><stop offset="0.3412" stop-color="#c3eaf9"/><stop offset="0.4118" stop-color="#eaf7e5"/><stop offset="0.4941" stop-color="#f5f8d3"/><stop offset="0.5882" stop-color="#eaf7e5"/><stop offset="0.6588" stop-color="#c3eaf9"/><stop offset="0.7059" stop-color="#9fd4fc"/><stop offset="0.7647" stop-color="#71aaf9"/><stop offset="0.8353" stop-color="#4b78f2"/><stop offset="0.9176" stop-color="#3554eb"/><stop offset="1" stop-color="#2e4ae8"/></linearGradient><linearGradient id="i142" gradientUnits="userSpaceOnUse" x1="554.5" x2="639.5"><stop offset="0" stop-color="#2d48e8"/><stop offset="0.08235" stop-color="#3250ea"/><stop offset="0.1765" stop-color="#4873f1"/><stop offset="0.2706" stop-color="#73abf9"/><stop offset="0.3529" stop-color="#a4d8fb"/><stop offset="0.4235" stop-color="#c3eaf9"/><stop offset="0.4941" stop-color="#d0eff5"/><stop offset="0.5647" stop-color="#c7ecf8"/><stop offset="0.6353" stop-color="#aadcfb"/><stop offset="0.7294" stop-color="#73abf9"/><stop offset="0.8235" stop-color="#4873f1"/><stop offset="0.9176" stop-color="#3250ea"/><stop offset="1" stop-color="#2d48e8"/></linearGradient><linearGradient id="i143" gradientUnits="userSpaceOnUse" x1="554.5" x2="639.5"><stop offset="0" stop-color="#2f4be9"/><stop offset="0.08235" stop-color="#3351ea"/><stop offset="0.1765" stop-color="#436bf0"/><stop offset="0.3647" stop-color="#84bdfb"/><stop offset="0.4353" stop-color="#9ad0fb"/><stop offset="0.4941" stop-color="#a0d5fb"/><stop offset="0.5529" stop-color="#9cd2fb"/><stop offset="0.6235" stop-color="#89c1fb"/><stop offset="0.8235" stop-color="#436bf0"/><stop offset="0.9176" stop-color="#3351ea"/><stop offset="1" stop-color="#2f4be9"/></linearGradient><linearGradient id="i144" gradientUnits="userSpaceOnUse" x1="554.5" x2="639.5"><stop offset="0" stop-color="#3453ea"/><stop offset="0.1294" stop-color="#3b5eed"/><stop offset="0.3765" stop-color="#6ba1f8"/><stop offset="0.4941" stop-color="#77b0fa"/><stop offset="0.6118" stop-color="#6da4f8"/><stop offset="0.8706" stop-color="#3b5eed"/><stop offset="1" stop-color="#3453ea"/></linearGradient><linearGradient id="i145" gradientUnits="userSpaceOnUse" x1="554.5" x2="639.5"><stop offset="0" stop-color="#3d61ed"/><stop offset="0.1294" stop-color="#4066ef"/><stop offset="0.3765" stop-color="#5686f4"/><stop offset="0.4941" stop-color="#5b8df5"/><stop offset="0.6118" stop-color="#5787f4"/><stop offset="0.8706" stop-color="#4066ef"/><stop offset="1" stop-color="#3d61ed"/></linearGradient><linearGradient id="i146" gradientUnits="userSpaceOnUse" x1="554.5" x2="639.5"><stop offset="0" stop-color="#4a75f2"/><stop offset="1" stop-color="#4a75f2"/></linearGradient><linearGradient id="i147" gradientUnits="userSpaceOnUse" x1="554.5" x2="639.5"><stop offset="0" stop-color="#5f92f6"/><stop offset="0.1059" stop-color="#5c8df5"/><stop offset="0.3647" stop-color="#4067ef"/><stop offset="0.4941" stop-color="#3b5eed"/><stop offset="0.6118" stop-color="#3f64ee"/><stop offset="0.8706" stop-color="#5a8bf5"/><stop offset="1" stop-color="#5f92f6"/></linearGradient><linearGradient id="i148" gradientUnits="userSpaceOnUse" x1="554.5" x2="639.5"><stop offset="0" stop-color="#7db6fa"/><stop offset="0.1176" stop-color="#72aaf9"/><stop offset="0.3529" stop-color="#3f64ee"/><stop offset="0.4941" stop-color="#3351ea"/><stop offset="0.6353" stop-color="#3d62ee"/><stop offset="0.8941" stop-color="#75adf9"/><stop offset="1" stop-color="#7db6fa"/></linearGradient><linearGradient id="i149" gradientUnits="userSpaceOnUse" x1="554.5" x2="639.5"><stop offset="0" stop-color="#a8dafb"/><stop offset="0.05882" stop-color="#a4d8fb"/><stop offset="0.1176" stop-color="#96ccfb"/><stop offset="0.1882" stop-color="#79b2fa"/><stop offset="0.3176" stop-color="#4873f1"/><stop offset="0.4118" stop-color="#3555eb"/><stop offset="0.4941" stop-color="#2e4ae8"/><stop offset="0.5882" stop-color="#3555eb"/><stop offset="0.6824" stop-color="#4873f1"/><stop offset="0.8118" stop-color="#79b2fa"/><stop offset="0.8824" stop-color="#96ccfb"/><stop offset="0.9412" stop-color="#a4d8fb"/><stop offset="1" stop-color="#a8dafb"/></linearGradient><linearGradient id="i150" gradientUnits="userSpaceOnUse" x1="554.5" x2="639.5"><stop offset="0" stop-color="#d7f2f2"/><stop offset="0.07059" stop-color="#d0f0f5"/><stop offset="0.1529" stop-color="#aedffb"/><stop offset="0.2471" stop-color="#74acf9"/><stop offset="0.3294" stop-color="#4c78f2"/><stop offset="0.4118" stop-color="#3656eb"/><stop offset="0.4941" stop-color="#2d48e8"/><stop offset="0.5765" stop-color="#3453ea"/><stop offset="0.6706" stop-color="#4c78f2"/><stop offset="0.7529" stop-color="#74acf9"/><stop offset="0.8471" stop-color="#aedffb"/><stop offset="0.9294" stop-color="#d0f0f5"/><stop offset="1" stop-color="#d7f2f2"/></linearGradient></defs>
<clipPath id="ci"><path d="M597 278.6L555.6 302.5L555.6 350.3L597 374.2L638.4 350.3L638.4 302.5Z"/></clipPath>
<g clip-path="url(#ci)"><rect x="554" y="277" width="86" height="3.6" fill="url(#i118)"/><rect x="554" y="280" width="86" height="3.6" fill="url(#i119)"/><rect x="554" y="283" width="86" height="3.6" fill="url(#i120)"/><rect x="554" y="286" width="86" height="3.6" fill="url(#i121)"/><rect x="554" y="289" width="86" height="3.6" fill="url(#i122)"/><rect x="554" y="292" width="86" height="3.6" fill="url(#i123)"/><rect x="554" y="295" width="86" height="3.6" fill="url(#i124)"/><rect x="554" y="298" width="86" height="3.6" fill="url(#i125)"/><rect x="554" y="301" width="86" height="3.6" fill="url(#i126)"/><rect x="554" y="304" width="86" height="3.6" fill="url(#i127)"/><rect x="554" y="307" width="86" height="3.6" fill="url(#i128)"/><rect x="554" y="310" width="86" height="3.6" fill="url(#i129)"/><rect x="554" y="313" width="86" height="3.6" fill="url(#i130)"/><rect x="554" y="316" width="86" height="3.6" fill="url(#i131)"/><rect x="554" y="319" width="86" height="3.6" fill="url(#i132)"/><rect x="554" y="322" width="86" height="3.6" fill="url(#i133)"/><rect x="554" y="325" width="86" height="3.6" fill="url(#i134)"/><rect x="554" y="328" width="86" height="3.6" fill="url(#i135)"/><rect x="554" y="331" width="86" height="3.6" fill="url(#i136)"/><rect x="554" y="334" width="86" height="3.6" fill="url(#i137)"/><rect x="554" y="337" width="86" height="3.6" fill="url(#i138)"/><rect x="554" y="340" width="86" height="3.6" fill="url(#i139)"/><rect x="554" y="343" width="86" height="3.6" fill="url(#i140)"/><rect x="554" y="346" width="86" height="3.6" fill="url(#i141)"/><rect x="554" y="349" width="86" height="3.6" fill="url(#i142)"/><rect x="554" y="352" width="86" height="3.6" fill="url(#i143)"/><rect x="554" y="355" width="86" height="3.6" fill="url(#i144)"/><rect x="554" y="358" width="86" height="3.6" fill="url(#i145)"/><rect x="554" y="361" width="86" height="3.6" fill="url(#i146)"/><rect x="554" y="364" width="86" height="3.6" fill="url(#i147)"/><rect x="554" y="367" width="86" height="3.6" fill="url(#i148)"/><rect x="554" y="370" width="86" height="3.6" fill="url(#i149)"/><rect x="554" y="373" width="86" height="3" fill="url(#i150)"/>
<path d="M587.2 277L586 280L585.4 282.5L585.4 284L586.1 285.5L587.5 286.6L590 287.4L593 287.8L597 288L601 287.8L604 287.4L606.5 286.6L607.9 285.5L608.6 284L608.6 282.5L608 280L606.8 277M554 315L555.5 315.5L557 315.1L558.5 314.2L560.5 312L563 308.4L565.4 304L566.8 300.5L567.3 298L567.1 296.5L566.5 295.6L565.9 295L564.5 294.3L562.5 293.7L560 293.3L554 293.2M640 293.2L634 293.3L631.5 293.7L629.5 294.3L628.1 295L627.5 295.6L626.9 296.5L626.7 298L627.2 300.5L628.6 304L631 308.4L633.5 312L635.5 314.2L637 315.1L638.5 315.5L640 315M554 359.6L560 359.5L562.5 359.1L564.5 358.5L565.6 358L566.7 357L567.1 356L567.3 355L566.9 352.5L565.5 349L563 344.4L560.5 340.8L558.5 338.6L557 337.7L555.5 337.3L554 337.8M640 337.8L638.5 337.3L637 337.7L635.5 338.6L633.5 340.8L631 344.4L628.5 349L627.1 352.5L626.7 355L626.9 356L627.3 357L628.4 358L629.5 358.5L631.5 359.1L634 359.5L640 359.6M606.7 376L607.9 373L608.6 370.5L608.5 368.5L608 367.4L607.5 366.9L606.5 366.2L604.4 365.5L601.1 365L597 364.8L592.9 365L589.6 365.5L587.5 366.2L586.5 366.9L586 367.4L585.5 368.5L585.4 370.5L586.1 373L587.3 376M582.8 277L580 281.1L577.5 284.2L575.5 286.1L573 287.5L570 288.5L566 289.1L560.5 289.4L554 289.5M640 289.5L633.5 289.4L628 289.1L624 288.5L621 287.5L618.5 286.1L616.5 284.2L614 281.1L611.2 277M604 361L594 361.1L586 360.7L583 360.3L581 359.8L579 359L577.5 358.1L576 356.8L574 354.7L572 352L569.7 348.5L564.2 339L562.2 335L560.8 331.5L559.9 328L559.8 326.5L559.9 324.5L560.4 322.5L561.1 320.5L563.6 315L568.7 306L571.2 302L573.5 298.8L575.5 296.5L577 295.1L578.5 294.1L580.5 293.2L584 292.4L588 291.9L594 291.7L601 291.7L606 291.9L610 292.4L613 293L615.5 294.1L617 295.1L619 297L621 299.4L623.5 303.1L626.8 308.5L629.9 314L631.9 318L633.3 321.5L634.1 324.5L634.2 327L633.8 329.5L632.9 332.5L630.8 337L627.8 342.5L624.3 348.5L621 353.4L619 355.8L617.5 357.3L616 358.4L614.5 359.2L612.5 359.9L610.5 360.4L607.5 360.8ZM554 363.3L561 363.4L566.5 363.8L570 364.3L573 365.3L575.5 366.7L577.5 368.6L580 371.7L582.9 376M611.1 376L614 371.7L616.5 368.6L618.5 366.7L621 365.3L624 364.3L627.5 363.8L633 363.4L640 363.3M579 277L576.8 279.5L574.5 281.6L572 283.2L569 284.6L566 285.6L562.5 286.2L558.5 286.6L554 286.6M640 286.6L635.5 286.6L631.5 286.2L628 285.6L625 284.6L622 283.2L619.5 281.6L617.2 279.5L615 277M603 358L599.5 358.3L596 358.3L592.5 358.2L589 357.7L586 357.1L583.5 356.3L581.5 355.4L579.5 354.3L577.5 352.8L575.5 350.9L573.5 348.5L571.3 345.5L569.1 342L567.3 338.5L565.8 335L565 332.5L564.4 330L564.1 327.5L564.1 325L564.5 322.5L565.1 320L566.1 317L567.4 314L569 311L571 307.7L573 304.9L575 302.5L577 300.5L579 298.9L581 297.6L583 296.7L585.5 295.8L588.5 295.1L592.5 294.6L596.5 294.5L601 294.6L605 295.1L608 295.7L611 296.7L613.5 297.9L616 299.6L618 301.4L620 303.6L622.2 306.5L624.4 310L626.3 313.5L627.9 317L629.1 320.5L629.7 323.5L629.9 326.5L629.8 329L629.2 332L628.2 335L626.5 339L624.3 343L622 346.5L620 349.2L618 351.4L616 353.2L614 354.6L611.5 355.9L609 356.8L606 357.6ZM554 366.2L558.5 366.2L562.5 366.6L566 367.2L569.5 368.3L572 369.6L574.5 371.2L577 373.5L579.1 376M614.9 376L617 373.5L619.5 371.2L622 369.6L624.5 368.3L628 367.2L631.5 366.6L635.5 366.2L640 366.2M575.4 277L573.5 278.7L571.5 280.2L569 281.5L566.5 282.6L563.5 283.4L560.5 283.9L557.5 284.2L554 284.2M640 284.2L636.5 284.2L633.5 283.9L630.5 283.4L627.5 282.6L625 281.5L622.5 280.2L620.5 278.7L618.6 277M602.5 355.5L599.5 355.8L596 355.9L593 355.7L590 355.3L587.5 354.7L585 353.9L582.5 352.7L580.5 351.5L578.5 349.9L576.5 348L574.5 345.7L572.6 343L571.1 340.5L569.6 337.5L568.4 334.5L567.7 332L567.2 329.5L567 327L567.1 324.5L567.4 322L568.2 319L569.1 316.5L570.2 314L571.8 311L573.5 308.5L575.5 305.9L577.5 303.8L579.5 302.1L581.5 300.7L583.5 299.6L586 298.6L588.5 297.8L591.5 297.3L595 296.9L598.5 296.9L601.5 297.1L604.5 297.6L607.5 298.4L610 299.4L612.5 300.7L615 302.5L617 304.3L619 306.5L620.9 309L622.8 312L624.3 315L625.5 318L626.4 321L626.9 324L627 326.5L626.9 329L626.3 332L625.4 335L624.2 338L622.6 341L620.7 344L619 346.3L617 348.5L615 350.3L613 351.8L610.5 353.2L608 354.2L605.5 355ZM554 368.6L557.5 368.6L560.5 368.9L563.5 369.4L566.5 370.2L569 371.3L571.5 372.6L573.5 374.1L575.6 376M618.4 376L620.5 374.1L622.5 372.6L625 371.3L627.5 370.2L630.5 369.4L633.5 368.9L636.5 368.6L640 368.6M567.8 277L565 278.3L561.5 279.3L558 279.8L554 279.9M640 279.9L636 279.8L632.5 279.3L629 278.3L626.2 277M599.5 351.5L597 351.6L594.5 351.5L592 351.2L589.5 350.6L587.5 349.9L585.4 349L583.5 347.9L581.5 346.5L579.5 344.7L577.9 343L576.4 341L574.9 338.5L573.9 336.5L572.9 334L572.2 331.5L571.7 329L571.6 327L571.7 324.5L572 322L572.6 319.5L573.6 317L574.7 314.5L576 312.4L577.5 310.3L579.1 308.5L581 306.7L583 305.2L585 304L587 303.1L589.5 302.2L594 301.3L596.5 301.2L599 301.2L601.5 301.5L604 302.1L606.5 302.9L608.5 303.7L610.5 304.9L612.5 306.3L614.5 308.1L616.2 310L617.7 312L619.3 314.5L620.2 316.5L621.2 319L621.9 321.5L622.3 324L622.4 326.5L622.3 329L621.8 331.5L621.1 334L620.1 336.5L619 338.8L617.6 341L616.1 343L614.5 344.7L612.5 346.5L610.5 347.9L608.6 349L606.5 349.9L604.5 350.6L602 351.2ZM554 372.9L558 373L561.5 373.5L565 374.5L568.1 376M625.9 376L629 374.5L632.5 373.5L636 373L640 372.9M562.4 277L558.5 277.8L554 277.9M640 277.9L635.5 277.8L631.6 277M599.5 349.5L595 349.6L592.5 349.2L590.5 348.8L588.5 348.1L586.5 347.3L584.5 346.1L582.5 344.7L581 343.3L579.3 341.5L577.8 339.5L576.6 337.5L574.8 333.5L574.3 331.5L573.8 329L573.7 327L573.7 324.5L574.1 322L574.6 320L575.5 317.5L576.5 315.5L577.7 313.5L579 311.7L580.5 310L582 308.5L583.5 307.4L585.5 306.1L587.5 305.1L589.5 304.3L591.5 303.8L594 303.3L596.5 303.2L599 303.2L601.5 303.6L603.5 304L605.5 304.7L607.5 305.5L609.5 306.7L611.3 308L613 309.5L614.5 311.1L616 313L617.3 315L618.3 317L619.2 319.5L619.8 321.5L620.2 324L620.3 326L620.2 328.5L619.9 331L619.3 333L618.6 335L617.5 337.4L616.2 339.5L615 341.1L613.5 342.8L611.7 344.5L610 345.8L608 347L606 347.9L604 348.6L602 349.1ZM554 374.9L558.5 375L561 375.4L563 376M631 376L633 375.4L635.5 375L640 374.9M599.5 347.6L597.5 347.7L595 347.6L591 346.9L587.4 345.5L585.7 344.5L584 343.3L582.5 342L581 340.5L579.8 339L578.5 337L577.5 335L576.7 333L576.2 331L575.8 329L575.7 325L576.4 321L577 319L577.9 317L580 313.5L582.8 310.5L584.5 309.1L586.2 308L588 307L590 306.2L594 305.3L596 305.1L598.5 305.2L602.5 305.8L604.5 306.4L606.5 307.3L608.5 308.4L610 309.5L611.8 311L613.2 312.5L614.5 314.3L615.6 316L616.6 318L617.3 320L617.9 322L618.2 324L618.4 326L618.2 328.5L617.4 332.5L616.7 334.5L615.7 336.5L613.5 339.9L612.1 341.5L610.5 342.9L607.5 345L605.5 346L603.5 346.7ZM600 345.5L598 345.7L596 345.7L592.5 345.2L588.9 344L587 343L585.5 342L582.8 339.5L580.5 336.5L578.8 333L577.9 329.5L577.7 327.5L577.6 325.5L578.1 322L579.3 318.5L580.4 316.5L581.4 315L584 312L587 309.8L590.5 308.2L594 307.3L596 307.1L598 307.1L601.5 307.6L605 308.8L607 309.8L608.5 310.8L610 312L611.4 313.5L613.6 316.5L615.3 320L616.2 323.5L616.4 325.5L616.3 327.5L615.8 331L614.6 334.5L613.5 336.5L612.5 338L610 340.8L607 343L603.5 344.6ZM599.5 343.6L596 343.7L593 343.3L590 342.3L586.9 340.5L584.5 338.4L582.2 335.5L580.8 332.5L579.8 329L579.7 325.5L580.2 322L581.3 319L583.1 316L585.4 313.5L588.1 311.5L591 310.1L594.5 309.2L598 309.1L601.5 309.6L604.5 310.7L607.4 312.5L610 314.9L611.9 317.5L613.3 320.5L614.2 324L614.3 327.5L613.7 331L612.6 334L610.7 337L608.4 339.5L605.6 341.5L602.5 342.9ZM599 341.5L596 341.6L593 341.1L590 340L587.7 338.5L585.5 336.4L583.8 334L582.6 331.5L581.9 328.5L581.8 325.5L582.2 322.5L583.4 319.5L585 317L587 314.9L589.5 313.1L592 312L595 311.3L598 311.2L601 311.7L604 312.8L606.5 314.4L608.6 316.5L610.4 319L611.5 321.5L612.2 324.5L612.2 327.5L611.7 330.5L610.5 333.5L609 335.8L606.9 338L604.5 339.7L602 340.8ZM600 339.1L597.5 339.4L595 339.3L592.5 338.6L590.2 337.5L588.2 336L586.4 334L585.2 332L584.4 329.5L584 327L584.1 324.5L584.7 322L586 319.5L587.5 317.5L589.5 315.8L591.5 314.6L594 313.7L596.5 313.4L599 313.5L601.5 314.2L604 315.4L606 317L607.7 319L608.8 321L609.7 323.5L610 326L609.9 328.5L609.2 331L608 333.4L606.5 335.3L604.5 337L602.5 338.2ZM599.5 336.6L597.5 336.9L595.5 336.8L593.5 336.3L591.5 335.3L589.8 334L588.5 332.5L587.5 330.8L586.8 329L586.5 327L586.6 325L587.1 323L588 321L589.1 319.5L590.7 318L592.5 316.9L594.5 316.2L596.5 315.9L598.5 316L600.5 316.5L602.5 317.5L604 318.6L605.5 320.3L606.5 322L607.2 324L607.5 326L607.4 328L606.8 330L605.9 332L604.5 333.7L603 335L601.2 336Z" fill="none" stroke="#1a1a1a" stroke-width="0.6" stroke-opacity="0.9"/>
<path d="M571.8 277L570 278.2L568 279.3L564 280.9L561.5 281.5L559 281.8L554 282M640 282L635 281.8L632.5 281.5L630 280.9L626 279.3L624 278.2L622.2 277M600.5 353.5L598 353.7L595 353.6L592 353.3L589.5 352.8L587 352.1L585 351.2L582.7 350L580.5 348.5L578.5 346.7L576.9 345L575 342.6L573.5 340.3L572 337.5L571 335L570.2 332.5L569.7 330L569.4 327.5L569.4 325L569.7 322.5L570.3 320L571.1 317.5L572.2 315L573.5 312.5L575.1 310L576.7 308L578.6 306L580.5 304.3L582.5 302.9L584.5 301.8L587 300.7L589.5 300L592 299.5L595 299.2L598 299.1L601 299.3L603.5 299.8L606 300.4L608.5 301.3L611 302.6L613 303.9L615 305.6L617 307.7L618.9 310L620.5 312.5L621.8 315L622.9 317.5L623.8 320.5L624.3 323L624.6 325.5L624.5 328L624.2 330.5L623.5 333.5L622.6 336L621.2 339L619.8 341.5L618 343.9L616.2 346L614.5 347.6L612.5 349.2L610.4 350.5L608.4 351.5L606 352.4L603.5 353ZM554 370.8L559 371L561.5 371.3L564 371.9L566.5 372.8L568.5 373.7L572.1 376M621.9 376L625.5 373.7L627.5 372.8L630 371.9L632.5 371.3L635 371L640 370.8" fill="none" stroke="#f21a1a" stroke-width="1.1"/>
</g>
<path d="M597 278.6L555.6 302.5L555.6 350.3L597 374.2L638.4 350.3L638.4 302.5Z" fill="none" stroke="#000" stroke-width="1.1" stroke-linejoin="miter"/>
<rect x="654.3" y="204.1" width="6.3" height="43.6" fill="url(#cb)"/>
<rect x="654.3" y="305.2" width="6.3" height="43.5" fill="url(#cb)"/>
<text x="657.3" y="200.5" font-family="Liberation Serif,serif" font-size="14" text-anchor="middle">3</text>
<text x="657.3" y="262" font-family="Liberation Serif,serif" font-size="14" text-anchor="middle">0</text>
<text x="657.3" y="301.5" font-family="Liberation Serif,serif" font-size="14" text-anchor="middle">3</text>
<text x="657.5" y="362.5" font-family="Liberation Serif,serif" font-size="14.5" text-anchor="middle"><tspan fill="#888">−</tspan>1.5</text>
<text transform="translate(668.5,225.5) rotate(90) scale(1.12,1)" font-family="Liberation Serif,serif" font-size="19" font-style="italic" fill="#222" text-anchor="middle">δ<tspan font-size="12.5" dy="3.5" font-weight="bold">k</tspan><tspan dy="-3.5">/t</tspan></text>
<text transform="translate(668.5,332) rotate(90) scale(1.14,1)" font-family="Liberation Serif,serif" font-size="19" font-style="italic" fill="#222" text-anchor="middle">ϵ<tspan font-size="12.5" dy="3.5" font-weight="bold">k</tspan><tspan dy="-3.5">/t′</tspan></text>
<!-- pf -->
<defs><linearGradient id="f1" gradientUnits="userSpaceOnUse" x1="92.5" x2="100.5"><stop offset="0" stop-color="#ff4400"/><stop offset="0.125" stop-color="#ff2b00"/><stop offset="0.25" stop-color="#ff1b15"/><stop offset="0.375" stop-color="#ff0040"/><stop offset="0.5" stop-color="#f700f7"/><stop offset="0.625" stop-color="#2a16ff"/><stop offset="0.75" stop-color="#003eff"/><stop offset="0.875" stop-color="#0067ff"/><stop offset="1" stop-color="#0081ff"/></linearGradient><linearGradient id="f2" gradientUnits="userSpaceOnUse" x1="90.5" x2="102.5"><stop offset="0" stop-color="#ffb500"/><stop offset="0.1667" stop-color="#ffb800"/><stop offset="0.25" stop-color="#ffc200"/><stop offset="0.3333" stop-color="#fbd400"/><stop offset="0.4167" stop-color="#d8e700"/><stop offset="0.5" stop-color="#3eff00"/><stop offset="0.5833" stop-color="#00ff9e"/><stop offset="0.6667" stop-color="#00f5d7"/><stop offset="0.75" stop-color="#00eeeb"/><stop offset="0.8333" stop-color="#00ecf5"/><stop offset="1" stop-color="#00eefd"/></linearGradient><linearGradient id="f3" gradientUnits="userSpaceOnUse" x1="87.5" x2="105.5"><stop offset="0" stop-color="#fff300"/><stop offset="0.1667" stop-color="#f7f600"/><stop offset="0.2778" stop-color="#e5ff00"/><stop offset="0.3333" stop-color="#ccff00"/><stop offset="0.3889" stop-color="#a5ff00"/><stop offset="0.4444" stop-color="#6dff00"/><stop offset="0.5" stop-color="#25ff00"/><stop offset="0.5556" stop-color="#00ff25"/><stop offset="0.6111" stop-color="#00ff62"/><stop offset="0.6667" stop-color="#00ff8c"/><stop offset="0.7222" stop-color="#00ffa9"/><stop offset="0.8333" stop-color="#00ffc8"/><stop offset="1" stop-color="#00ffd9"/></linearGradient><linearGradient id="f4" gradientUnits="userSpaceOnUse" x1="83.5" x2="109.5"><stop offset="0" stop-color="#dfff00"/><stop offset="0.1154" stop-color="#e0ff00"/><stop offset="0.1923" stop-color="#d9ff00"/><stop offset="0.2692" stop-color="#c7ff00"/><stop offset="0.3077" stop-color="#b9ff00"/><stop offset="0.3846" stop-color="#8eff00"/><stop offset="0.4231" stop-color="#6fff00"/><stop offset="0.5" stop-color="#20ff00"/><stop offset="0.5385" stop-color="#00ff0a"/><stop offset="0.6154" stop-color="#00ff52"/><stop offset="0.6538" stop-color="#00ff6d"/><stop offset="0.7308" stop-color="#00ff92"/><stop offset="0.8462" stop-color="#00ffaf"/><stop offset="1" stop-color="#00ffbd"/></linearGradient><linearGradient id="f5" gradientUnits="userSpaceOnUse" x1="80.5" x2="112.5"><stop offset="0" stop-color="#bbff00"/><stop offset="0.09375" stop-color="#c0ff00"/><stop offset="0.1875" stop-color="#bcff00"/><stop offset="0.25" stop-color="#b1ff00"/><stop offset="0.3125" stop-color="#9eff00"/><stop offset="0.4062" stop-color="#6bff00"/><stop offset="0.5312" stop-color="#02ff00"/><stop offset="0.625" stop-color="#00ff48"/><stop offset="0.7188" stop-color="#00ff79"/><stop offset="0.8438" stop-color="#00ff9a"/><stop offset="1" stop-color="#00ffac"/></linearGradient><linearGradient id="f6" gradientUnits="userSpaceOnUse" x1="77.5" x2="116.5"><stop offset="0" stop-color="#9bff00"/><stop offset="0.1538" stop-color="#a5ff00"/><stop offset="0.2308" stop-color="#9eff00"/><stop offset="0.2821" stop-color="#93ff00"/><stop offset="0.3333" stop-color="#81ff00"/><stop offset="0.3846" stop-color="#66ff00"/><stop offset="0.4359" stop-color="#44ff00"/><stop offset="0.5128" stop-color="#08ff00"/><stop offset="0.5385" stop-color="#00ff0c"/><stop offset="0.641" stop-color="#00ff4f"/><stop offset="0.7179" stop-color="#00ff71"/><stop offset="0.8205" stop-color="#00ff8c"/><stop offset="1" stop-color="#00ffaa"/></linearGradient><linearGradient id="f7" gradientUnits="userSpaceOnUse" x1="73.5" x2="119.5"><stop offset="0" stop-color="#78ff00"/><stop offset="0.1522" stop-color="#8eff00"/><stop offset="0.2174" stop-color="#8eff00"/><stop offset="0.2826" stop-color="#87ff00"/><stop offset="0.3478" stop-color="#74ff00"/><stop offset="0.3913" stop-color="#61ff00"/><stop offset="0.5435" stop-color="#00ff03"/><stop offset="0.6304" stop-color="#00ff3a"/><stop offset="0.7174" stop-color="#00ff62"/><stop offset="1" stop-color="#00ffb4"/></linearGradient><linearGradient id="f8" gradientUnits="userSpaceOnUse" x1="70.5" x2="123.5"><stop offset="0" stop-color="#5aff00"/><stop offset="0.1509" stop-color="#78ff00"/><stop offset="0.2264" stop-color="#7cff00"/><stop offset="0.283" stop-color="#77ff00"/><stop offset="0.3396" stop-color="#6aff00"/><stop offset="0.3962" stop-color="#53ff00"/><stop offset="0.5283" stop-color="#04ff00"/><stop offset="0.5472" stop-color="#00ff08"/><stop offset="0.6604" stop-color="#00ff46"/><stop offset="0.9057" stop-color="#00ffa6"/><stop offset="1" stop-color="#00ffdd"/></linearGradient><linearGradient id="f9" gradientUnits="userSpaceOnUse" x1="66.5" x2="126.5"><stop offset="0" stop-color="#37ff00"/><stop offset="0.08333" stop-color="#52ff00"/><stop offset="0.1667" stop-color="#64ff00"/><stop offset="0.2333" stop-color="#6bff00"/><stop offset="0.3" stop-color="#69ff00"/><stop offset="0.3667" stop-color="#5cff00"/><stop offset="0.4167" stop-color="#4aff00"/><stop offset="0.55" stop-color="#01ff01"/><stop offset="0.65" stop-color="#00ff34"/><stop offset="0.8333" stop-color="#00ff88"/><stop offset="0.9" stop-color="#00ffb5"/><stop offset="0.9667" stop-color="#00fff4"/><stop offset="0.9833" stop-color="#00f6ff"/><stop offset="1" stop-color="#00e2ff"/></linearGradient><linearGradient id="f10" gradientUnits="userSpaceOnUse" x1="63.5" x2="130.5"><stop offset="0" stop-color="#1aff00"/><stop offset="0.08955" stop-color="#3cff00"/><stop offset="0.1642" stop-color="#51ff00"/><stop offset="0.2388" stop-color="#5dff00"/><stop offset="0.2985" stop-color="#5eff00"/><stop offset="0.3582" stop-color="#55ff00"/><stop offset="0.403" stop-color="#48ff00"/><stop offset="0.5522" stop-color="#02ff01"/><stop offset="0.7313" stop-color="#00ff55"/><stop offset="0.791" stop-color="#00ff78"/><stop offset="0.8507" stop-color="#00ffab"/><stop offset="0.8806" stop-color="#00ffce"/><stop offset="0.9104" stop-color="#00fff9"/><stop offset="0.9254" stop-color="#00edff"/><stop offset="0.9403" stop-color="#00d3ff"/><stop offset="1" stop-color="#005eff"/></linearGradient><linearGradient id="f11" gradientUnits="userSpaceOnUse" x1="59.5" x2="133.5"><stop offset="0" stop-color="#00ff0a"/><stop offset="0.02703" stop-color="#04ff00"/><stop offset="0.1081" stop-color="#28ff00"/><stop offset="0.1892" stop-color="#42ff00"/><stop offset="0.2568" stop-color="#4fff00"/><stop offset="0.3108" stop-color="#53ff00"/><stop offset="0.3649" stop-color="#4fff00"/><stop offset="0.4189" stop-color="#42ff00"/><stop offset="0.5811" stop-color="#00ff03"/><stop offset="0.7027" stop-color="#00ff3a"/><stop offset="0.7703" stop-color="#00ff64"/><stop offset="0.8243" stop-color="#00ff9b"/><stop offset="0.8514" stop-color="#00ffc3"/><stop offset="0.8784" stop-color="#00fff6"/><stop offset="0.8919" stop-color="#00eaff"/><stop offset="0.9054" stop-color="#00caff"/><stop offset="0.973" stop-color="#001aff"/><stop offset="0.9865" stop-color="#0901ff"/><stop offset="1" stop-color="#2800ff"/></linearGradient><linearGradient id="f12" gradientUnits="userSpaceOnUse" x1="56.5" x2="136.5"><stop offset="0" stop-color="#00ff26"/><stop offset="0.075" stop-color="#03ff00"/><stop offset="0.15" stop-color="#24ff00"/><stop offset="0.2125" stop-color="#38ff00"/><stop offset="0.275" stop-color="#45ff00"/><stop offset="0.3375" stop-color="#49ff00"/><stop offset="0.4375" stop-color="#3bff00"/><stop offset="0.6" stop-color="#02ff02"/><stop offset="0.7" stop-color="#00ff2b"/><stop offset="0.7625" stop-color="#00ff56"/><stop offset="0.7875" stop-color="#00ff70"/><stop offset="0.8125" stop-color="#00ff94"/><stop offset="0.8375" stop-color="#00ffc7"/><stop offset="0.85" stop-color="#00ffe7"/><stop offset="0.8625" stop-color="#00f2ff"/><stop offset="0.925" stop-color="#0018ff"/><stop offset="0.9375" stop-color="#0e00ff"/><stop offset="0.9625" stop-color="#5200ff"/><stop offset="1" stop-color="#a400ff"/></linearGradient><linearGradient id="f13" gradientUnits="userSpaceOnUse" x1="52.5" x2="140.5"><stop offset="0" stop-color="#00ff4b"/><stop offset="0.06818" stop-color="#00ff1e"/><stop offset="0.125" stop-color="#02ff00"/><stop offset="0.1932" stop-color="#20ff00"/><stop offset="0.25" stop-color="#32ff00"/><stop offset="0.3068" stop-color="#3eff00"/><stop offset="0.3636" stop-color="#42ff00"/><stop offset="0.4545" stop-color="#37ff00"/><stop offset="0.6364" stop-color="#02ff03"/><stop offset="0.7045" stop-color="#00ff1f"/><stop offset="0.7386" stop-color="#00ff36"/><stop offset="0.7614" stop-color="#00ff4c"/><stop offset="0.7841" stop-color="#00ff6d"/><stop offset="0.7955" stop-color="#00ff84"/><stop offset="0.8068" stop-color="#00ffa0"/><stop offset="0.8182" stop-color="#00ffc4"/><stop offset="0.8295" stop-color="#00fff2"/><stop offset="0.8409" stop-color="#00d5ff"/><stop offset="0.875" stop-color="#0018ff"/><stop offset="0.8864" stop-color="#1b00ff"/><stop offset="0.8977" stop-color="#4500ff"/><stop offset="0.9091" stop-color="#6800ff"/><stop offset="0.9318" stop-color="#a000ff"/><stop offset="0.9545" stop-color="#cb00ff"/><stop offset="0.9773" stop-color="#ee00ff"/><stop offset="0.9886" stop-color="#fb00fc"/><stop offset="1" stop-color="#ff00f3"/></linearGradient><linearGradient id="f14" gradientUnits="userSpaceOnUse" x1="49.5" x2="143.5"><stop offset="0" stop-color="#00ff67"/><stop offset="0.07447" stop-color="#00ff30"/><stop offset="0.1596" stop-color="#01ff00"/><stop offset="0.2766" stop-color="#2eff00"/><stop offset="0.383" stop-color="#3dff00"/><stop offset="0.4894" stop-color="#32ff00"/><stop offset="0.6702" stop-color="#06ff00"/><stop offset="0.7128" stop-color="#00ff0a"/><stop offset="0.734" stop-color="#00ff17"/><stop offset="0.7553" stop-color="#00ff28"/><stop offset="0.7766" stop-color="#00ff45"/><stop offset="0.7872" stop-color="#00ff5a"/><stop offset="0.7979" stop-color="#00ff7a"/><stop offset="0.8085" stop-color="#00ffa9"/><stop offset="0.8191" stop-color="#00f8ed"/><stop offset="0.8298" stop-color="#0097ff"/><stop offset="0.8404" stop-color="#001bff"/><stop offset="0.8511" stop-color="#3c00ff"/><stop offset="0.8617" stop-color="#7300ff"/><stop offset="0.8723" stop-color="#9900ff"/><stop offset="0.883" stop-color="#b400ff"/><stop offset="0.9043" stop-color="#db00ff"/><stop offset="0.9149" stop-color="#eb00ff"/><stop offset="0.9362" stop-color="#fd00f6"/><stop offset="0.9681" stop-color="#ff00da"/><stop offset="1" stop-color="#ff00c4"/></linearGradient><linearGradient id="f15" gradientUnits="userSpaceOnUse" x1="45.5" x2="147.5"><stop offset="0" stop-color="#00ff8d"/><stop offset="0.08824" stop-color="#00ff41"/><stop offset="0.1961" stop-color="#01ff01"/><stop offset="0.3039" stop-color="#2aff00"/><stop offset="0.4118" stop-color="#3aff00"/><stop offset="0.5" stop-color="#35ff00"/><stop offset="0.7451" stop-color="#12ff01"/><stop offset="0.7745" stop-color="#16ff0f"/><stop offset="0.7843" stop-color="#1dff1a"/><stop offset="0.7941" stop-color="#30ff34"/><stop offset="0.8039" stop-color="#80c180"/><stop offset="0.8137" stop-color="#bc00c2"/><stop offset="0.8235" stop-color="#e000de"/><stop offset="0.8333" stop-color="#ee00e5"/><stop offset="0.8529" stop-color="#fd00e8"/><stop offset="0.9412" stop-color="#ff00b8"/><stop offset="0.9706" stop-color="#ff00ae"/><stop offset="1" stop-color="#ff00ac"/></linearGradient><linearGradient id="f16" gradientUnits="userSpaceOnUse" x1="42.5" x2="150.5"><stop offset="0" stop-color="#00ffa9"/><stop offset="0.0463" stop-color="#00ff78"/><stop offset="0.09259" stop-color="#00ff50"/><stop offset="0.1574" stop-color="#00ff24"/><stop offset="0.2222" stop-color="#00ff01"/><stop offset="0.3148" stop-color="#24ff00"/><stop offset="0.3889" stop-color="#35ff00"/><stop offset="0.463" stop-color="#3aff00"/><stop offset="0.6204" stop-color="#39ff00"/><stop offset="0.6944" stop-color="#44ff00"/><stop offset="0.7222" stop-color="#51ff00"/><stop offset="0.7407" stop-color="#64ff00"/><stop offset="0.75" stop-color="#73ff00"/><stop offset="0.7593" stop-color="#8cff00"/><stop offset="0.7685" stop-color="#b4ff00"/><stop offset="0.7778" stop-color="#eff400"/><stop offset="0.787" stop-color="#ff9500"/><stop offset="0.7963" stop-color="#ff1c00"/><stop offset="0.8056" stop-color="#ff0033"/><stop offset="0.8148" stop-color="#ff0060"/><stop offset="0.8241" stop-color="#ff007a"/><stop offset="0.8333" stop-color="#ff008a"/><stop offset="0.8519" stop-color="#ff009a"/><stop offset="0.8796" stop-color="#ff009f"/><stop offset="0.9537" stop-color="#ff009c"/><stop offset="1" stop-color="#ff00a8"/></linearGradient><linearGradient id="f17" gradientUnits="userSpaceOnUse" x1="38.5" x2="154.5"><stop offset="0" stop-color="#00ffd3"/><stop offset="0.0431" stop-color="#00ff98"/><stop offset="0.1034" stop-color="#00ff5d"/><stop offset="0.181" stop-color="#00ff27"/><stop offset="0.2586" stop-color="#03ff00"/><stop offset="0.3276" stop-color="#1fff00"/><stop offset="0.3879" stop-color="#30ff00"/><stop offset="0.5862" stop-color="#49ff00"/><stop offset="0.6552" stop-color="#5cff00"/><stop offset="0.681" stop-color="#6bff00"/><stop offset="0.7069" stop-color="#87ff00"/><stop offset="0.7241" stop-color="#a7ff00"/><stop offset="0.7328" stop-color="#beff00"/><stop offset="0.7414" stop-color="#dcff00"/><stop offset="0.75" stop-color="#fcf600"/><stop offset="0.7586" stop-color="#ffc800"/><stop offset="0.7759" stop-color="#ff5400"/><stop offset="0.7845" stop-color="#ff2000"/><stop offset="0.7931" stop-color="#ff030c"/><stop offset="0.8103" stop-color="#ff0040"/><stop offset="0.819" stop-color="#ff0052"/><stop offset="0.8448" stop-color="#ff006f"/><stop offset="0.8707" stop-color="#ff007c"/><stop offset="0.9483" stop-color="#ff0091"/><stop offset="0.9741" stop-color="#ff009f"/><stop offset="1" stop-color="#ff00b5"/></linearGradient><linearGradient id="f18" gradientUnits="userSpaceOnUse" x1="35.5" x2="157.5"><stop offset="0" stop-color="#00fff4"/><stop offset="0.01639" stop-color="#00ffd4"/><stop offset="0.04098" stop-color="#00ffae"/><stop offset="0.09836" stop-color="#00ff6f"/><stop offset="0.1803" stop-color="#00ff33"/><stop offset="0.2787" stop-color="#02ff00"/><stop offset="0.3852" stop-color="#2bff00"/><stop offset="0.5656" stop-color="#54ff00"/><stop offset="0.623" stop-color="#69ff00"/><stop offset="0.6557" stop-color="#7eff00"/><stop offset="0.6803" stop-color="#98ff00"/><stop offset="0.7049" stop-color="#c1ff00"/><stop offset="0.7213" stop-color="#ecff00"/><stop offset="0.7295" stop-color="#fff700"/><stop offset="0.7787" stop-color="#ff2400"/><stop offset="0.7869" stop-color="#ff0900"/><stop offset="0.7951" stop-color="#ff000e"/><stop offset="0.8115" stop-color="#ff0030"/><stop offset="0.8361" stop-color="#ff004f"/><stop offset="0.8607" stop-color="#ff0061"/><stop offset="0.9508" stop-color="#ff008e"/><stop offset="0.9754" stop-color="#ff00a4"/><stop offset="1" stop-color="#ff00c6"/></linearGradient><linearGradient id="f19" gradientUnits="userSpaceOnUse" x1="31.5" x2="161.5"><stop offset="0" stop-color="#00caff"/><stop offset="0.01538" stop-color="#00fafd"/><stop offset="0.02308" stop-color="#00ffee"/><stop offset="0.03846" stop-color="#00ffce"/><stop offset="0.06154" stop-color="#00ffa9"/><stop offset="0.1154" stop-color="#00ff6f"/><stop offset="0.2" stop-color="#00ff34"/><stop offset="0.3" stop-color="#01ff00"/><stop offset="0.3923" stop-color="#28ff00"/><stop offset="0.5462" stop-color="#5bff00"/><stop offset="0.6" stop-color="#74ff00"/><stop offset="0.6308" stop-color="#8aff00"/><stop offset="0.6615" stop-color="#abff00"/><stop offset="0.6846" stop-color="#d1ff00"/><stop offset="0.7" stop-color="#f4ff00"/><stop offset="0.7077" stop-color="#fff600"/><stop offset="0.7154" stop-color="#ffde00"/><stop offset="0.7538" stop-color="#ff5800"/><stop offset="0.7769" stop-color="#ff1300"/><stop offset="0.7846" stop-color="#ff0403"/><stop offset="0.7923" stop-color="#ff000e"/><stop offset="0.8077" stop-color="#ff0026"/><stop offset="0.8308" stop-color="#ff003f"/><stop offset="0.9154" stop-color="#ff0074"/><stop offset="0.9462" stop-color="#ff008e"/><stop offset="0.9769" stop-color="#ff00bc"/><stop offset="0.9923" stop-color="#ff00df"/><stop offset="1" stop-color="#ff00f7"/></linearGradient><linearGradient id="f20" gradientUnits="userSpaceOnUse" x1="28.5" x2="164.5"><stop offset="0" stop-color="#0079ff"/><stop offset="0.007353" stop-color="#00aeff"/><stop offset="0.01471" stop-color="#00d6ff"/><stop offset="0.02206" stop-color="#00f3fd"/><stop offset="0.02941" stop-color="#00fff1"/><stop offset="0.04412" stop-color="#00ffcc"/><stop offset="0.06618" stop-color="#00ffa7"/><stop offset="0.08824" stop-color="#00ff8d"/><stop offset="0.1176" stop-color="#00ff72"/><stop offset="0.1691" stop-color="#00ff4e"/><stop offset="0.2353" stop-color="#00ff28"/><stop offset="0.3088" stop-color="#00ff03"/><stop offset="0.3309" stop-color="#08ff00"/><stop offset="0.5221" stop-color="#5bff00"/><stop offset="0.5882" stop-color="#80ff00"/><stop offset="0.6397" stop-color="#afff00"/><stop offset="0.6618" stop-color="#cfff00"/><stop offset="0.6838" stop-color="#f8ff00"/><stop offset="0.6912" stop-color="#fff500"/><stop offset="0.6985" stop-color="#ffe300"/><stop offset="0.75" stop-color="#ff4f00"/><stop offset="0.7794" stop-color="#ff0c00"/><stop offset="0.7941" stop-color="#ff000c"/><stop offset="0.8309" stop-color="#ff0034"/><stop offset="0.9044" stop-color="#ff0063"/><stop offset="0.9338" stop-color="#ff007b"/><stop offset="0.9485" stop-color="#ff008d"/><stop offset="0.9632" stop-color="#ff00a6"/><stop offset="0.9779" stop-color="#ff00cc"/><stop offset="0.9853" stop-color="#ff00e7"/><stop offset="0.9926" stop-color="#f200fe"/><stop offset="1" stop-color="#c300ff"/></linearGradient><linearGradient id="f21" gradientUnits="userSpaceOnUse" x1="25.5" x2="167.5"><stop offset="0" stop-color="#cb00ff"/><stop offset="0.007042" stop-color="#3100ff"/><stop offset="0.01408" stop-color="#007fff"/><stop offset="0.02113" stop-color="#00d8ff"/><stop offset="0.02817" stop-color="#00f4eb"/><stop offset="0.03521" stop-color="#00ffd9"/><stop offset="0.0493" stop-color="#00ffb6"/><stop offset="0.07042" stop-color="#00ff98"/><stop offset="0.09859" stop-color="#00ff7e"/><stop offset="0.1338" stop-color="#00ff66"/><stop offset="0.331" stop-color="#01ff00"/><stop offset="0.3873" stop-color="#1cff00"/><stop offset="0.507" stop-color="#5aff00"/><stop offset="0.5775" stop-color="#89ff00"/><stop offset="0.6268" stop-color="#baff00"/><stop offset="0.6479" stop-color="#d7ff00"/><stop offset="0.669" stop-color="#fbff00"/><stop offset="0.6901" stop-color="#ffd500"/><stop offset="0.7535" stop-color="#ff3b00"/><stop offset="0.7746" stop-color="#ff1400"/><stop offset="0.7887" stop-color="#ff0203"/><stop offset="0.831" stop-color="#ff002a"/><stop offset="0.9085" stop-color="#ff0057"/><stop offset="0.9366" stop-color="#ff006d"/><stop offset="0.9577" stop-color="#ff008b"/><stop offset="0.9648" stop-color="#ff009c"/><stop offset="0.9718" stop-color="#ff00b4"/><stop offset="0.9789" stop-color="#fe00db"/><stop offset="0.9859" stop-color="#d500ff"/><stop offset="0.993" stop-color="#3900ff"/><stop offset="1" stop-color="#0071ff"/></linearGradient><linearGradient id="f22" gradientUnits="userSpaceOnUse" x1="25.5" x2="167.5"><stop offset="0" stop-color="#ff3422"/><stop offset="0.007042" stop-color="#f9a200"/><stop offset="0.01408" stop-color="#1dff40"/><stop offset="0.02113" stop-color="#00ff53"/><stop offset="0.02817" stop-color="#00ff65"/><stop offset="0.03521" stop-color="#00ff6d"/><stop offset="0.0493" stop-color="#00ff71"/><stop offset="0.07042" stop-color="#00ff6e"/><stop offset="0.2042" stop-color="#00ff3d"/><stop offset="0.338" stop-color="#00ff01"/><stop offset="0.4577" stop-color="#41ff00"/><stop offset="0.5493" stop-color="#7eff00"/><stop offset="0.6127" stop-color="#b9ff00"/><stop offset="0.662" stop-color="#fdfe00"/><stop offset="0.6831" stop-color="#ffd900"/><stop offset="0.7394" stop-color="#ff6200"/><stop offset="0.7606" stop-color="#ff3b00"/><stop offset="0.7887" stop-color="#ff1100"/><stop offset="0.8099" stop-color="#ff0005"/><stop offset="0.8521" stop-color="#ff0023"/><stop offset="0.9085" stop-color="#ff0038"/><stop offset="0.9507" stop-color="#ff003c"/><stop offset="0.9718" stop-color="#ff002e"/><stop offset="0.9789" stop-color="#ff0b27"/><stop offset="0.9859" stop-color="#ff2f23"/><stop offset="0.993" stop-color="#fbc100"/><stop offset="1" stop-color="#1fff41"/></linearGradient><linearGradient id="f23" gradientUnits="userSpaceOnUse" x1="25.5" x2="167.5"><stop offset="0" stop-color="#ffcc00"/><stop offset="0.007042" stop-color="#dcff00"/><stop offset="0.01408" stop-color="#83ff00"/><stop offset="0.02113" stop-color="#3eff00"/><stop offset="0.02817" stop-color="#12ff03"/><stop offset="0.03521" stop-color="#02ff11"/><stop offset="0.0493" stop-color="#00ff31"/><stop offset="0.06338" stop-color="#00ff41"/><stop offset="0.08451" stop-color="#00ff4b"/><stop offset="0.1408" stop-color="#00ff4b"/><stop offset="0.2324" stop-color="#00ff32"/><stop offset="0.3521" stop-color="#03ff00"/><stop offset="0.4507" stop-color="#3dff00"/><stop offset="0.5352" stop-color="#7cff00"/><stop offset="0.5986" stop-color="#b7ff00"/><stop offset="0.6549" stop-color="#fefd00"/><stop offset="0.6831" stop-color="#ffd000"/><stop offset="0.7535" stop-color="#ff5000"/><stop offset="0.7817" stop-color="#ff2800"/><stop offset="0.8099" stop-color="#ff0b00"/><stop offset="0.831" stop-color="#ff0005"/><stop offset="0.8592" stop-color="#ff0013"/><stop offset="0.8873" stop-color="#ff001a"/><stop offset="0.9155" stop-color="#ff0018"/><stop offset="0.9366" stop-color="#ff000e"/><stop offset="0.9577" stop-color="#ff1000"/><stop offset="0.9648" stop-color="#ff2400"/><stop offset="0.9718" stop-color="#ff4100"/><stop offset="0.9789" stop-color="#ff6d00"/><stop offset="0.9859" stop-color="#ffae00"/><stop offset="0.993" stop-color="#f8ff00"/><stop offset="1" stop-color="#9eff00"/></linearGradient><linearGradient id="f24" gradientUnits="userSpaceOnUse" x1="25.5" x2="167.5"><stop offset="0" stop-color="#f9fc00"/><stop offset="0.02113" stop-color="#6fff00"/><stop offset="0.02817" stop-color="#49ff00"/><stop offset="0.04225" stop-color="#13ff00"/><stop offset="0.0493" stop-color="#05ff05"/><stop offset="0.05634" stop-color="#00ff0e"/><stop offset="0.07042" stop-color="#00ff23"/><stop offset="0.09155" stop-color="#00ff34"/><stop offset="0.1197" stop-color="#00ff3e"/><stop offset="0.1549" stop-color="#00ff40"/><stop offset="0.2465" stop-color="#00ff2f"/><stop offset="0.3521" stop-color="#00ff02"/><stop offset="0.4296" stop-color="#2eff00"/><stop offset="0.5141" stop-color="#71ff00"/><stop offset="0.5845" stop-color="#b4ff00"/><stop offset="0.6479" stop-color="#fffc00"/><stop offset="0.7465" stop-color="#ff6100"/><stop offset="0.7817" stop-color="#ff3300"/><stop offset="0.8099" stop-color="#ff1800"/><stop offset="0.838" stop-color="#ff0600"/><stop offset="0.8803" stop-color="#ff0005"/><stop offset="0.9225" stop-color="#ff0a00"/><stop offset="0.9366" stop-color="#ff1900"/><stop offset="0.9507" stop-color="#ff3200"/><stop offset="0.9648" stop-color="#ff5b00"/><stop offset="0.9718" stop-color="#ff7900"/><stop offset="0.9789" stop-color="#ff9e00"/><stop offset="0.993" stop-color="#fffc00"/><stop offset="1" stop-color="#d0ff00"/></linearGradient><linearGradient id="f25" gradientUnits="userSpaceOnUse" x1="25.5" x2="167.5"><stop offset="0" stop-color="#e0ff00"/><stop offset="0.02113" stop-color="#80ff00"/><stop offset="0.03521" stop-color="#4aff00"/><stop offset="0.05634" stop-color="#12ff00"/><stop offset="0.07042" stop-color="#00ff07"/><stop offset="0.09155" stop-color="#00ff1f"/><stop offset="0.1197" stop-color="#00ff30"/><stop offset="0.1831" stop-color="#00ff3b"/><stop offset="0.2676" stop-color="#00ff2c"/><stop offset="0.3592" stop-color="#00ff02"/><stop offset="0.4155" stop-color="#22ff00"/><stop offset="0.493" stop-color="#62ff00"/><stop offset="0.5704" stop-color="#afff00"/><stop offset="0.6338" stop-color="#f9ff00"/><stop offset="0.6408" stop-color="#fffb00"/><stop offset="0.7394" stop-color="#ff6e00"/><stop offset="0.7817" stop-color="#ff3b00"/><stop offset="0.831" stop-color="#ff1700"/><stop offset="0.8732" stop-color="#ff0d00"/><stop offset="0.8944" stop-color="#ff1100"/><stop offset="0.9155" stop-color="#ff1d00"/><stop offset="0.9296" stop-color="#ff2c00"/><stop offset="0.9437" stop-color="#ff4300"/><stop offset="0.9648" stop-color="#ff7900"/><stop offset="0.9789" stop-color="#ffaf00"/><stop offset="0.993" stop-color="#fff000"/><stop offset="1" stop-color="#edff00"/></linearGradient><linearGradient id="f26" gradientUnits="userSpaceOnUse" x1="25.5" x2="167.5"><stop offset="0" stop-color="#ceff00"/><stop offset="0.02817" stop-color="#70ff00"/><stop offset="0.0493" stop-color="#37ff00"/><stop offset="0.07042" stop-color="#0eff00"/><stop offset="0.08451" stop-color="#00ff05"/><stop offset="0.1056" stop-color="#00ff1a"/><stop offset="0.1338" stop-color="#00ff2c"/><stop offset="0.169" stop-color="#00ff37"/><stop offset="0.2042" stop-color="#00ff3a"/><stop offset="0.2817" stop-color="#00ff2b"/><stop offset="0.3662" stop-color="#00ff03"/><stop offset="0.4155" stop-color="#1fff00"/><stop offset="0.4789" stop-color="#57ff00"/><stop offset="0.5563" stop-color="#a8ff00"/><stop offset="0.6268" stop-color="#fbff00"/><stop offset="0.6408" stop-color="#fff100"/><stop offset="0.7324" stop-color="#ff7800"/><stop offset="0.7746" stop-color="#ff4800"/><stop offset="0.8239" stop-color="#ff2500"/><stop offset="0.8662" stop-color="#ff1b00"/><stop offset="0.9014" stop-color="#ff2600"/><stop offset="0.9225" stop-color="#ff3800"/><stop offset="0.9366" stop-color="#ff4b00"/><stop offset="0.9507" stop-color="#ff6500"/><stop offset="0.9648" stop-color="#ff8700"/><stop offset="1" stop-color="#fefb00"/></linearGradient><linearGradient id="f27" gradientUnits="userSpaceOnUse" x1="25.5" x2="167.5"><stop offset="0" stop-color="#c0ff00"/><stop offset="0.02817" stop-color="#76ff00"/><stop offset="0.0493" stop-color="#44ff00"/><stop offset="0.07042" stop-color="#1dff00"/><stop offset="0.09155" stop-color="#01ff01"/><stop offset="0.1197" stop-color="#00ff1b"/><stop offset="0.1479" stop-color="#00ff2c"/><stop offset="0.1831" stop-color="#00ff38"/><stop offset="0.2183" stop-color="#00ff3b"/><stop offset="0.2958" stop-color="#00ff2c"/><stop offset="0.3732" stop-color="#00ff04"/><stop offset="0.4085" stop-color="#16ff00"/><stop offset="0.4648" stop-color="#4aff00"/><stop offset="0.5282" stop-color="#8fff00"/><stop offset="0.6197" stop-color="#fcff00"/><stop offset="0.7254" stop-color="#ff7f00"/><stop offset="0.7676" stop-color="#ff5300"/><stop offset="0.8169" stop-color="#ff3000"/><stop offset="0.8592" stop-color="#ff2600"/><stop offset="0.8944" stop-color="#ff2f00"/><stop offset="0.9296" stop-color="#ff4e00"/><stop offset="0.9507" stop-color="#ff7000"/><stop offset="0.9648" stop-color="#ff8d00"/><stop offset="1" stop-color="#ffe900"/></linearGradient><linearGradient id="f28" gradientUnits="userSpaceOnUse" x1="25.5" x2="167.5"><stop offset="0" stop-color="#b5ff00"/><stop offset="0.05634" stop-color="#3fff00"/><stop offset="0.07746" stop-color="#1dff00"/><stop offset="0.09859" stop-color="#02ff00"/><stop offset="0.1338" stop-color="#00ff20"/><stop offset="0.162" stop-color="#00ff30"/><stop offset="0.2254" stop-color="#00ff3e"/><stop offset="0.2606" stop-color="#00ff3c"/><stop offset="0.3028" stop-color="#00ff30"/><stop offset="0.3803" stop-color="#00ff06"/><stop offset="0.4014" stop-color="#0bff00"/><stop offset="0.4577" stop-color="#41ff00"/><stop offset="0.6127" stop-color="#fdfe00"/><stop offset="0.7113" stop-color="#ff8b00"/><stop offset="0.7606" stop-color="#ff5a00"/><stop offset="0.8099" stop-color="#ff3900"/><stop offset="0.8521" stop-color="#ff2f00"/><stop offset="0.8944" stop-color="#ff3900"/><stop offset="0.9296" stop-color="#ff5700"/><stop offset="0.9577" stop-color="#ff8000"/><stop offset="1" stop-color="#ffd800"/></linearGradient><linearGradient id="f29" gradientUnits="userSpaceOnUse" x1="25.5" x2="167.5"><stop offset="0" stop-color="#adff00"/><stop offset="0.06338" stop-color="#3aff00"/><stop offset="0.1056" stop-color="#00ff01"/><stop offset="0.1338" stop-color="#00ff1c"/><stop offset="0.169" stop-color="#00ff34"/><stop offset="0.2042" stop-color="#00ff40"/><stop offset="0.2394" stop-color="#00ff44"/><stop offset="0.2746" stop-color="#00ff40"/><stop offset="0.3169" stop-color="#00ff32"/><stop offset="0.3521" stop-color="#00ff20"/><stop offset="0.3944" stop-color="#00ff02"/><stop offset="0.4225" stop-color="#19ff00"/><stop offset="0.4648" stop-color="#48ff00"/><stop offset="0.6056" stop-color="#fefe00"/><stop offset="0.6901" stop-color="#ff9c00"/><stop offset="0.7465" stop-color="#ff6500"/><stop offset="0.7958" stop-color="#ff4300"/><stop offset="0.838" stop-color="#ff3500"/><stop offset="0.8803" stop-color="#ff3900"/><stop offset="0.9225" stop-color="#ff5400"/><stop offset="0.9577" stop-color="#ff7f00"/><stop offset="1" stop-color="#ffc700"/></linearGradient><linearGradient id="f30" gradientUnits="userSpaceOnUse" x1="25.5" x2="167.5"><stop offset="0" stop-color="#a7ff00"/><stop offset="0.07042" stop-color="#34ff00"/><stop offset="0.1056" stop-color="#03ff00"/><stop offset="0.1408" stop-color="#00ff22"/><stop offset="0.1761" stop-color="#00ff3a"/><stop offset="0.2113" stop-color="#00ff47"/><stop offset="0.2465" stop-color="#00ff4a"/><stop offset="0.2817" stop-color="#00ff46"/><stop offset="0.3239" stop-color="#00ff38"/><stop offset="0.3662" stop-color="#00ff1f"/><stop offset="0.4014" stop-color="#00ff02"/><stop offset="0.4225" stop-color="#13ff00"/><stop offset="0.4577" stop-color="#3dff00"/><stop offset="0.5986" stop-color="#fefd00"/><stop offset="0.669" stop-color="#ffab00"/><stop offset="0.7324" stop-color="#ff6e00"/><stop offset="0.7817" stop-color="#ff4b00"/><stop offset="0.831" stop-color="#ff3900"/><stop offset="0.8732" stop-color="#ff3b00"/><stop offset="0.9155" stop-color="#ff5000"/><stop offset="0.9507" stop-color="#ff7300"/><stop offset="1" stop-color="#ffb700"/></linearGradient><linearGradient id="f31" gradientUnits="userSpaceOnUse" x1="25.5" x2="167.5"><stop offset="0" stop-color="#a3ff00"/><stop offset="0.09155" stop-color="#18ff00"/><stop offset="0.1056" stop-color="#04ff00"/><stop offset="0.1127" stop-color="#00ff05"/><stop offset="0.1479" stop-color="#00ff2a"/><stop offset="0.1831" stop-color="#00ff42"/><stop offset="0.2183" stop-color="#00ff4f"/><stop offset="0.2535" stop-color="#00ff53"/><stop offset="0.2887" stop-color="#00ff4e"/><stop offset="0.331" stop-color="#00ff3f"/><stop offset="0.3732" stop-color="#00ff24"/><stop offset="0.4085" stop-color="#00ff04"/><stop offset="0.4225" stop-color="#0cff00"/><stop offset="0.4577" stop-color="#39ff00"/><stop offset="0.5563" stop-color="#d0ff00"/><stop offset="0.5915" stop-color="#fffc00"/><stop offset="0.6549" stop-color="#ffb000"/><stop offset="0.7183" stop-color="#ff7400"/><stop offset="0.7746" stop-color="#ff4d00"/><stop offset="0.8239" stop-color="#ff3b00"/><stop offset="0.8662" stop-color="#ff3b00"/><stop offset="0.9085" stop-color="#ff4b00"/><stop offset="0.9507" stop-color="#ff6e00"/><stop offset="1" stop-color="#ffa800"/></linearGradient><linearGradient id="f32" gradientUnits="userSpaceOnUse" x1="25.5" x2="167.5"><stop offset="0" stop-color="#a2ff00"/><stop offset="0.02817" stop-color="#7eff00"/><stop offset="0.09859" stop-color="#0eff00"/><stop offset="0.1127" stop-color="#00ff06"/><stop offset="0.1408" stop-color="#00ff27"/><stop offset="0.1761" stop-color="#00ff45"/><stop offset="0.2113" stop-color="#00ff56"/><stop offset="0.2535" stop-color="#00ff5c"/><stop offset="0.2958" stop-color="#00ff57"/><stop offset="0.338" stop-color="#00ff46"/><stop offset="0.3803" stop-color="#00ff29"/><stop offset="0.4155" stop-color="#00ff06"/><stop offset="0.4225" stop-color="#03ff00"/><stop offset="0.4577" stop-color="#34ff00"/><stop offset="0.5563" stop-color="#d9ff00"/><stop offset="0.5775" stop-color="#faff00"/><stop offset="0.5845" stop-color="#fffa00"/><stop offset="0.6408" stop-color="#ffb400"/><stop offset="0.6972" stop-color="#ff7e00"/><stop offset="0.7535" stop-color="#ff5500"/><stop offset="0.8099" stop-color="#ff3e00"/><stop offset="0.8592" stop-color="#ff3a00"/><stop offset="0.9014" stop-color="#ff4600"/><stop offset="0.9437" stop-color="#ff6200"/><stop offset="1" stop-color="#ff9800"/></linearGradient><linearGradient id="f33" gradientUnits="userSpaceOnUse" x1="25.5" x2="167.5"><stop offset="0" stop-color="#a5ff00"/><stop offset="0.03521" stop-color="#77ff00"/><stop offset="0.1056" stop-color="#01ff00"/><stop offset="0.1408" stop-color="#00ff2d"/><stop offset="0.1761" stop-color="#00ff4d"/><stop offset="0.2113" stop-color="#00ff60"/><stop offset="0.2535" stop-color="#00ff68"/><stop offset="0.3028" stop-color="#00ff61"/><stop offset="0.3451" stop-color="#00ff4f"/><stop offset="0.3873" stop-color="#00ff2f"/><stop offset="0.4225" stop-color="#00ff08"/><stop offset="0.4296" stop-color="#02ff01"/><stop offset="0.4507" stop-color="#21ff00"/><stop offset="0.5493" stop-color="#d8ff00"/><stop offset="0.5704" stop-color="#fbff00"/><stop offset="0.5775" stop-color="#fff800"/><stop offset="0.6268" stop-color="#ffb700"/><stop offset="0.6831" stop-color="#ff8000"/><stop offset="0.7465" stop-color="#ff5400"/><stop offset="0.8028" stop-color="#ff3d00"/><stop offset="0.8521" stop-color="#ff3800"/><stop offset="0.8944" stop-color="#ff4000"/><stop offset="0.9437" stop-color="#ff5b00"/><stop offset="1" stop-color="#ff8900"/></linearGradient><linearGradient id="f34" gradientUnits="userSpaceOnUse" x1="25.5" x2="167.5"><stop offset="0" stop-color="#acff00"/><stop offset="0.03521" stop-color="#7eff00"/><stop offset="0.1056" stop-color="#00ff03"/><stop offset="0.1408" stop-color="#00ff36"/><stop offset="0.1761" stop-color="#00ff58"/><stop offset="0.2183" stop-color="#00ff6e"/><stop offset="0.2606" stop-color="#00ff74"/><stop offset="0.3099" stop-color="#00ff6d"/><stop offset="0.3521" stop-color="#00ff59"/><stop offset="0.3944" stop-color="#00ff37"/><stop offset="0.4296" stop-color="#00ff0b"/><stop offset="0.4366" stop-color="#02ff02"/><stop offset="0.4577" stop-color="#24ff00"/><stop offset="0.5352" stop-color="#c7ff00"/><stop offset="0.5634" stop-color="#fcff00"/><stop offset="0.6127" stop-color="#ffb900"/><stop offset="0.662" stop-color="#ff8600"/><stop offset="0.7254" stop-color="#ff5800"/><stop offset="0.7887" stop-color="#ff3c00"/><stop offset="0.838" stop-color="#ff3400"/><stop offset="0.8873" stop-color="#ff3a00"/><stop offset="0.9366" stop-color="#ff4f00"/><stop offset="1" stop-color="#ff7a00"/></linearGradient><linearGradient id="f35" gradientUnits="userSpaceOnUse" x1="25.5" x2="167.5"><stop offset="0" stop-color="#b8ff00"/><stop offset="0.01408" stop-color="#a9ff00"/><stop offset="0.03521" stop-color="#88ff00"/><stop offset="0.09859" stop-color="#04ff00"/><stop offset="0.1056" stop-color="#00ff0a"/><stop offset="0.1408" stop-color="#00ff41"/><stop offset="0.1761" stop-color="#00ff65"/><stop offset="0.2183" stop-color="#00ff7b"/><stop offset="0.2606" stop-color="#00ff82"/><stop offset="0.3099" stop-color="#00ff7c"/><stop offset="0.3592" stop-color="#00ff65"/><stop offset="0.4014" stop-color="#00ff3f"/><stop offset="0.4366" stop-color="#00ff0e"/><stop offset="0.4437" stop-color="#01ff03"/><stop offset="0.4577" stop-color="#19ff00"/><stop offset="0.5352" stop-color="#d2ff00"/><stop offset="0.5563" stop-color="#fdfd00"/><stop offset="0.5986" stop-color="#ffbb00"/><stop offset="0.6479" stop-color="#ff8500"/><stop offset="0.7042" stop-color="#ff5b00"/><stop offset="0.7676" stop-color="#ff3d00"/><stop offset="0.8239" stop-color="#ff3100"/><stop offset="0.8803" stop-color="#ff3400"/><stop offset="0.9366" stop-color="#ff4700"/><stop offset="1" stop-color="#ff6a00"/></linearGradient><linearGradient id="f36" gradientUnits="userSpaceOnUse" x1="25.5" x2="167.5"><stop offset="0" stop-color="#caff00"/><stop offset="0.01408" stop-color="#bbff00"/><stop offset="0.03521" stop-color="#96ff00"/><stop offset="0.09155" stop-color="#0cff00"/><stop offset="0.09859" stop-color="#00ff04"/><stop offset="0.1338" stop-color="#00ff46"/><stop offset="0.169" stop-color="#00ff6e"/><stop offset="0.2113" stop-color="#00ff88"/><stop offset="0.2676" stop-color="#00ff92"/><stop offset="0.3239" stop-color="#00ff87"/><stop offset="0.3732" stop-color="#00ff6d"/><stop offset="0.4155" stop-color="#00ff41"/><stop offset="0.4507" stop-color="#00ff04"/><stop offset="0.4577" stop-color="#0bff00"/><stop offset="0.4718" stop-color="#2dff00"/><stop offset="0.5282" stop-color="#cdff00"/><stop offset="0.5493" stop-color="#fdfc00"/><stop offset="0.5845" stop-color="#ffbc00"/><stop offset="0.6268" stop-color="#ff8800"/><stop offset="0.6831" stop-color="#ff5c00"/><stop offset="0.7465" stop-color="#ff3d00"/><stop offset="0.8099" stop-color="#ff2d00"/><stop offset="0.8662" stop-color="#ff2c00"/><stop offset="0.9296" stop-color="#ff3b00"/><stop offset="1" stop-color="#ff5b00"/></linearGradient><linearGradient id="f37" gradientUnits="userSpaceOnUse" x1="25.5" x2="167.5"><stop offset="0" stop-color="#e4ff00"/><stop offset="0.01408" stop-color="#d4ff00"/><stop offset="0.03521" stop-color="#aaff00"/><stop offset="0.0493" stop-color="#84ff00"/><stop offset="0.09155" stop-color="#03ff00"/><stop offset="0.1127" stop-color="#00ff32"/><stop offset="0.1268" stop-color="#00ff4d"/><stop offset="0.162" stop-color="#00ff7a"/><stop offset="0.2042" stop-color="#00ff96"/><stop offset="0.2606" stop-color="#00ffa2"/><stop offset="0.3239" stop-color="#00ff99"/><stop offset="0.3803" stop-color="#00ff7c"/><stop offset="0.4014" stop-color="#00ff68"/><stop offset="0.4225" stop-color="#00ff4d"/><stop offset="0.4437" stop-color="#00ff28"/><stop offset="0.4577" stop-color="#00ff08"/><stop offset="0.4648" stop-color="#0aff00"/><stop offset="0.4718" stop-color="#1fff00"/><stop offset="0.5211" stop-color="#c5ff00"/><stop offset="0.5352" stop-color="#f0ff00"/><stop offset="0.5423" stop-color="#fffa00"/><stop offset="0.5563" stop-color="#ffd900"/><stop offset="0.5775" stop-color="#ffb100"/><stop offset="0.6127" stop-color="#ff8300"/><stop offset="0.662" stop-color="#ff5a00"/><stop offset="0.7254" stop-color="#ff3b00"/><stop offset="0.7958" stop-color="#ff2800"/><stop offset="0.8592" stop-color="#ff2500"/><stop offset="0.9225" stop-color="#ff3000"/><stop offset="1" stop-color="#ff4c00"/></linearGradient><linearGradient id="f38" gradientUnits="userSpaceOnUse" x1="25.5" x2="167.5"><stop offset="0" stop-color="#fef500"/><stop offset="0.01408" stop-color="#f6fe00"/><stop offset="0.02113" stop-color="#eaff00"/><stop offset="0.03521" stop-color="#c7ff00"/><stop offset="0.0493" stop-color="#97ff00"/><stop offset="0.08451" stop-color="#0bff00"/><stop offset="0.09155" stop-color="#00ff0d"/><stop offset="0.1056" stop-color="#00ff37"/><stop offset="0.1197" stop-color="#00ff57"/><stop offset="0.1338" stop-color="#00ff6f"/><stop offset="0.1549" stop-color="#00ff89"/><stop offset="0.1761" stop-color="#00ff9a"/><stop offset="0.2042" stop-color="#00ffa9"/><stop offset="0.2676" stop-color="#00ffb4"/><stop offset="0.338" stop-color="#00ffa8"/><stop offset="0.3662" stop-color="#00ff9c"/><stop offset="0.3944" stop-color="#00ff88"/><stop offset="0.4155" stop-color="#00ff72"/><stop offset="0.4366" stop-color="#00ff52"/><stop offset="0.4507" stop-color="#00ff34"/><stop offset="0.4648" stop-color="#00ff0e"/><stop offset="0.4718" stop-color="#09ff00"/><stop offset="0.4859" stop-color="#3fff00"/><stop offset="0.5211" stop-color="#d6ff00"/><stop offset="0.5282" stop-color="#f1ff00"/><stop offset="0.5352" stop-color="#fff600"/><stop offset="0.5493" stop-color="#ffcd00"/><stop offset="0.5634" stop-color="#ffae00"/><stop offset="0.5775" stop-color="#ff9600"/><stop offset="0.5986" stop-color="#ff7a00"/><stop offset="0.6408" stop-color="#ff5600"/><stop offset="0.6972" stop-color="#ff3900"/><stop offset="0.7676" stop-color="#ff2500"/><stop offset="0.8451" stop-color="#ff1e00"/><stop offset="0.9155" stop-color="#ff2600"/><stop offset="1" stop-color="#ff3c00"/></linearGradient><linearGradient id="f39" gradientUnits="userSpaceOnUse" x1="25.5" x2="167.5"><stop offset="0" stop-color="#ffc700"/><stop offset="0.01408" stop-color="#ffd700"/><stop offset="0.02817" stop-color="#fcf400"/><stop offset="0.03521" stop-color="#f0ff00"/><stop offset="0.0493" stop-color="#b4ff00"/><stop offset="0.07746" stop-color="#19ff00"/><stop offset="0.08451" stop-color="#00ff09"/><stop offset="0.09859" stop-color="#00ff40"/><stop offset="0.1197" stop-color="#00ff75"/><stop offset="0.1338" stop-color="#00ff8c"/><stop offset="0.1549" stop-color="#00ffa3"/><stop offset="0.1972" stop-color="#00ffbb"/><stop offset="0.2676" stop-color="#00ffc6"/><stop offset="0.338" stop-color="#00ffbd"/><stop offset="0.3873" stop-color="#00ffa8"/><stop offset="0.4225" stop-color="#00ff89"/><stop offset="0.4366" stop-color="#00ff74"/><stop offset="0.4507" stop-color="#00ff58"/><stop offset="0.4648" stop-color="#00ff30"/><stop offset="0.4718" stop-color="#00ff17"/><stop offset="0.4789" stop-color="#08ff01"/><stop offset="0.4859" stop-color="#2aff00"/><stop offset="0.5141" stop-color="#cdff00"/><stop offset="0.5211" stop-color="#f1ff00"/><stop offset="0.5282" stop-color="#ffee00"/><stop offset="0.5352" stop-color="#ffd300"/><stop offset="0.5493" stop-color="#ffa900"/><stop offset="0.5634" stop-color="#ff8c00"/><stop offset="0.5775" stop-color="#ff7600"/><stop offset="0.6127" stop-color="#ff5300"/><stop offset="0.662" stop-color="#ff3800"/><stop offset="0.7394" stop-color="#ff2100"/><stop offset="0.8239" stop-color="#ff1700"/><stop offset="0.9014" stop-color="#ff1a00"/><stop offset="1" stop-color="#ff2d00"/></linearGradient><linearGradient id="f40" gradientUnits="userSpaceOnUse" x1="25.5" x2="167.5"><stop offset="0" stop-color="#ff8b00"/><stop offset="0.01408" stop-color="#ff9a00"/><stop offset="0.02113" stop-color="#ffa600"/><stop offset="0.03521" stop-color="#ffd000"/><stop offset="0.04225" stop-color="#fdee00"/><stop offset="0.0493" stop-color="#e4ff00"/><stop offset="0.05634" stop-color="#aeff00"/><stop offset="0.07042" stop-color="#32ff00"/><stop offset="0.07746" stop-color="#03ff08"/><stop offset="0.08451" stop-color="#00ff31"/><stop offset="0.09155" stop-color="#00ff53"/><stop offset="0.09859" stop-color="#00ff6d"/><stop offset="0.1056" stop-color="#00ff81"/><stop offset="0.1197" stop-color="#00ff9d"/><stop offset="0.1338" stop-color="#00ffaf"/><stop offset="0.1549" stop-color="#00ffc0"/><stop offset="0.2113" stop-color="#00ffd5"/><stop offset="0.2958" stop-color="#00ffd9"/><stop offset="0.3732" stop-color="#00ffca"/><stop offset="0.4155" stop-color="#00ffb4"/><stop offset="0.4437" stop-color="#00ff94"/><stop offset="0.4577" stop-color="#00ff78"/><stop offset="0.4648" stop-color="#00ff64"/><stop offset="0.4718" stop-color="#00ff4a"/><stop offset="0.4789" stop-color="#00ff28"/><stop offset="0.4859" stop-color="#08ff05"/><stop offset="0.493" stop-color="#3aff00"/><stop offset="0.507" stop-color="#b9ff00"/><stop offset="0.5141" stop-color="#f2ff00"/><stop offset="0.5211" stop-color="#ffde00"/><stop offset="0.5282" stop-color="#ffbb00"/><stop offset="0.5352" stop-color="#ffa000"/><stop offset="0.5423" stop-color="#ff8b00"/><stop offset="0.5563" stop-color="#ff6c00"/><stop offset="0.5845" stop-color="#ff4a00"/><stop offset="0.6268" stop-color="#ff3100"/><stop offset="0.7042" stop-color="#ff1b00"/><stop offset="0.8028" stop-color="#ff1000"/><stop offset="0.8944" stop-color="#ff1100"/><stop offset="1" stop-color="#ff1d00"/></linearGradient><linearGradient id="f41" gradientUnits="userSpaceOnUse" x1="25.5" x2="167.5"><stop offset="0" stop-color="#ff4500"/><stop offset="0.01408" stop-color="#ff4d00"/><stop offset="0.02817" stop-color="#ff6000"/><stop offset="0.03521" stop-color="#ff7100"/><stop offset="0.04225" stop-color="#ff8b00"/><stop offset="0.0493" stop-color="#ffb600"/><stop offset="0.05634" stop-color="#edf000"/><stop offset="0.06338" stop-color="#7cff00"/><stop offset="0.07042" stop-color="#0aff11"/><stop offset="0.07746" stop-color="#00ff56"/><stop offset="0.08451" stop-color="#00ff83"/><stop offset="0.09155" stop-color="#00ff9f"/><stop offset="0.1056" stop-color="#00ffbe"/><stop offset="0.1197" stop-color="#00ffce"/><stop offset="0.162" stop-color="#00ffe3"/><stop offset="0.2324" stop-color="#00ffec"/><stop offset="0.338" stop-color="#00ffea"/><stop offset="0.4085" stop-color="#00ffdd"/><stop offset="0.4366" stop-color="#00ffcf"/><stop offset="0.4577" stop-color="#00ffb9"/><stop offset="0.4718" stop-color="#00ff9b"/><stop offset="0.4789" stop-color="#00ff81"/><stop offset="0.4859" stop-color="#00ff56"/><stop offset="0.493" stop-color="#09ff16"/><stop offset="0.5" stop-color="#71ff00"/><stop offset="0.507" stop-color="#edf500"/><stop offset="0.5141" stop-color="#ffb400"/><stop offset="0.5211" stop-color="#ff8500"/><stop offset="0.5282" stop-color="#ff6800"/><stop offset="0.5423" stop-color="#ff4800"/><stop offset="0.5634" stop-color="#ff3000"/><stop offset="0.5986" stop-color="#ff1f00"/><stop offset="0.669" stop-color="#ff1100"/><stop offset="0.7746" stop-color="#ff0900"/><stop offset="1" stop-color="#ff0e00"/></linearGradient><linearGradient id="f42" gradientUnits="userSpaceOnUse" x1="25.5" x2="167.5"><stop offset="0" stop-color="#ff060e"/><stop offset="0.02817" stop-color="#ff0813"/><stop offset="0.04225" stop-color="#ff0d1e"/><stop offset="0.0493" stop-color="#ff132a"/><stop offset="0.05634" stop-color="#ff234a"/><stop offset="0.06338" stop-color="#908080"/><stop offset="0.07042" stop-color="#00b4db"/><stop offset="0.07746" stop-color="#00d7ed"/><stop offset="0.08451" stop-color="#00e4f3"/><stop offset="0.09859" stop-color="#00eff8"/><stop offset="0.1197" stop-color="#00f5fb"/><stop offset="0.2676" stop-color="#00fcfe"/><stop offset="0.4366" stop-color="#00f6fb"/><stop offset="0.4648" stop-color="#00eef8"/><stop offset="0.4789" stop-color="#00e4f3"/><stop offset="0.4859" stop-color="#00d8ee"/><stop offset="0.493" stop-color="#00badf"/><stop offset="0.5" stop-color="#478080"/><stop offset="0.507" stop-color="#ff2750"/><stop offset="0.5141" stop-color="#ff132b"/><stop offset="0.5211" stop-color="#ff0d1d"/><stop offset="0.5352" stop-color="#ff0711"/><stop offset="0.5634" stop-color="#ff040a"/><stop offset="0.7113" stop-color="#ff0102"/><stop offset="1" stop-color="#ff0103"/></linearGradient><linearGradient id="f43" gradientUnits="userSpaceOnUse" x1="25.5" x2="167.5"><stop offset="0" stop-color="#ff0054"/><stop offset="0.01408" stop-color="#ff005e"/><stop offset="0.02817" stop-color="#ff0074"/><stop offset="0.03521" stop-color="#ff0087"/><stop offset="0.04225" stop-color="#ff00a4"/><stop offset="0.0493" stop-color="#ff00d2"/><stop offset="0.05634" stop-color="#e300ff"/><stop offset="0.07042" stop-color="#1003ff"/><stop offset="0.07746" stop-color="#003eff"/><stop offset="0.08451" stop-color="#006eff"/><stop offset="0.09155" stop-color="#008dff"/><stop offset="0.1056" stop-color="#00b0ff"/><stop offset="0.1197" stop-color="#00c3ff"/><stop offset="0.1408" stop-color="#00d4ff"/><stop offset="0.162" stop-color="#00ddff"/><stop offset="0.2254" stop-color="#00e8ff"/><stop offset="0.3239" stop-color="#00e7ff"/><stop offset="0.4014" stop-color="#00d9ff"/><stop offset="0.4366" stop-color="#00c5ff"/><stop offset="0.4577" stop-color="#00abff"/><stop offset="0.4718" stop-color="#0088ff"/><stop offset="0.4789" stop-color="#006bff"/><stop offset="0.4859" stop-color="#003dff"/><stop offset="0.493" stop-color="#1106ff"/><stop offset="0.5" stop-color="#7400ff"/><stop offset="0.507" stop-color="#e200ff"/><stop offset="0.5141" stop-color="#ff00cd"/><stop offset="0.5211" stop-color="#ff009c"/><stop offset="0.5282" stop-color="#ff007c"/><stop offset="0.5423" stop-color="#ff0056"/><stop offset="0.5634" stop-color="#ff003b"/><stop offset="0.5986" stop-color="#ff0025"/><stop offset="0.669" stop-color="#ff0014"/><stop offset="0.7746" stop-color="#ff000b"/><stop offset="0.8803" stop-color="#ff0009"/><stop offset="1" stop-color="#ff0011"/></linearGradient><linearGradient id="f44" gradientUnits="userSpaceOnUse" x1="25.5" x2="167.5"><stop offset="0" stop-color="#ff0098"/><stop offset="0.01408" stop-color="#ff00a7"/><stop offset="0.02113" stop-color="#ff00b4"/><stop offset="0.03521" stop-color="#ff00de"/><stop offset="0.04225" stop-color="#f700f6"/><stop offset="0.0493" stop-color="#d800ff"/><stop offset="0.05634" stop-color="#a600ff"/><stop offset="0.07042" stop-color="#3600ff"/><stop offset="0.07746" stop-color="#0603ff"/><stop offset="0.09155" stop-color="#0048ff"/><stop offset="0.09859" stop-color="#0062ff"/><stop offset="0.1056" stop-color="#0077ff"/><stop offset="0.1197" stop-color="#0094ff"/><stop offset="0.1338" stop-color="#00a8ff"/><stop offset="0.1549" stop-color="#00baff"/><stop offset="0.2113" stop-color="#00d0ff"/><stop offset="0.2887" stop-color="#00d5ff"/><stop offset="0.3662" stop-color="#00c8ff"/><stop offset="0.4085" stop-color="#00b2ff"/><stop offset="0.4366" stop-color="#0095ff"/><stop offset="0.4577" stop-color="#006cff"/><stop offset="0.4718" stop-color="#003eff"/><stop offset="0.4789" stop-color="#001cff"/><stop offset="0.4859" stop-color="#0d00ff"/><stop offset="0.493" stop-color="#4000ff"/><stop offset="0.5141" stop-color="#e800ff"/><stop offset="0.5211" stop-color="#ff00ea"/><stop offset="0.5282" stop-color="#ff00c7"/><stop offset="0.5423" stop-color="#ff0096"/><stop offset="0.5634" stop-color="#ff006b"/><stop offset="0.5915" stop-color="#ff004b"/><stop offset="0.6338" stop-color="#ff0033"/><stop offset="0.7113" stop-color="#ff001d"/><stop offset="0.8028" stop-color="#ff0012"/><stop offset="0.8944" stop-color="#ff0013"/><stop offset="1" stop-color="#ff0020"/></linearGradient><linearGradient id="f45" gradientUnits="userSpaceOnUse" x1="25.5" x2="167.5"><stop offset="0" stop-color="#ff00d1"/><stop offset="0.02113" stop-color="#ff00f0"/><stop offset="0.02817" stop-color="#f800fa"/><stop offset="0.03521" stop-color="#e700ff"/><stop offset="0.0493" stop-color="#ad00ff"/><stop offset="0.07746" stop-color="#1d00ff"/><stop offset="0.08451" stop-color="#0105ff"/><stop offset="0.09859" stop-color="#0039ff"/><stop offset="0.1197" stop-color="#006eff"/><stop offset="0.1338" stop-color="#0086ff"/><stop offset="0.1549" stop-color="#009eff"/><stop offset="0.2042" stop-color="#00b9ff"/><stop offset="0.2676" stop-color="#00c2ff"/><stop offset="0.338" stop-color="#00b9ff"/><stop offset="0.3873" stop-color="#00a3ff"/><stop offset="0.4225" stop-color="#0082ff"/><stop offset="0.4366" stop-color="#006dff"/><stop offset="0.4507" stop-color="#0050ff"/><stop offset="0.4648" stop-color="#0028ff"/><stop offset="0.4718" stop-color="#000fff"/><stop offset="0.4789" stop-color="#0e00ff"/><stop offset="0.493" stop-color="#5400ff"/><stop offset="0.5141" stop-color="#c800ff"/><stop offset="0.5211" stop-color="#ea00ff"/><stop offset="0.5282" stop-color="#ff00f5"/><stop offset="0.5352" stop-color="#ff00db"/><stop offset="0.5493" stop-color="#ff00b2"/><stop offset="0.5634" stop-color="#ff0093"/><stop offset="0.5775" stop-color="#ff007d"/><stop offset="0.6127" stop-color="#ff0058"/><stop offset="0.669" stop-color="#ff0038"/><stop offset="0.7465" stop-color="#ff0022"/><stop offset="0.831" stop-color="#ff0018"/><stop offset="0.9085" stop-color="#ff001d"/><stop offset="1" stop-color="#ff0030"/></linearGradient><linearGradient id="f46" gradientUnits="userSpaceOnUse" x1="25.5" x2="167.5"><stop offset="0" stop-color="#fb00fa"/><stop offset="0.01408" stop-color="#ef00ff"/><stop offset="0.03521" stop-color="#c000ff"/><stop offset="0.0493" stop-color="#9300ff"/><stop offset="0.08451" stop-color="#0e00ff"/><stop offset="0.09155" stop-color="#0009ff"/><stop offset="0.1056" stop-color="#0032ff"/><stop offset="0.1268" stop-color="#005fff"/><stop offset="0.1408" stop-color="#0074ff"/><stop offset="0.162" stop-color="#008bff"/><stop offset="0.2113" stop-color="#00a7ff"/><stop offset="0.2676" stop-color="#00b0ff"/><stop offset="0.338" stop-color="#00a4ff"/><stop offset="0.3662" stop-color="#0097ff"/><stop offset="0.3944" stop-color="#0083ff"/><stop offset="0.4155" stop-color="#006cff"/><stop offset="0.4366" stop-color="#004cff"/><stop offset="0.4507" stop-color="#002eff"/><stop offset="0.4648" stop-color="#0008ff"/><stop offset="0.4718" stop-color="#0e00ff"/><stop offset="0.4789" stop-color="#2700ff"/><stop offset="0.5211" stop-color="#d200ff"/><stop offset="0.5282" stop-color="#ec00ff"/><stop offset="0.5352" stop-color="#fe00fa"/><stop offset="0.5634" stop-color="#ff00b4"/><stop offset="0.5775" stop-color="#ff009b"/><stop offset="0.5986" stop-color="#ff007f"/><stop offset="0.6408" stop-color="#ff005a"/><stop offset="0.6972" stop-color="#ff003c"/><stop offset="0.7676" stop-color="#ff0027"/><stop offset="0.8451" stop-color="#ff0020"/><stop offset="0.9155" stop-color="#ff0027"/><stop offset="1" stop-color="#ff003f"/></linearGradient><linearGradient id="f47" gradientUnits="userSpaceOnUse" x1="25.5" x2="167.5"><stop offset="0" stop-color="#de00ff"/><stop offset="0.01408" stop-color="#ce00ff"/><stop offset="0.03521" stop-color="#a600ff"/><stop offset="0.0493" stop-color="#8100ff"/><stop offset="0.09155" stop-color="#0500ff"/><stop offset="0.09859" stop-color="#000eff"/><stop offset="0.1127" stop-color="#002eff"/><stop offset="0.1338" stop-color="#0054ff"/><stop offset="0.169" stop-color="#007dff"/><stop offset="0.2113" stop-color="#0095ff"/><stop offset="0.2606" stop-color="#009fff"/><stop offset="0.3169" stop-color="#0098ff"/><stop offset="0.3732" stop-color="#007dff"/><stop offset="0.4155" stop-color="#0053ff"/><stop offset="0.4366" stop-color="#0031ff"/><stop offset="0.4507" stop-color="#0014ff"/><stop offset="0.4577" stop-color="#0105ff"/><stop offset="0.4648" stop-color="#0e00ff"/><stop offset="0.4859" stop-color="#4d00ff"/><stop offset="0.5211" stop-color="#c300ff"/><stop offset="0.5423" stop-color="#fd00fc"/><stop offset="0.5775" stop-color="#ff00b6"/><stop offset="0.6127" stop-color="#ff0087"/><stop offset="0.662" stop-color="#ff005e"/><stop offset="0.7254" stop-color="#ff003d"/><stop offset="0.7958" stop-color="#ff002a"/><stop offset="0.8592" stop-color="#ff0027"/><stop offset="0.9225" stop-color="#ff0032"/><stop offset="1" stop-color="#ff004f"/></linearGradient><linearGradient id="f48" gradientUnits="userSpaceOnUse" x1="25.5" x2="167.5"><stop offset="0" stop-color="#c600ff"/><stop offset="0.01408" stop-color="#b700ff"/><stop offset="0.03521" stop-color="#9300ff"/><stop offset="0.09859" stop-color="#0002ff"/><stop offset="0.1338" stop-color="#0043ff"/><stop offset="0.169" stop-color="#006bff"/><stop offset="0.2113" stop-color="#0085ff"/><stop offset="0.2606" stop-color="#008eff"/><stop offset="0.3169" stop-color="#0086ff"/><stop offset="0.3662" stop-color="#006eff"/><stop offset="0.4085" stop-color="#0046ff"/><stop offset="0.4437" stop-color="#000fff"/><stop offset="0.4507" stop-color="#0203ff"/><stop offset="0.4648" stop-color="#1e00ff"/><stop offset="0.5282" stop-color="#ca00ff"/><stop offset="0.5493" stop-color="#fc00fe"/><stop offset="0.5915" stop-color="#ff00b6"/><stop offset="0.6338" stop-color="#ff0085"/><stop offset="0.6901" stop-color="#ff005a"/><stop offset="0.7535" stop-color="#ff003c"/><stop offset="0.8169" stop-color="#ff002d"/><stop offset="0.8732" stop-color="#ff002e"/><stop offset="0.9296" stop-color="#ff003d"/><stop offset="1" stop-color="#ff005e"/></linearGradient><linearGradient id="f49" gradientUnits="userSpaceOnUse" x1="25.5" x2="167.5"><stop offset="0" stop-color="#b500ff"/><stop offset="0.01408" stop-color="#a600ff"/><stop offset="0.03521" stop-color="#8600ff"/><stop offset="0.09859" stop-color="#0500ff"/><stop offset="0.1056" stop-color="#0008ff"/><stop offset="0.1408" stop-color="#003fff"/><stop offset="0.1761" stop-color="#0062ff"/><stop offset="0.2183" stop-color="#0078ff"/><stop offset="0.2606" stop-color="#007fff"/><stop offset="0.3099" stop-color="#0078ff"/><stop offset="0.3592" stop-color="#0061ff"/><stop offset="0.4014" stop-color="#003cff"/><stop offset="0.4366" stop-color="#000bff"/><stop offset="0.4437" stop-color="#0201ff"/><stop offset="0.4577" stop-color="#1c00ff"/><stop offset="0.5423" stop-color="#df00ff"/><stop offset="0.5563" stop-color="#fb00ff"/><stop offset="0.5634" stop-color="#ff00f6"/><stop offset="0.6056" stop-color="#ff00b5"/><stop offset="0.6549" stop-color="#ff0082"/><stop offset="0.7113" stop-color="#ff0059"/><stop offset="0.7746" stop-color="#ff003c"/><stop offset="0.831" stop-color="#ff0031"/><stop offset="0.8803" stop-color="#ff0035"/><stop offset="0.9366" stop-color="#ff0049"/><stop offset="1" stop-color="#ff006d"/></linearGradient><linearGradient id="f50" gradientUnits="userSpaceOnUse" x1="25.5" x2="167.5"><stop offset="0" stop-color="#aa00ff"/><stop offset="0.03521" stop-color="#7d00ff"/><stop offset="0.1056" stop-color="#0002ff"/><stop offset="0.1408" stop-color="#0034ff"/><stop offset="0.1761" stop-color="#0055ff"/><stop offset="0.2183" stop-color="#006bff"/><stop offset="0.2606" stop-color="#0072ff"/><stop offset="0.3099" stop-color="#006aff"/><stop offset="0.3521" stop-color="#0056ff"/><stop offset="0.3944" stop-color="#0034ff"/><stop offset="0.4296" stop-color="#0008ff"/><stop offset="0.4366" stop-color="#0300ff"/><stop offset="0.4577" stop-color="#2600ff"/><stop offset="0.5423" stop-color="#d300ff"/><stop offset="0.5634" stop-color="#fa00ff"/><stop offset="0.5704" stop-color="#ff00f9"/><stop offset="0.6197" stop-color="#ff00b4"/><stop offset="0.669" stop-color="#ff0083"/><stop offset="0.7324" stop-color="#ff0056"/><stop offset="0.7887" stop-color="#ff003d"/><stop offset="0.838" stop-color="#ff0035"/><stop offset="0.8873" stop-color="#ff003b"/><stop offset="0.9366" stop-color="#ff0051"/><stop offset="1" stop-color="#ff007d"/></linearGradient><linearGradient id="f51" gradientUnits="userSpaceOnUse" x1="25.5" x2="167.5"><stop offset="0" stop-color="#a400ff"/><stop offset="0.03521" stop-color="#7600ff"/><stop offset="0.1056" stop-color="#0200ff"/><stop offset="0.1408" stop-color="#002cff"/><stop offset="0.1761" stop-color="#004bff"/><stop offset="0.2113" stop-color="#005dff"/><stop offset="0.2535" stop-color="#0065ff"/><stop offset="0.3028" stop-color="#005fff"/><stop offset="0.3451" stop-color="#004cff"/><stop offset="0.3873" stop-color="#002dff"/><stop offset="0.4225" stop-color="#0006ff"/><stop offset="0.4296" stop-color="#0400ff"/><stop offset="0.4577" stop-color="#2e00ff"/><stop offset="0.5493" stop-color="#d600ff"/><stop offset="0.5704" stop-color="#f800ff"/><stop offset="0.5775" stop-color="#ff00fb"/><stop offset="0.6268" stop-color="#ff00ba"/><stop offset="0.6831" stop-color="#ff0082"/><stop offset="0.7465" stop-color="#ff0055"/><stop offset="0.8028" stop-color="#ff003d"/><stop offset="0.8521" stop-color="#ff0038"/><stop offset="0.8944" stop-color="#ff0041"/><stop offset="0.9437" stop-color="#ff005c"/><stop offset="1" stop-color="#ff008c"/></linearGradient><linearGradient id="f52" gradientUnits="userSpaceOnUse" x1="25.5" x2="167.5"><stop offset="0" stop-color="#a200ff"/><stop offset="0.02817" stop-color="#7d00ff"/><stop offset="0.09859" stop-color="#0e00ff"/><stop offset="0.1127" stop-color="#0006ff"/><stop offset="0.1408" stop-color="#0026ff"/><stop offset="0.1761" stop-color="#0043ff"/><stop offset="0.2113" stop-color="#0054ff"/><stop offset="0.2535" stop-color="#005aff"/><stop offset="0.2958" stop-color="#0055ff"/><stop offset="0.338" stop-color="#0044ff"/><stop offset="0.3803" stop-color="#0027ff"/><stop offset="0.4155" stop-color="#0004ff"/><stop offset="0.4296" stop-color="#0d00ff"/><stop offset="0.4577" stop-color="#3500ff"/><stop offset="0.5493" stop-color="#cc00ff"/><stop offset="0.5845" stop-color="#ff00fc"/><stop offset="0.6408" stop-color="#ff00b6"/><stop offset="0.7042" stop-color="#ff007a"/><stop offset="0.7606" stop-color="#ff0052"/><stop offset="0.8169" stop-color="#ff003c"/><stop offset="0.8662" stop-color="#ff003b"/><stop offset="0.9085" stop-color="#ff004a"/><stop offset="0.9507" stop-color="#ff0069"/><stop offset="1" stop-color="#ff009b"/></linearGradient><linearGradient id="f53" gradientUnits="userSpaceOnUse" x1="25.5" x2="167.5"><stop offset="0" stop-color="#a300ff"/><stop offset="0.08451" stop-color="#2100ff"/><stop offset="0.1056" stop-color="#0400ff"/><stop offset="0.1127" stop-color="#0005ff"/><stop offset="0.1408" stop-color="#0023ff"/><stop offset="0.1761" stop-color="#003dff"/><stop offset="0.2113" stop-color="#004cff"/><stop offset="0.2535" stop-color="#0051ff"/><stop offset="0.2887" stop-color="#004cff"/><stop offset="0.331" stop-color="#003dff"/><stop offset="0.3732" stop-color="#0022ff"/><stop offset="0.4085" stop-color="#0002ff"/><stop offset="0.4577" stop-color="#3a00ff"/><stop offset="0.5563" stop-color="#ce00ff"/><stop offset="0.5915" stop-color="#fe00fd"/><stop offset="0.6549" stop-color="#ff00b2"/><stop offset="0.7183" stop-color="#ff0075"/><stop offset="0.7746" stop-color="#ff004e"/><stop offset="0.8239" stop-color="#ff003b"/><stop offset="0.8662" stop-color="#ff003b"/><stop offset="0.9085" stop-color="#ff004b"/><stop offset="0.9507" stop-color="#ff006f"/><stop offset="1" stop-color="#ff00ab"/></linearGradient><linearGradient id="f54" gradientUnits="userSpaceOnUse" x1="25.5" x2="167.5"><stop offset="0" stop-color="#a800ff"/><stop offset="0.07042" stop-color="#3300ff"/><stop offset="0.1056" stop-color="#0200ff"/><stop offset="0.1408" stop-color="#0022ff"/><stop offset="0.169" stop-color="#0035ff"/><stop offset="0.2042" stop-color="#0044ff"/><stop offset="0.2394" stop-color="#0049ff"/><stop offset="0.2817" stop-color="#0045ff"/><stop offset="0.3239" stop-color="#0036ff"/><stop offset="0.3592" stop-color="#0022ff"/><stop offset="0.4014" stop-color="#0101ff"/><stop offset="0.4296" stop-color="#1c00ff"/><stop offset="0.4648" stop-color="#4600ff"/><stop offset="0.5986" stop-color="#fd00fe"/><stop offset="0.6761" stop-color="#ff00a5"/><stop offset="0.7324" stop-color="#ff006e"/><stop offset="0.7817" stop-color="#ff004b"/><stop offset="0.831" stop-color="#ff0039"/><stop offset="0.8732" stop-color="#ff003a"/><stop offset="0.9155" stop-color="#ff0050"/><stop offset="0.9507" stop-color="#ff0073"/><stop offset="1" stop-color="#ff00ba"/></linearGradient><linearGradient id="f55" gradientUnits="userSpaceOnUse" x1="25.5" x2="167.5"><stop offset="0" stop-color="#ae00ff"/><stop offset="0.06338" stop-color="#3900ff"/><stop offset="0.08451" stop-color="#1900ff"/><stop offset="0.1056" stop-color="#0002ff"/><stop offset="0.1338" stop-color="#001dff"/><stop offset="0.162" stop-color="#0030ff"/><stop offset="0.1972" stop-color="#003eff"/><stop offset="0.2324" stop-color="#0042ff"/><stop offset="0.2676" stop-color="#0040ff"/><stop offset="0.3099" stop-color="#0034ff"/><stop offset="0.3521" stop-color="#001eff"/><stop offset="0.3873" stop-color="#0006ff"/><stop offset="0.4085" stop-color="#0c00ff"/><stop offset="0.4577" stop-color="#4000ff"/><stop offset="0.6056" stop-color="#fd00ff"/><stop offset="0.6901" stop-color="#ff009d"/><stop offset="0.7465" stop-color="#ff0065"/><stop offset="0.7958" stop-color="#ff0043"/><stop offset="0.8451" stop-color="#ff0034"/><stop offset="0.8873" stop-color="#ff003b"/><stop offset="0.9225" stop-color="#ff0053"/><stop offset="0.9577" stop-color="#ff0080"/><stop offset="1" stop-color="#ff00ca"/></linearGradient><linearGradient id="f56" gradientUnits="userSpaceOnUse" x1="25.5" x2="167.5"><stop offset="0" stop-color="#b700ff"/><stop offset="0.05634" stop-color="#3e00ff"/><stop offset="0.07746" stop-color="#1b00ff"/><stop offset="0.09859" stop-color="#0101ff"/><stop offset="0.1268" stop-color="#001bff"/><stop offset="0.1549" stop-color="#002dff"/><stop offset="0.1901" stop-color="#003aff"/><stop offset="0.2254" stop-color="#003eff"/><stop offset="0.2606" stop-color="#003bff"/><stop offset="0.3028" stop-color="#002fff"/><stop offset="0.3803" stop-color="#0004ff"/><stop offset="0.4085" stop-color="#1200ff"/><stop offset="0.4648" stop-color="#4900ff"/><stop offset="0.6127" stop-color="#fc00ff"/><stop offset="0.7113" stop-color="#ff008c"/><stop offset="0.7606" stop-color="#ff005a"/><stop offset="0.8099" stop-color="#ff0038"/><stop offset="0.8521" stop-color="#ff002d"/><stop offset="0.8944" stop-color="#ff0037"/><stop offset="0.9296" stop-color="#ff0055"/><stop offset="0.9577" stop-color="#ff0080"/><stop offset="1" stop-color="#ff00db"/></linearGradient><linearGradient id="f57" gradientUnits="userSpaceOnUse" x1="25.5" x2="167.5"><stop offset="0" stop-color="#c300ff"/><stop offset="0.02817" stop-color="#7500ff"/><stop offset="0.0493" stop-color="#4200ff"/><stop offset="0.07042" stop-color="#1a00ff"/><stop offset="0.09155" stop-color="#0003ff"/><stop offset="0.1197" stop-color="#001dff"/><stop offset="0.1479" stop-color="#002dff"/><stop offset="0.2113" stop-color="#003aff"/><stop offset="0.2887" stop-color="#002dff"/><stop offset="0.3732" stop-color="#0003ff"/><stop offset="0.4085" stop-color="#1700ff"/><stop offset="0.4648" stop-color="#4a00ff"/><stop offset="0.5352" stop-color="#9600ff"/><stop offset="0.6197" stop-color="#fa00ff"/><stop offset="0.6268" stop-color="#ff00fb"/><stop offset="0.7183" stop-color="#ff0087"/><stop offset="0.7676" stop-color="#ff0052"/><stop offset="0.8169" stop-color="#ff002f"/><stop offset="0.8592" stop-color="#ff0024"/><stop offset="0.9014" stop-color="#ff0031"/><stop offset="0.9225" stop-color="#ff0043"/><stop offset="0.9366" stop-color="#ff0056"/><stop offset="0.9648" stop-color="#ff008c"/><stop offset="1" stop-color="#ff00ec"/></linearGradient><linearGradient id="f58" gradientUnits="userSpaceOnUse" x1="25.5" x2="167.5"><stop offset="0" stop-color="#d100ff"/><stop offset="0.02817" stop-color="#6e00ff"/><stop offset="0.04225" stop-color="#4500ff"/><stop offset="0.06338" stop-color="#1600ff"/><stop offset="0.07746" stop-color="#0202ff"/><stop offset="0.1056" stop-color="#001dff"/><stop offset="0.1338" stop-color="#002eff"/><stop offset="0.1972" stop-color="#003aff"/><stop offset="0.2394" stop-color="#0036ff"/><stop offset="0.2817" stop-color="#002aff"/><stop offset="0.3662" stop-color="#0002ff"/><stop offset="0.4155" stop-color="#2000ff"/><stop offset="0.4789" stop-color="#5700ff"/><stop offset="0.5493" stop-color="#9f00ff"/><stop offset="0.6338" stop-color="#ff00fc"/><stop offset="0.7324" stop-color="#ff0078"/><stop offset="0.7746" stop-color="#ff0047"/><stop offset="0.8239" stop-color="#ff0023"/><stop offset="0.8662" stop-color="#ff0019"/><stop offset="0.9014" stop-color="#ff0023"/><stop offset="0.9225" stop-color="#ff0034"/><stop offset="0.9366" stop-color="#ff0047"/><stop offset="0.9507" stop-color="#ff0062"/><stop offset="0.9648" stop-color="#ff0085"/><stop offset="1" stop-color="#fc00fd"/></linearGradient><linearGradient id="f59" gradientUnits="userSpaceOnUse" x1="25.5" x2="167.5"><stop offset="0" stop-color="#e500ff"/><stop offset="0.02113" stop-color="#7e00ff"/><stop offset="0.03521" stop-color="#4500ff"/><stop offset="0.0493" stop-color="#1c00ff"/><stop offset="0.06338" stop-color="#0304ff"/><stop offset="0.08451" stop-color="#001cff"/><stop offset="0.1127" stop-color="#0030ff"/><stop offset="0.1408" stop-color="#0039ff"/><stop offset="0.1761" stop-color="#003cff"/><stop offset="0.2606" stop-color="#002dff"/><stop offset="0.3592" stop-color="#0001ff"/><stop offset="0.4225" stop-color="#2800ff"/><stop offset="0.5" stop-color="#6800ff"/><stop offset="0.5704" stop-color="#ad00ff"/><stop offset="0.6408" stop-color="#fe00fd"/><stop offset="0.7394" stop-color="#ff006d"/><stop offset="0.7817" stop-color="#ff003a"/><stop offset="0.831" stop-color="#ff0015"/><stop offset="0.8732" stop-color="#ff000a"/><stop offset="0.8944" stop-color="#ff000d"/><stop offset="0.9155" stop-color="#ff0019"/><stop offset="0.9296" stop-color="#ff0027"/><stop offset="0.9437" stop-color="#ff003d"/><stop offset="0.9577" stop-color="#ff005f"/><stop offset="0.9648" stop-color="#ff0075"/><stop offset="0.9789" stop-color="#ff00ad"/><stop offset="0.993" stop-color="#ff00f2"/><stop offset="1" stop-color="#e800ff"/></linearGradient><linearGradient id="f60" gradientUnits="userSpaceOnUse" x1="25.5" x2="167.5"><stop offset="0" stop-color="#fc00f8"/><stop offset="0.007042" stop-color="#cf00ff"/><stop offset="0.02113" stop-color="#6900ff"/><stop offset="0.02817" stop-color="#4100ff"/><stop offset="0.03521" stop-color="#2200ff"/><stop offset="0.04225" stop-color="#0b01ff"/><stop offset="0.0493" stop-color="#010aff"/><stop offset="0.06338" stop-color="#0021ff"/><stop offset="0.08451" stop-color="#0035ff"/><stop offset="0.1127" stop-color="#0040ff"/><stop offset="0.1479" stop-color="#0042ff"/><stop offset="0.2394" stop-color="#0031ff"/><stop offset="0.3451" stop-color="#0005ff"/><stop offset="0.3592" stop-color="#0300ff"/><stop offset="0.4085" stop-color="#2100ff"/><stop offset="0.507" stop-color="#6a00ff"/><stop offset="0.5845" stop-color="#b100ff"/><stop offset="0.6479" stop-color="#fe00fe"/><stop offset="0.6761" stop-color="#ff00d4"/><stop offset="0.7535" stop-color="#ff0056"/><stop offset="0.7958" stop-color="#ff0022"/><stop offset="0.838" stop-color="#ff0004"/><stop offset="0.8732" stop-color="#ff0800"/><stop offset="0.9014" stop-color="#ff0600"/><stop offset="0.9296" stop-color="#ff000a"/><stop offset="0.9437" stop-color="#ff001c"/><stop offset="0.9577" stop-color="#ff003c"/><stop offset="0.9648" stop-color="#ff0053"/><stop offset="0.9718" stop-color="#ff0071"/><stop offset="0.9789" stop-color="#ff0098"/><stop offset="0.993" stop-color="#fe00fd"/><stop offset="1" stop-color="#c900ff"/></linearGradient><linearGradient id="f61" gradientUnits="userSpaceOnUse" x1="25.5" x2="167.5"><stop offset="0" stop-color="#ff00b9"/><stop offset="0.007042" stop-color="#e100ff"/><stop offset="0.01408" stop-color="#7700ff"/><stop offset="0.02113" stop-color="#2c00ff"/><stop offset="0.02817" stop-color="#0b0dff"/><stop offset="0.03521" stop-color="#001fff"/><stop offset="0.04225" stop-color="#0031ff"/><stop offset="0.05634" stop-color="#0045ff"/><stop offset="0.07042" stop-color="#004eff"/><stop offset="0.09155" stop-color="#0052ff"/><stop offset="0.1338" stop-color="#004eff"/><stop offset="0.1972" stop-color="#003eff"/><stop offset="0.3521" stop-color="#0300ff"/><stop offset="0.4507" stop-color="#3d00ff"/><stop offset="0.5423" stop-color="#8000ff"/><stop offset="0.6056" stop-color="#bc00ff"/><stop offset="0.6549" stop-color="#fd00fe"/><stop offset="0.6761" stop-color="#ff00de"/><stop offset="0.7606" stop-color="#ff0043"/><stop offset="0.7817" stop-color="#ff0026"/><stop offset="0.8099" stop-color="#ff0008"/><stop offset="0.8239" stop-color="#ff0400"/><stop offset="0.8521" stop-color="#ff1400"/><stop offset="0.8873" stop-color="#ff1f00"/><stop offset="0.9225" stop-color="#ff1d00"/><stop offset="0.9437" stop-color="#ff1100"/><stop offset="0.9507" stop-color="#ff0c03"/><stop offset="0.9648" stop-color="#ff0015"/><stop offset="0.9718" stop-color="#ff0030"/><stop offset="0.9789" stop-color="#ff005b"/><stop offset="0.9859" stop-color="#ff00a0"/><stop offset="0.993" stop-color="#f700ff"/><stop offset="1" stop-color="#8c00ff"/></linearGradient><linearGradient id="f62" gradientUnits="userSpaceOnUse" x1="25.5" x2="167.5"><stop offset="0" stop-color="#ff4e19"/><stop offset="0.007042" stop-color="#bf807c"/><stop offset="0.01408" stop-color="#0275ff"/><stop offset="0.02113" stop-color="#0080ff"/><stop offset="0.03521" stop-color="#0083ff"/><stop offset="0.07746" stop-color="#0074ff"/><stop offset="0.338" stop-color="#0100ff"/><stop offset="0.4648" stop-color="#4500ff"/><stop offset="0.5563" stop-color="#8200ff"/><stop offset="0.6127" stop-color="#b600ff"/><stop offset="0.6408" stop-color="#da00ff"/><stop offset="0.662" stop-color="#fb00ff"/><stop offset="0.6831" stop-color="#ff00db"/><stop offset="0.7535" stop-color="#ff0045"/><stop offset="0.7746" stop-color="#ff0021"/><stop offset="0.7958" stop-color="#ff0006"/><stop offset="0.8099" stop-color="#ff0900"/><stop offset="0.8451" stop-color="#ff2300"/><stop offset="0.8873" stop-color="#ff3700"/><stop offset="0.9507" stop-color="#ff4900"/><stop offset="0.9789" stop-color="#ff4500"/><stop offset="0.9859" stop-color="#ff4e16"/><stop offset="0.993" stop-color="#ae8080"/><stop offset="1" stop-color="#0376ff"/></linearGradient><linearGradient id="f63" gradientUnits="userSpaceOnUse" x1="25.5" x2="167.5"><stop offset="0" stop-color="#a9ff00"/><stop offset="0.007042" stop-color="#28ff00"/><stop offset="0.01408" stop-color="#00ff63"/><stop offset="0.02113" stop-color="#00ffbc"/><stop offset="0.02817" stop-color="#00f9ea"/><stop offset="0.03521" stop-color="#00eafd"/><stop offset="0.0493" stop-color="#00c3ff"/><stop offset="0.07042" stop-color="#00a0ff"/><stop offset="0.09859" stop-color="#0083ff"/><stop offset="0.1338" stop-color="#0068ff"/><stop offset="0.3239" stop-color="#0003ff"/><stop offset="0.3873" stop-color="#1d00ff"/><stop offset="0.507" stop-color="#5900ff"/><stop offset="0.5775" stop-color="#8600ff"/><stop offset="0.6268" stop-color="#b600ff"/><stop offset="0.6479" stop-color="#d300ff"/><stop offset="0.669" stop-color="#f800ff"/><stop offset="0.6761" stop-color="#ff00f7"/><stop offset="0.6901" stop-color="#ff00d8"/><stop offset="0.7535" stop-color="#ff0038"/><stop offset="0.7817" stop-color="#ff0006"/><stop offset="0.7887" stop-color="#ff0500"/><stop offset="0.831" stop-color="#ff2e00"/><stop offset="0.9014" stop-color="#ff5800"/><stop offset="0.9296" stop-color="#ff6e00"/><stop offset="0.9437" stop-color="#ff7f00"/><stop offset="0.9577" stop-color="#ff9a00"/><stop offset="0.9648" stop-color="#ffae00"/><stop offset="0.9718" stop-color="#ffcb00"/><stop offset="0.9789" stop-color="#f3ec00"/><stop offset="0.9859" stop-color="#b8ff00"/><stop offset="0.993" stop-color="#38ff00"/><stop offset="1" stop-color="#00ff50"/></linearGradient><linearGradient id="f64" gradientUnits="userSpaceOnUse" x1="29.5" x2="163.5"><stop offset="0" stop-color="#00ffa3"/><stop offset="0.007463" stop-color="#00ffcb"/><stop offset="0.01493" stop-color="#00ffea"/><stop offset="0.02239" stop-color="#00f7fc"/><stop offset="0.02985" stop-color="#00e5ff"/><stop offset="0.04478" stop-color="#00c5ff"/><stop offset="0.06716" stop-color="#00a2ff"/><stop offset="0.1194" stop-color="#006eff"/><stop offset="0.2239" stop-color="#002cff"/><stop offset="0.306" stop-color="#0002ff"/><stop offset="0.3209" stop-color="#0500ff"/><stop offset="0.5299" stop-color="#5d00ff"/><stop offset="0.5896" stop-color="#7d00ff"/><stop offset="0.6418" stop-color="#ab00ff"/><stop offset="0.6642" stop-color="#ca00ff"/><stop offset="0.6866" stop-color="#f400ff"/><stop offset="0.694" stop-color="#ff00f8"/><stop offset="0.7015" stop-color="#ff00e6"/><stop offset="0.7537" stop-color="#ff004c"/><stop offset="0.7836" stop-color="#ff0008"/><stop offset="0.791" stop-color="#ff0600"/><stop offset="0.8284" stop-color="#ff3200"/><stop offset="0.9179" stop-color="#ff6d00"/><stop offset="0.9478" stop-color="#ff8a00"/><stop offset="0.9701" stop-color="#ffaf00"/><stop offset="0.9851" stop-color="#ffd700"/><stop offset="0.9925" stop-color="#fff200"/><stop offset="1" stop-color="#e8ff00"/></linearGradient><linearGradient id="f65" gradientUnits="userSpaceOnUse" x1="32.5" x2="160.5"><stop offset="0" stop-color="#00ffdf"/><stop offset="0.007812" stop-color="#00fff6"/><stop offset="0.01562" stop-color="#00f4ff"/><stop offset="0.03125" stop-color="#00d3ff"/><stop offset="0.05469" stop-color="#00adff"/><stop offset="0.1094" stop-color="#0071ff"/><stop offset="0.1953" stop-color="#0034ff"/><stop offset="0.2969" stop-color="#0200ff"/><stop offset="0.3984" stop-color="#2b00ff"/><stop offset="0.5547" stop-color="#5c00ff"/><stop offset="0.6094" stop-color="#7500ff"/><stop offset="0.6406" stop-color="#8c00ff"/><stop offset="0.6641" stop-color="#a600ff"/><stop offset="0.6875" stop-color="#cb00ff"/><stop offset="0.7031" stop-color="#ee00ff"/><stop offset="0.7109" stop-color="#fe00fa"/><stop offset="0.7188" stop-color="#ff00e2"/><stop offset="0.7578" stop-color="#ff0055"/><stop offset="0.7812" stop-color="#ff000e"/><stop offset="0.7891" stop-color="#ff0602"/><stop offset="0.8125" stop-color="#ff2c00"/><stop offset="0.8359" stop-color="#ff4500"/><stop offset="0.9219" stop-color="#ff7800"/><stop offset="0.9531" stop-color="#ff9300"/><stop offset="0.9766" stop-color="#ffb300"/><stop offset="1" stop-color="#ffe600"/></linearGradient><linearGradient id="f66" gradientUnits="userSpaceOnUse" x1="36.5" x2="157.5"><stop offset="0" stop-color="#00e6ff"/><stop offset="0.04132" stop-color="#00a5ff"/><stop offset="0.09917" stop-color="#0069ff"/><stop offset="0.1818" stop-color="#002eff"/><stop offset="0.2727" stop-color="#0300ff"/><stop offset="0.3802" stop-color="#2b00ff"/><stop offset="0.562" stop-color="#5200ff"/><stop offset="0.6281" stop-color="#6900ff"/><stop offset="0.6612" stop-color="#8000ff"/><stop offset="0.686" stop-color="#9c00ff"/><stop offset="0.7025" stop-color="#b900ff"/><stop offset="0.719" stop-color="#e400ff"/><stop offset="0.7273" stop-color="#fb00fa"/><stop offset="0.7355" stop-color="#ff00dc"/><stop offset="0.7686" stop-color="#ff003f"/><stop offset="0.7769" stop-color="#ff001d"/><stop offset="0.7851" stop-color="#ff0506"/><stop offset="0.7934" stop-color="#ff1700"/><stop offset="0.8099" stop-color="#ff3900"/><stop offset="0.8347" stop-color="#ff5600"/><stop offset="0.8595" stop-color="#ff6600"/><stop offset="0.9421" stop-color="#ff8c00"/><stop offset="0.9752" stop-color="#ffa800"/><stop offset="1" stop-color="#ffca00"/></linearGradient><linearGradient id="f67" gradientUnits="userSpaceOnUse" x1="39.5" x2="153.5"><stop offset="0" stop-color="#00c8ff"/><stop offset="0.04386" stop-color="#0090ff"/><stop offset="0.1053" stop-color="#0057ff"/><stop offset="0.1842" stop-color="#0021ff"/><stop offset="0.2368" stop-color="#0005ff"/><stop offset="0.2544" stop-color="#0400ff"/><stop offset="0.3246" stop-color="#2000ff"/><stop offset="0.3947" stop-color="#3200ff"/><stop offset="0.5965" stop-color="#4700ff"/><stop offset="0.6579" stop-color="#5600ff"/><stop offset="0.6842" stop-color="#6400ff"/><stop offset="0.7105" stop-color="#7d00ff"/><stop offset="0.7281" stop-color="#9b00ff"/><stop offset="0.7368" stop-color="#b200ff"/><stop offset="0.7456" stop-color="#d000ff"/><stop offset="0.7544" stop-color="#f500fb"/><stop offset="0.7632" stop-color="#ff00cf"/><stop offset="0.7807" stop-color="#ff004e"/><stop offset="0.7895" stop-color="#ff0015"/><stop offset="0.7982" stop-color="#ff1600"/><stop offset="0.807" stop-color="#ff3600"/><stop offset="0.8158" stop-color="#ff4d00"/><stop offset="0.8246" stop-color="#ff5e00"/><stop offset="0.8421" stop-color="#ff7200"/><stop offset="0.8684" stop-color="#ff8000"/><stop offset="0.9561" stop-color="#ff9400"/><stop offset="1" stop-color="#ffb000"/></linearGradient><linearGradient id="f68" gradientUnits="userSpaceOnUse" x1="43.5" x2="150.5"><stop offset="0" stop-color="#009fff"/><stop offset="0.04673" stop-color="#006fff"/><stop offset="0.09346" stop-color="#0049ff"/><stop offset="0.1589" stop-color="#001eff"/><stop offset="0.215" stop-color="#0101ff"/><stop offset="0.3084" stop-color="#2500ff"/><stop offset="0.3925" stop-color="#3600ff"/><stop offset="0.4579" stop-color="#3a00ff"/><stop offset="0.6262" stop-color="#3500ff"/><stop offset="0.7009" stop-color="#3e00ff"/><stop offset="0.729" stop-color="#4b00ff"/><stop offset="0.7477" stop-color="#6100ff"/><stop offset="0.757" stop-color="#7500ff"/><stop offset="0.7664" stop-color="#9900ff"/><stop offset="0.7757" stop-color="#dc00fd"/><stop offset="0.785" stop-color="#ff009a"/><stop offset="0.7944" stop-color="#ff1113"/><stop offset="0.8037" stop-color="#ff5000"/><stop offset="0.8131" stop-color="#ff7900"/><stop offset="0.8224" stop-color="#ff9000"/><stop offset="0.8411" stop-color="#ffa300"/><stop offset="0.8692" stop-color="#ffa900"/><stop offset="0.9533" stop-color="#ff9f00"/><stop offset="1" stop-color="#ffaa00"/></linearGradient><linearGradient id="f69" gradientUnits="userSpaceOnUse" x1="46.5" x2="146.5"><stop offset="0" stop-color="#0083ff"/><stop offset="0.09" stop-color="#0039ff"/><stop offset="0.19" stop-color="#0100ff"/><stop offset="0.3" stop-color="#2b00ff"/><stop offset="0.36" stop-color="#3700ff"/><stop offset="0.41" stop-color="#3a00ff"/><stop offset="0.51" stop-color="#3200ff"/><stop offset="0.73" stop-color="#0c01ff"/><stop offset="0.76" stop-color="#0a0cff"/><stop offset="0.78" stop-color="#081dff"/><stop offset="0.79" stop-color="#072eff"/><stop offset="0.8" stop-color="#0851ff"/><stop offset="0.81" stop-color="#2d80d2"/><stop offset="0.82" stop-color="#9bf600"/><stop offset="0.83" stop-color="#c9f700"/><stop offset="0.84" stop-color="#def600"/><stop offset="0.87" stop-color="#faef00"/><stop offset="0.88" stop-color="#ffec00"/><stop offset="0.95" stop-color="#ffbd00"/><stop offset="1" stop-color="#ffaf00"/></linearGradient><linearGradient id="f70" gradientUnits="userSpaceOnUse" x1="49.5" x2="143.5"><stop offset="0" stop-color="#0067ff"/><stop offset="0.08511" stop-color="#0028ff"/><stop offset="0.1596" stop-color="#0200ff"/><stop offset="0.2766" stop-color="#2f00ff"/><stop offset="0.3298" stop-color="#3a00ff"/><stop offset="0.383" stop-color="#3e00ff"/><stop offset="0.4787" stop-color="#3300ff"/><stop offset="0.6596" stop-color="#0501ff"/><stop offset="0.6915" stop-color="#0007ff"/><stop offset="0.7234" stop-color="#0018ff"/><stop offset="0.7447" stop-color="#0028ff"/><stop offset="0.766" stop-color="#0041ff"/><stop offset="0.7872" stop-color="#006bff"/><stop offset="0.7979" stop-color="#008dff"/><stop offset="0.8085" stop-color="#00beff"/><stop offset="0.8191" stop-color="#00faf3"/><stop offset="0.8298" stop-color="#00ff95"/><stop offset="0.8404" stop-color="#00ff2d"/><stop offset="0.8511" stop-color="#25ff00"/><stop offset="0.8617" stop-color="#5dff00"/><stop offset="0.8723" stop-color="#85ff00"/><stop offset="0.8936" stop-color="#bbff00"/><stop offset="0.9149" stop-color="#e0ff00"/><stop offset="0.9255" stop-color="#efff00"/><stop offset="0.9468" stop-color="#fff500"/><stop offset="1" stop-color="#ffc700"/></linearGradient><linearGradient id="f71" gradientUnits="userSpaceOnUse" x1="53.5" x2="139.5"><stop offset="0" stop-color="#0042ff"/><stop offset="0.06977" stop-color="#0016ff"/><stop offset="0.1163" stop-color="#0300ff"/><stop offset="0.186" stop-color="#2100ff"/><stop offset="0.2442" stop-color="#3400ff"/><stop offset="0.3488" stop-color="#4300ff"/><stop offset="0.4535" stop-color="#3700ff"/><stop offset="0.6279" stop-color="#0203ff"/><stop offset="0.7093" stop-color="#0024ff"/><stop offset="0.7442" stop-color="#003dff"/><stop offset="0.7674" stop-color="#0054ff"/><stop offset="0.7907" stop-color="#0076ff"/><stop offset="0.8023" stop-color="#008dff"/><stop offset="0.814" stop-color="#00aaff"/><stop offset="0.8372" stop-color="#00f8fe"/><stop offset="0.8488" stop-color="#00ffd1"/><stop offset="0.8837" stop-color="#00ff22"/><stop offset="0.8953" stop-color="#0fff00"/><stop offset="0.9186" stop-color="#5cff00"/><stop offset="0.9419" stop-color="#95ff00"/><stop offset="0.9651" stop-color="#c3ff00"/><stop offset="1" stop-color="#f8ff00"/></linearGradient><linearGradient id="f72" gradientUnits="userSpaceOnUse" x1="56.5" x2="136.5"><stop offset="0" stop-color="#0025ff"/><stop offset="0.0625" stop-color="#0002ff"/><stop offset="0.075" stop-color="#0400ff"/><stop offset="0.15" stop-color="#2500ff"/><stop offset="0.2125" stop-color="#3a00ff"/><stop offset="0.275" stop-color="#4700ff"/><stop offset="0.325" stop-color="#4b00ff"/><stop offset="0.375" stop-color="#4800ff"/><stop offset="0.4375" stop-color="#3b00ff"/><stop offset="0.6" stop-color="#0003ff"/><stop offset="0.7" stop-color="#0030ff"/><stop offset="0.7625" stop-color="#005bff"/><stop offset="0.7875" stop-color="#0076ff"/><stop offset="0.8125" stop-color="#009aff"/><stop offset="0.8375" stop-color="#00ccff"/><stop offset="0.85" stop-color="#00ebff"/><stop offset="0.8625" stop-color="#00ffef"/><stop offset="0.925" stop-color="#00ff20"/><stop offset="0.9375" stop-color="#08ff03"/><stop offset="0.975" stop-color="#67ff00"/><stop offset="1" stop-color="#9dff00"/></linearGradient><linearGradient id="f73" gradientUnits="userSpaceOnUse" x1="60.5" x2="132.5"><stop offset="0" stop-color="#0002ff"/><stop offset="0.09722" stop-color="#2a00ff"/><stop offset="0.1667" stop-color="#4100ff"/><stop offset="0.2361" stop-color="#5000ff"/><stop offset="0.3056" stop-color="#5500ff"/><stop offset="0.3611" stop-color="#5000ff"/><stop offset="0.4167" stop-color="#4300ff"/><stop offset="0.5694" stop-color="#0200ff"/><stop offset="0.7083" stop-color="#003eff"/><stop offset="0.7778" stop-color="#0068ff"/><stop offset="0.8333" stop-color="#009fff"/><stop offset="0.8611" stop-color="#00c6ff"/><stop offset="0.8889" stop-color="#00f7ff"/><stop offset="0.9028" stop-color="#00ffea"/><stop offset="0.9167" stop-color="#00ffcb"/><stop offset="0.9861" stop-color="#00ff22"/><stop offset="1" stop-color="#05ff05"/></linearGradient><linearGradient id="f74" gradientUnits="userSpaceOnUse" x1="63.5" x2="129.5"><stop offset="0" stop-color="#1c00ff"/><stop offset="0.09091" stop-color="#3e00ff"/><stop offset="0.1667" stop-color="#5300ff"/><stop offset="0.2424" stop-color="#5f00ff"/><stop offset="0.303" stop-color="#6000ff"/><stop offset="0.3636" stop-color="#5700ff"/><stop offset="0.4091" stop-color="#4a00ff"/><stop offset="0.5606" stop-color="#0102ff"/><stop offset="0.7424" stop-color="#0059ff"/><stop offset="0.803" stop-color="#007bff"/><stop offset="0.8636" stop-color="#00adff"/><stop offset="0.8939" stop-color="#00cfff"/><stop offset="0.9242" stop-color="#00f9ff"/><stop offset="0.9394" stop-color="#00ffee"/><stop offset="1" stop-color="#00ff83"/></linearGradient><linearGradient id="f75" gradientUnits="userSpaceOnUse" x1="67.5" x2="125.5"><stop offset="0" stop-color="#3f00ff"/><stop offset="0.1552" stop-color="#6700ff"/><stop offset="0.2241" stop-color="#6e00ff"/><stop offset="0.2931" stop-color="#6c00ff"/><stop offset="0.3448" stop-color="#6300ff"/><stop offset="0.3966" stop-color="#5200ff"/><stop offset="0.4483" stop-color="#3b00ff"/><stop offset="0.5517" stop-color="#0102ff"/><stop offset="0.6552" stop-color="#0038ff"/><stop offset="0.8621" stop-color="#0094ff"/><stop offset="0.9138" stop-color="#00b6ff"/><stop offset="0.9828" stop-color="#00f3ff"/><stop offset="1" stop-color="#00fff9"/></linearGradient><linearGradient id="f76" gradientUnits="userSpaceOnUse" x1="70.5" x2="122.5"><stop offset="0" stop-color="#5d00ff"/><stop offset="0.1538" stop-color="#7c00ff"/><stop offset="0.2308" stop-color="#7f00ff"/><stop offset="0.2885" stop-color="#7a00ff"/><stop offset="0.3462" stop-color="#6d00ff"/><stop offset="0.4038" stop-color="#5600ff"/><stop offset="0.5385" stop-color="#0300ff"/><stop offset="0.6731" stop-color="#0049ff"/><stop offset="0.9038" stop-color="#009fff"/><stop offset="1" stop-color="#00cfff"/></linearGradient><linearGradient id="f77" gradientUnits="userSpaceOnUse" x1="74.5" x2="118.5"><stop offset="0" stop-color="#8000ff"/><stop offset="0.1591" stop-color="#9300ff"/><stop offset="0.2273" stop-color="#9100ff"/><stop offset="0.2955" stop-color="#8600ff"/><stop offset="0.3636" stop-color="#6f00ff"/><stop offset="0.4091" stop-color="#5800ff"/><stop offset="0.5227" stop-color="#0c00ff"/><stop offset="0.5455" stop-color="#0005ff"/><stop offset="0.6364" stop-color="#003eff"/><stop offset="0.7273" stop-color="#0066ff"/><stop offset="1" stop-color="#00aeff"/></linearGradient><linearGradient id="f78" gradientUnits="userSpaceOnUse" x1="77.5" x2="115.5"><stop offset="0" stop-color="#9f00ff"/><stop offset="0.1579" stop-color="#aa00ff"/><stop offset="0.2368" stop-color="#a400ff"/><stop offset="0.2895" stop-color="#9900ff"/><stop offset="0.3421" stop-color="#8600ff"/><stop offset="0.3947" stop-color="#6b00ff"/><stop offset="0.4474" stop-color="#4700ff"/><stop offset="0.5263" stop-color="#0700ff"/><stop offset="0.5526" stop-color="#000eff"/><stop offset="0.6316" stop-color="#0046ff"/><stop offset="0.7368" stop-color="#0076ff"/><stop offset="0.8421" stop-color="#0091ff"/><stop offset="1" stop-color="#00a9ff"/></linearGradient><linearGradient id="f79" gradientUnits="userSpaceOnUse" x1="81.5" x2="112.5"><stop offset="0" stop-color="#c300ff"/><stop offset="0.1613" stop-color="#c300ff"/><stop offset="0.2258" stop-color="#b900ff"/><stop offset="0.2903" stop-color="#a500ff"/><stop offset="0.3548" stop-color="#8600ff"/><stop offset="0.3871" stop-color="#7100ff"/><stop offset="0.5161" stop-color="#0101ff"/><stop offset="0.6129" stop-color="#004eff"/><stop offset="0.7097" stop-color="#007fff"/><stop offset="0.8387" stop-color="#00a0ff"/><stop offset="1" stop-color="#00b0ff"/></linearGradient><linearGradient id="f80" gradientUnits="userSpaceOnUse" x1="84.5" x2="108.5"><stop offset="0" stop-color="#e700ff"/><stop offset="0.1667" stop-color="#e200ff"/><stop offset="0.25" stop-color="#d100ff"/><stop offset="0.2917" stop-color="#c400ff"/><stop offset="0.375" stop-color="#9700ff"/><stop offset="0.4167" stop-color="#7600ff"/><stop offset="0.5" stop-color="#2100ff"/><stop offset="0.5417" stop-color="#000eff"/><stop offset="0.625" stop-color="#005bff"/><stop offset="0.7083" stop-color="#008cff"/><stop offset="0.75" stop-color="#009cff"/><stop offset="0.8333" stop-color="#00b0ff"/><stop offset="1" stop-color="#00c1ff"/></linearGradient><linearGradient id="f81" gradientUnits="userSpaceOnUse" x1="88.5" x2="105.5"><stop offset="0" stop-color="#ff00ea"/><stop offset="0.1765" stop-color="#f800f3"/><stop offset="0.2353" stop-color="#f000f9"/><stop offset="0.2941" stop-color="#dd00ff"/><stop offset="0.3529" stop-color="#b600ff"/><stop offset="0.4118" stop-color="#7a00ff"/><stop offset="0.4706" stop-color="#2600ff"/><stop offset="0.5294" stop-color="#0030ff"/><stop offset="0.5882" stop-color="#0072ff"/><stop offset="0.6471" stop-color="#009dff"/><stop offset="0.7059" stop-color="#00b9ff"/><stop offset="0.8235" stop-color="#00d5ff"/><stop offset="1" stop-color="#00e2ff"/></linearGradient><linearGradient id="f82" gradientUnits="userSpaceOnUse" x1="91.5" x2="101.5"><stop offset="0" stop-color="#ff00a2"/><stop offset="0.2" stop-color="#ff00a4"/><stop offset="0.3" stop-color="#ff00b0"/><stop offset="0.4" stop-color="#eb00be"/><stop offset="0.5" stop-color="#8900ff"/><stop offset="0.6" stop-color="#00c0e0"/><stop offset="0.7" stop-color="#00e9dc"/><stop offset="0.8" stop-color="#00f9de"/><stop offset="1" stop-color="#00ffdf"/></linearGradient><linearGradient id="f83" gradientUnits="userSpaceOnUse" x1="92.5" x2="100.5"><stop offset="0" stop-color="#ff0049"/><stop offset="0.125" stop-color="#ff0031"/><stop offset="0.25" stop-color="#ff000c"/><stop offset="0.375" stop-color="#ff4000"/><stop offset="0.5" stop-color="#faff00"/><stop offset="0.625" stop-color="#18ff00"/><stop offset="0.75" stop-color="#00ff43"/><stop offset="0.875" stop-color="#00ff6c"/><stop offset="1" stop-color="#00ff85"/></linearGradient><clipPath id="cf"><path d="M96.6 442L26.6 482.4L26.6 563.2L96.6 603.6L166.6 563.2L166.6 482.4Z"/></clipPath></defs>
<filter id="bf" x="-5%" y="-5%" width="110%" height="110%"><feGaussianBlur stdDeviation="0 0.8"/></filter>
<g clip-path="url(#cf)"><g filter="url(#bf)"><rect x="92" y="440" width="9" height="2.6" fill="url(#f1)"/><rect x="90" y="442" width="13" height="2.6" fill="url(#f2)"/><rect x="87" y="444" width="19" height="2.6" fill="url(#f3)"/><rect x="83" y="446" width="27" height="2.6" fill="url(#f4)"/><rect x="80" y="448" width="33" height="2.6" fill="url(#f5)"/><rect x="77" y="450" width="40" height="2.6" fill="url(#f6)"/><rect x="73" y="452" width="47" height="2.6" fill="url(#f7)"/><rect x="70" y="454" width="54" height="2.6" fill="url(#f8)"/><rect x="66" y="456" width="61" height="2.6" fill="url(#f9)"/><rect x="63" y="458" width="68" height="2.6" fill="url(#f10)"/><rect x="59" y="460" width="75" height="2.6" fill="url(#f11)"/><rect x="56" y="462" width="81" height="2.6" fill="url(#f12)"/><rect x="52" y="464" width="89" height="2.6" fill="url(#f13)"/><rect x="49" y="466" width="95" height="2.6" fill="url(#f14)"/><rect x="45" y="468" width="103" height="2.6" fill="url(#f15)"/><rect x="42" y="470" width="109" height="2.6" fill="url(#f16)"/><rect x="38" y="472" width="117" height="2.6" fill="url(#f17)"/><rect x="35" y="474" width="123" height="2.6" fill="url(#f18)"/><rect x="31" y="476" width="131" height="2.6" fill="url(#f19)"/><rect x="28" y="478" width="137" height="2.6" fill="url(#f20)"/><rect x="25" y="480" width="143" height="2.6" fill="url(#f21)"/><rect x="25" y="482" width="143" height="2.6" fill="url(#f22)"/><rect x="25" y="484" width="143" height="2.6" fill="url(#f23)"/><rect x="25" y="486" width="143" height="2.6" fill="url(#f24)"/><rect x="25" y="488" width="143" height="2.6" fill="url(#f25)"/><rect x="25" y="490" width="143" height="2.6" fill="url(#f26)"/><rect x="25" y="492" width="143" height="2.6" fill="url(#f27)"/><rect x="25" y="494" width="143" height="2.6" fill="url(#f28)"/><rect x="25" y="496" width="143" height="2.6" fill="url(#f29)"/><rect x="25" y="498" width="143" height="2.6" fill="url(#f30)"/><rect x="25" y="500" width="143" height="2.6" fill="url(#f31)"/><rect x="25" y="502" width="143" height="2.6" fill="url(#f32)"/><rect x="25" y="504" width="143" height="2.6" fill="url(#f33)"/><rect x="25" y="506" width="143" height="2.6" fill="url(#f34)"/><rect x="25" y="508" width="143" height="2.6" fill="url(#f35)"/><rect x="25" y="510" width="143" height="2.6" fill="url(#f36)"/><rect x="25" y="512" width="143" height="2.6" fill="url(#f37)"/><rect x="25" y="514" width="143" height="2.6" fill="url(#f38)"/><rect x="25" y="516" width="143" height="2.6" fill="url(#f39)"/><rect x="25" y="518" width="143" height="2.6" fill="url(#f40)"/><rect x="25" y="520" width="143" height="2.6" fill="url(#f41)"/><rect x="25" y="522" width="143" height="2.6" fill="url(#f42)"/><rect x="25" y="524" width="143" height="2.6" fill="url(#f43)"/><rect x="25" y="526" width="143" height="2.6" fill="url(#f44)"/><rect x="25" y="528" width="143" height="2.6" fill="url(#f45)"/><rect x="25" y="530" width="143" height="2.6" fill="url(#f46)"/><rect x="25" y="532" width="143" height="2.6" fill="url(#f47)"/><rect x="25" y="534" width="143" height="2.6" fill="url(#f48)"/><rect x="25" y="536" width="143" height="2.6" fill="url(#f49)"/><rect x="25" y="538" width="143" height="2.6" fill="url(#f50)"/><rect x="25" y="540" width="143" height="2.6" fill="url(#f51)"/><rect x="25" y="542" width="143" height="2.6" fill="url(#f52)"/><rect x="25" y="544" width="143" height="2.6" fill="url(#f53)"/><rect x="25" y="546" width="143" height="2.6" fill="url(#f54)"/><rect x="25" y="548" width="143" height="2.6" fill="url(#f55)"/><rect x="25" y="550" width="143" height="2.6" fill="url(#f56)"/><rect x="25" y="552" width="143" height="2.6" fill="url(#f57)"/><rect x="25" y="554" width="143" height="2.6" fill="url(#f58)"/><rect x="25" y="556" width="143" height="2.6" fill="url(#f59)"/><rect x="25" y="558" width="143" height="2.6" fill="url(#f60)"/><rect x="25" y="560" width="143" height="2.6" fill="url(#f61)"/><rect x="25" y="562" width="143" height="2.6" fill="url(#f62)"/><rect x="25" y="564" width="143" height="2.6" fill="url(#f63)"/><rect x="29" y="566" width="135" height="2.6" fill="url(#f64)"/><rect x="32" y="568" width="129" height="2.6" fill="url(#f65)"/><rect x="36" y="570" width="122" height="2.6" fill="url(#f66)"/><rect x="39" y="572" width="115" height="2.6" fill="url(#f67)"/><rect x="43" y="574" width="108" height="2.6" fill="url(#f68)"/><rect x="46" y="576" width="101" height="2.6" fill="url(#f69)"/><rect x="49" y="578" width="95" height="2.6" fill="url(#f70)"/><rect x="53" y="580" width="87" height="2.6" fill="url(#f71)"/><rect x="56" y="582" width="81" height="2.6" fill="url(#f72)"/><rect x="60" y="584" width="73" height="2.6" fill="url(#f73)"/><rect x="63" y="586" width="67" height="2.6" fill="url(#f74)"/><rect x="67" y="588" width="59" height="2.6" fill="url(#f75)"/><rect x="70" y="590" width="53" height="2.6" fill="url(#f76)"/><rect x="74" y="592" width="45" height="2.6" fill="url(#f77)"/><rect x="77" y="594" width="39" height="2.6" fill="url(#f78)"/><rect x="81" y="596" width="32" height="2.6" fill="url(#f79)"/><rect x="84" y="598" width="25" height="2.6" fill="url(#f80)"/><rect x="88" y="600" width="18" height="2.6" fill="url(#f81)"/><rect x="91" y="602" width="11" height="2.6" fill="url(#f82)"/><rect x="92" y="604" width="9" height="1.6" fill="url(#f83)"/></g></g>
<path d="M96.6 442L26.6 482.4L26.6 563.2L96.6 603.6L166.6 563.2L166.6 482.4Z" fill="none" stroke="#000" stroke-width="1.6" stroke-linejoin="miter"/>
<g fill="#808080"><circle cx="96.4" cy="522.7" r="3.1"/><circle cx="35.6" cy="522.7" r="3.1"/><circle cx="127.4" cy="469.7" r="3.1"/><circle cx="127.4" cy="576" r="3.1"/><circle cx="96.6" cy="603.7" r="3.1"/><circle cx="167.1" cy="563.4" r="3.1"/></g>
<g stroke="#0000ff" stroke-width="1.4" fill="none">
<path d="M99.6 514.3h14.8M107 506.9v14.8"/>
<path d="M102.8 609.1h14.8M110.2 601.7v14.8"/>
<path d="M165.2 576h14.8M172.6 568.6v14.8"/>
</g>
<g stroke="#e8141e" stroke-width="1.6" fill="none">
<path d="M37.7 516.7H49.1"/>
<path d="M113.3 475.8H124.7"/>
<path d="M113.9 581.1H125.3"/>
</g>
<circle cx="145.3" cy="435.4" r="14.5" fill="none" stroke="#ff0000" stroke-width="11"/><path d="M154.3 435.4L165.3 435.4L165 431.9L154.2 433.8Z" fill="#ff0d00"/><path d="M154.3 434.5L165.2 433.3L164.5 429.9L154 432.9Z" fill="#ff2600"/><path d="M154.1 433.5L164.9 431.2L163.8 427.9L153.6 432Z" fill="#ff4000"/><path d="M153.9 432.6L164.3 429.2L163 426L153.2 431.2Z" fill="#ff5900"/><path d="M153.5 431.7L163.6 427.3L161.9 424.2L152.8 430.4Z" fill="#ff7300"/><path d="M153.1 430.9L162.6 425.4L160.6 422.5L152.2 429.6Z" fill="#ff8c00"/><path d="M152.6 430.1L161.5 423.6L159.2 421L151.6 428.9Z" fill="#ffa600"/><path d="M152 429.4L160.2 422L157.6 419.6L150.8 428.3Z" fill="#ffbf00"/><path d="M151.3 428.7L158.7 420.5L155.9 418.4L150.1 427.8Z" fill="#ffd900"/><path d="M150.6 428.1L157.1 419.2L154.1 417.4L149.2 427.3Z" fill="#fff200"/><path d="M149.8 427.6L155.3 418.1L152.1 416.6L148.4 426.9Z" fill="#f2ff00"/><path d="M149 427.2L153.4 417.1L150.1 416L147.5 426.7Z" fill="#d9ff00"/><path d="M148.1 426.8L151.5 416.4L148.1 415.6L146.6 426.5Z" fill="#bfff00"/><path d="M147.2 426.6L149.5 415.8L146 415.4L145.6 426.4Z" fill="#a6ff00"/><path d="M146.2 426.4L147.4 415.5L143.9 415.4L144.7 426.4Z" fill="#8cff00"/><path d="M145.3 426.4L145.3 415.4L141.8 415.7L143.7 426.5Z" fill="#73ff00"/><path d="M144.4 426.4L143.2 415.5L139.8 416.2L142.8 426.7Z" fill="#59ff00"/><path d="M143.4 426.6L141.1 415.8L137.8 416.9L141.9 427.1Z" fill="#40ff00"/><path d="M142.5 426.8L139.1 416.4L135.9 417.7L141.1 427.5Z" fill="#26ff00"/><path d="M141.6 427.2L137.2 417.1L134.1 418.8L140.3 427.9Z" fill="#0dff00"/><path d="M140.8 427.6L135.3 418.1L132.4 420.1L139.5 428.5Z" fill="#00ff0d"/><path d="M140 428.1L133.5 419.2L130.9 421.5L138.8 429.1Z" fill="#00ff26"/><path d="M139.3 428.7L131.9 420.5L129.5 423.1L138.2 429.9Z" fill="#00ff40"/><path d="M138.6 429.4L130.4 422L128.3 424.8L137.7 430.6Z" fill="#00ff59"/><path d="M138 430.1L129.1 423.6L127.3 426.6L137.2 431.5Z" fill="#00ff73"/><path d="M137.5 430.9L128 425.4L126.5 428.6L136.8 432.3Z" fill="#00ff8c"/><path d="M137.1 431.7L127 427.3L125.9 430.6L136.6 433.2Z" fill="#00ffa6"/><path d="M136.7 432.6L126.3 429.2L125.5 432.6L136.4 434.1Z" fill="#00ffbf"/><path d="M136.5 433.5L125.7 431.2L125.3 434.7L136.3 435.1Z" fill="#00ffd9"/><path d="M136.3 434.5L125.4 433.3L125.3 436.8L136.3 436Z" fill="#00fff2"/><path d="M136.3 435.4L125.3 435.4L125.6 438.9L136.4 437Z" fill="#00f2ff"/><path d="M136.3 436.3L125.4 437.5L126.1 440.9L136.6 437.9Z" fill="#00d9ff"/><path d="M136.5 437.3L125.7 439.6L126.8 442.9L137 438.8Z" fill="#00bfff"/><path d="M136.7 438.2L126.3 441.6L127.6 444.8L137.4 439.6Z" fill="#00a6ff"/><path d="M137.1 439.1L127 443.5L128.7 446.6L137.8 440.4Z" fill="#008cff"/><path d="M137.5 439.9L128 445.4L130 448.3L138.4 441.2Z" fill="#0073ff"/><path d="M138 440.7L129.1 447.2L131.4 449.8L139 441.9Z" fill="#0059ff"/><path d="M138.6 441.4L130.4 448.8L133 451.2L139.8 442.5Z" fill="#0040ff"/><path d="M139.3 442.1L131.9 450.3L134.7 452.4L140.5 443Z" fill="#0026ff"/><path d="M140 442.7L133.5 451.6L136.5 453.4L141.4 443.5Z" fill="#000dff"/><path d="M140.8 443.2L135.3 452.7L138.5 454.2L142.2 443.9Z" fill="#0d00ff"/><path d="M141.6 443.6L137.2 453.7L140.5 454.8L143.1 444.1Z" fill="#2600ff"/><path d="M142.5 444L139.1 454.4L142.5 455.2L144 444.3Z" fill="#4000ff"/><path d="M143.4 444.2L141.1 455L144.6 455.4L145 444.4Z" fill="#5900ff"/><path d="M144.4 444.4L143.2 455.3L146.7 455.4L145.9 444.4Z" fill="#7300ff"/><path d="M145.3 444.4L145.3 455.4L148.8 455.1L146.9 444.3Z" fill="#8c00ff"/><path d="M146.2 444.4L147.4 455.3L150.8 454.6L147.8 444.1Z" fill="#a600ff"/><path d="M147.2 444.2L149.5 455L152.8 453.9L148.7 443.7Z" fill="#bf00ff"/><path d="M148.1 444L151.5 454.4L154.7 453.1L149.5 443.3Z" fill="#d900ff"/><path d="M149 443.6L153.4 453.7L156.5 452L150.3 442.9Z" fill="#f200ff"/><path d="M149.8 443.2L155.3 452.7L158.2 450.7L151.1 442.3Z" fill="#ff00f2"/><path d="M150.6 442.7L157.1 451.6L159.7 449.3L151.8 441.7Z" fill="#ff00d9"/><path d="M151.3 442.1L158.7 450.3L161.1 447.7L152.4 440.9Z" fill="#ff00bf"/><path d="M152 441.4L160.2 448.8L162.3 446L152.9 440.2Z" fill="#ff00a6"/><path d="M152.6 440.7L161.5 447.2L163.3 444.2L153.4 439.3Z" fill="#ff008c"/><path d="M153.1 439.9L162.6 445.4L164.1 442.2L153.8 438.5Z" fill="#ff0073"/><path d="M153.5 439.1L163.6 443.5L164.7 440.2L154 437.6Z" fill="#ff0059"/><path d="M153.9 438.2L164.3 441.6L165.1 438.2L154.2 436.7Z" fill="#ff0040"/><path d="M154.1 437.3L164.9 439.6L165.3 436.1L154.3 435.7Z" fill="#ff0026"/><path d="M154.3 436.3L165.2 437.5L165.3 435.4L154.3 435.4Z" fill="#ff000d"/>
<circle cx="145.3" cy="435.4" r="20" fill="none" stroke="#000" stroke-width="1.4"/><circle cx="145.3" cy="435.4" r="9" fill="#fff" stroke="#000" stroke-width="1.4"/>
<path d="M145.3 420V412C153 410 162 414 166.3 421.5" fill="none" stroke="#808080" stroke-width="1.1"/>
<path transform="translate(168,424.6) rotate(60)" d="M0 0L-8 -2.6L-6.4 0L-8 2.6Z" fill="#808080"/>
<text transform="translate(160,410) scale(1.18,1)" font-family="Liberation Serif,serif" font-size="19.5" font-style="italic" fill="#555">φ<tspan font-size="12.5" dy="3" font-weight="bold">k</tspan></text>
<!-- pg -->
<rect x="256.9" y="412.3" width="76.5" height="188.9" fill="#f1f1f1"/>
<rect x="256.9" y="408.1" width="76.5" height="4.2" fill="#a0a0a0"/>
<rect x="333.4" y="412.3" width="142.2" height="188.9" fill="#d5e5fd"/>
<rect x="333.4" y="408.1" width="142.2" height="4.2" fill="#0000ff"/>
<rect x="475.6" y="412.3" width="96.3" height="188.9" fill="#fee5d6"/>
<rect x="475.6" y="408.1" width="96.3" height="4.2" fill="#ff0000"/>
<rect x="571.9" y="412.3" width="60.4" height="188.9" fill="#d5e5fd"/>
<rect x="571.9" y="408.1" width="60.4" height="4.2" fill="#0000ff"/>
<rect x="632.3" y="412.3" width="12.9" height="188.9" fill="#fee5d6"/>
<rect x="632.3" y="408.1" width="12.9" height="4.2" fill="#ff0000"/>
<rect x="645.2" y="412.3" width="34" height="188.9" fill="#f1f1f1"/>
<rect x="645.2" y="408.1" width="34" height="4.2" fill="#a0a0a0"/>
<g stroke="#555" stroke-width="0.9"><line x1="333.4" x2="333.4" y1="412.3" y2="601.2"/><line x1="475.6" x2="475.6" y1="412.3" y2="601.2"/><line x1="571.9" x2="571.9" y1="412.3" y2="601.2"/><line x1="632.3" x2="632.3" y1="412.3" y2="601.2"/><line x1="645.2" x2="645.2" y1="412.3" y2="601.2"/></g>
<line x1="256.9" x2="679.2" y1="544.4" y2="544.4" stroke="#808080" stroke-width="0.8"/>
<path d="M256.9 408.1V601.2H679.2V408.1" fill="none" stroke="#666" stroke-width="1"/>
<g stroke="#555" stroke-width="0.7"><line x1="253.4" x2="253.4" y1="601.2" y2="599.2"/><line x1="253.4" x2="253.4" y1="530.6" y2="528.6"/><line x1="253.4" x2="253.4" y1="530.6" y2="532.6"/><line x1="277.1" x2="277.1" y1="601.2" y2="599.2"/><line x1="277.1" x2="277.1" y1="530.6" y2="528.6"/><line x1="277.1" x2="277.1" y1="530.6" y2="532.6"/><line x1="300.8" x2="300.8" y1="601.2" y2="599.2"/><line x1="300.8" x2="300.8" y1="530.6" y2="528.6"/><line x1="300.8" x2="300.8" y1="530.6" y2="532.6"/><line x1="324.5" x2="324.5" y1="601.2" y2="598"/><line x1="324.5" x2="324.5" y1="530.6" y2="527.4"/><line x1="324.5" x2="324.5" y1="530.6" y2="533.8"/><line x1="348.2" x2="348.2" y1="601.2" y2="599.2"/><line x1="348.2" x2="348.2" y1="530.6" y2="528.6"/><line x1="348.2" x2="348.2" y1="530.6" y2="532.6"/><line x1="371.9" x2="371.9" y1="601.2" y2="599.2"/><line x1="371.9" x2="371.9" y1="530.6" y2="528.6"/><line x1="371.9" x2="371.9" y1="530.6" y2="532.6"/><line x1="395.6" x2="395.6" y1="601.2" y2="599.2"/><line x1="395.6" x2="395.6" y1="530.6" y2="528.6"/><line x1="395.6" x2="395.6" y1="530.6" y2="532.6"/><line x1="419.3" x2="419.3" y1="601.2" y2="599.2"/><line x1="419.3" x2="419.3" y1="530.6" y2="528.6"/><line x1="419.3" x2="419.3" y1="530.6" y2="532.6"/><line x1="443" x2="443" y1="601.2" y2="598"/><line x1="443" x2="443" y1="530.6" y2="527.4"/><line x1="443" x2="443" y1="530.6" y2="533.8"/><line x1="466.7" x2="466.7" y1="601.2" y2="599.2"/><line x1="466.7" x2="466.7" y1="530.6" y2="528.6"/><line x1="466.7" x2="466.7" y1="530.6" y2="532.6"/><line x1="490.4" x2="490.4" y1="601.2" y2="599.2"/><line x1="490.4" x2="490.4" y1="530.6" y2="528.6"/><line x1="490.4" x2="490.4" y1="530.6" y2="532.6"/><line x1="514.1" x2="514.1" y1="601.2" y2="599.2"/><line x1="514.1" x2="514.1" y1="530.6" y2="528.6"/><line x1="514.1" x2="514.1" y1="530.6" y2="532.6"/><line x1="537.8" x2="537.8" y1="601.2" y2="599.2"/><line x1="537.8" x2="537.8" y1="530.6" y2="528.6"/><line x1="537.8" x2="537.8" y1="530.6" y2="532.6"/><line x1="561.5" x2="561.5" y1="601.2" y2="598"/><line x1="561.5" x2="561.5" y1="530.6" y2="527.4"/><line x1="561.5" x2="561.5" y1="530.6" y2="533.8"/><line x1="585.2" x2="585.2" y1="601.2" y2="599.2"/><line x1="585.2" x2="585.2" y1="530.6" y2="528.6"/><line x1="585.2" x2="585.2" y1="530.6" y2="532.6"/><line x1="608.9" x2="608.9" y1="601.2" y2="599.2"/><line x1="608.9" x2="608.9" y1="530.6" y2="528.6"/><line x1="608.9" x2="608.9" y1="530.6" y2="532.6"/><line x1="632.6" x2="632.6" y1="601.2" y2="599.2"/><line x1="632.6" x2="632.6" y1="530.6" y2="528.6"/><line x1="632.6" x2="632.6" y1="530.6" y2="532.6"/><line x1="656.3" x2="656.3" y1="601.2" y2="599.2"/><line x1="656.3" x2="656.3" y1="530.6" y2="528.6"/><line x1="656.3" x2="656.3" y1="530.6" y2="532.6"/><line x1="256.9" x2="260.1" y1="530.5" y2="530.5"/><line x1="256.9" x2="258.7" y1="522.6" y2="522.6"/><line x1="256.9" x2="258.7" y1="514.8" y2="514.8"/><line x1="256.9" x2="258.7" y1="506.9" y2="506.9"/><line x1="256.9" x2="258.7" y1="499.1" y2="499.1"/><line x1="256.9" x2="260.1" y1="491.2" y2="491.2"/><line x1="256.9" x2="258.7" y1="483.3" y2="483.3"/><line x1="256.9" x2="258.7" y1="475.5" y2="475.5"/><line x1="256.9" x2="258.7" y1="467.6" y2="467.6"/><line x1="256.9" x2="258.7" y1="459.8" y2="459.8"/><line x1="256.9" x2="260.1" y1="451.9" y2="451.9"/><line x1="256.9" x2="258.7" y1="444" y2="444"/><line x1="256.9" x2="258.7" y1="436.2" y2="436.2"/><line x1="256.9" x2="258.7" y1="428.3" y2="428.3"/><line x1="256.9" x2="258.7" y1="420.5" y2="420.5"/><line x1="256.9" x2="260.1" y1="412.6" y2="412.6"/><line x1="256.9" x2="258.7" y1="599.3" y2="599.3"/><line x1="256.9" x2="260.1" y1="595.9" y2="595.9"/><line x1="256.9" x2="258.7" y1="592.4" y2="592.4"/><line x1="256.9" x2="258.7" y1="589" y2="589"/><line x1="256.9" x2="258.7" y1="585.6" y2="585.6"/><line x1="256.9" x2="258.7" y1="582.1" y2="582.1"/><line x1="256.9" x2="260.1" y1="578.7" y2="578.7"/><line x1="256.9" x2="258.7" y1="575.3" y2="575.3"/><line x1="256.9" x2="258.7" y1="571.8" y2="571.8"/><line x1="256.9" x2="258.7" y1="568.4" y2="568.4"/><line x1="256.9" x2="258.7" y1="565" y2="565"/><line x1="256.9" x2="260.1" y1="561.5" y2="561.5"/><line x1="256.9" x2="258.7" y1="558.1" y2="558.1"/><line x1="256.9" x2="258.7" y1="554.7" y2="554.7"/><line x1="256.9" x2="258.7" y1="551.3" y2="551.3"/><line x1="256.9" x2="258.7" y1="547.8" y2="547.8"/><line x1="256.9" x2="260.1" y1="544.4" y2="544.4"/><line x1="256.9" x2="258.7" y1="541" y2="541"/><line x1="256.9" x2="258.7" y1="537.5" y2="537.5"/><line x1="679.2" x2="677.4" y1="534" y2="534"/><line x1="679.2" x2="677.4" y1="535.6" y2="535.6"/><line x1="679.2" x2="677.4" y1="537.2" y2="537.2"/><line x1="679.2" x2="677.4" y1="538.8" y2="538.8"/><line x1="679.2" x2="677.4" y1="540.4" y2="540.4"/><line x1="679.2" x2="677.4" y1="542" y2="542"/><line x1="679.2" x2="677.4" y1="543.6" y2="543.6"/><line x1="679.2" x2="677.4" y1="545.2" y2="545.2"/><line x1="679.2" x2="677.4" y1="546.8" y2="546.8"/><line x1="679.2" x2="677.4" y1="548.4" y2="548.4"/><line x1="679.2" x2="677.4" y1="550" y2="550"/><line x1="679.2" x2="677.4" y1="551.6" y2="551.6"/><line x1="679.2" x2="677.4" y1="553.2" y2="553.2"/><line x1="679.2" x2="677.4" y1="554.8" y2="554.8"/><line x1="679.2" x2="677.4" y1="556.4" y2="556.4"/><line x1="679.2" x2="677.4" y1="558" y2="558"/><line x1="679.2" x2="677.4" y1="559.6" y2="559.6"/><line x1="679.2" x2="677.4" y1="561.2" y2="561.2"/><line x1="679.2" x2="677.4" y1="562.8" y2="562.8"/><line x1="679.2" x2="677.4" y1="564.4" y2="564.4"/><line x1="679.2" x2="677.4" y1="566" y2="566"/><line x1="679.2" x2="677.4" y1="567.6" y2="567.6"/><line x1="679.2" x2="677.4" y1="569.2" y2="569.2"/><line x1="679.2" x2="677.4" y1="570.8" y2="570.8"/><line x1="679.2" x2="677.4" y1="572.4" y2="572.4"/><line x1="679.2" x2="677.4" y1="574" y2="574"/><line x1="679.2" x2="677.4" y1="575.6" y2="575.6"/><line x1="679.2" x2="677.4" y1="577.2" y2="577.2"/><line x1="679.2" x2="677.4" y1="578.8" y2="578.8"/><line x1="679.2" x2="677.4" y1="580.4" y2="580.4"/><line x1="679.2" x2="677.4" y1="582" y2="582"/><line x1="679.2" x2="677.4" y1="583.6" y2="583.6"/><line x1="679.2" x2="677.4" y1="585.2" y2="585.2"/><line x1="679.2" x2="677.4" y1="586.8" y2="586.8"/><line x1="679.2" x2="677.4" y1="588.4" y2="588.4"/><line x1="679.2" x2="677.4" y1="590" y2="590"/><line x1="679.2" x2="677.4" y1="591.6" y2="591.6"/><line x1="679.2" x2="677.4" y1="593.2" y2="593.2"/><line x1="679.2" x2="677.4" y1="594.8" y2="594.8"/><line x1="679.2" x2="677.4" y1="596.4" y2="596.4"/><line x1="679.2" x2="677.4" y1="598" y2="598"/><line x1="679.2" x2="677.4" y1="599.6" y2="599.6"/></g>
<path d="M264.8 416.1L333.2 530.4L475.6 530.4" fill="none" stroke="#ff0000" stroke-width="2" stroke-linejoin="round"/>
<path d="M475.6 530.4C476.3 529.2 478.4 525.6 480 523C481.6 520.4 483.4 517.2 485 514.5C486.6 511.8 488.2 508.8 489.5 506.5C490.8 504.2 491.8 502.2 493 500.5C494.2 498.8 495.3 497.6 497 496.5C498.7 495.4 501 494.5 503 493.8C505 493.1 507.2 492.7 509 492.4C510.8 492.1 512.2 492 514 492C515.8 492 517.7 492.1 520 492.5C522.3 492.9 525.3 493.6 528 494.5C530.7 495.4 533.3 496.6 536 498C538.7 499.4 541.3 501.1 544 503C546.7 504.9 549.5 507.2 552 509.5C554.5 511.8 556.8 514.2 559 516.5C561.2 518.8 563 520.7 565 523C567 525.3 570 529.2 571 530.4" fill="none" stroke="#ff0000" stroke-width="2" stroke-linejoin="round"/>
<path d="M571 530.4L632.3 530.4L636.8 526.3L640 529.6L670.5 482.3" fill="none" stroke="#ff0000" stroke-width="2" stroke-linejoin="round"/>
<line x1="256.9" x2="679.2" y1="530.6" y2="530.6" stroke="#222" stroke-width="1.4"/>
<path d="M265 597.7L638.4 544.4L670.5 549.5" fill="none" stroke="#000" stroke-width="1.2" stroke-linejoin="round"/>
<path d="M265 589L605.3 540.5L670.5 548.9" fill="none" stroke="#ff8000" stroke-width="1.6" stroke-linejoin="round"/>
<path d="M265 554L404.7 534.1L670.5 571.7" fill="none" stroke="#0000ff" stroke-width="1.6" stroke-linejoin="round"/>
<path d="M406.4 446.2L382.3 460.1L382.3 487.9L406.4 501.8L430.5 487.9L430.5 460.1Z" fill="none" stroke="#000" stroke-width="1.2"/>
<path d="M602.1 446.6L578 460.5L578 488.3L602.1 502.2L626.2 488.3L626.2 460.5Z" fill="none" stroke="#000" stroke-width="1.2"/>
<path d="M410.5 474c0 3.2 -1.5 4.9 -3.6 4.9c-2.6 0 -5.2 -2.6 -5.2 -4.9c0 -2.3 2.6 -4.9 5.2 -4.9c2.1 0 3.6 1.7 3.6 4.9z" fill="none" stroke="#0000ff" stroke-width="1.3"/>
<g fill="none" stroke="#0000ff" stroke-width="1.3"><ellipse cx="581.3" cy="474.4" rx="1.9" ry="4.9"/><ellipse cx="612.7" cy="456.4" rx="1.9" ry="4.9" transform="rotate(-60 612.7 456.4)"/><ellipse cx="612.7" cy="492.5" rx="1.9" ry="4.9" transform="rotate(60 612.7 492.5)"/></g>
<text transform="translate(297,404) scale(1.1,1)" font-family="Liberation Serif,serif" font-size="14.5" fill="#a0a0a0" text-anchor="middle">BEC/BI</text>
<text transform="translate(402,404) scale(1.12,1)" font-family="Liberation Serif,serif" font-size="14.5" fill="#0000ff" text-anchor="middle">nodal</text>
<text transform="translate(525.4,404) scale(1.1,1)" font-family="Liberation Serif,serif" font-size="14.5" fill="#ff0000" text-anchor="middle">gapped</text>
<text transform="translate(602,404) scale(1.12,1)" font-family="Liberation Serif,serif" font-size="14.5" fill="#0000ff" text-anchor="middle">nodal</text>
<text x="255" y="535.5" font-family="Liberation Sans,sans-serif" font-size="14" fill="#000" text-anchor="end">0</text>
<text x="255" y="496.2" font-family="Liberation Sans,sans-serif" font-size="14" fill="#000" text-anchor="end">1</text>
<text x="255" y="456.9" font-family="Liberation Sans,sans-serif" font-size="14" fill="#000" text-anchor="end">2</text>
<text x="255" y="418.4" font-family="Liberation Sans,sans-serif" font-size="14" fill="#000" text-anchor="end">3</text>
<text x="255.5" y="549.4" font-family="Liberation Sans,sans-serif" font-size="14" fill="#000" text-anchor="end">0</text>
<text x="255.5" y="566.5" font-family="Liberation Sans,sans-serif" font-size="14" fill="#000" text-anchor="end">-5</text>
<text x="255.5" y="583.7" font-family="Liberation Sans,sans-serif" font-size="14" fill="#000" text-anchor="end">-10</text>
<text x="255.5" y="600.9" font-family="Liberation Sans,sans-serif" font-size="14" fill="#000" text-anchor="end">-15</text>
<text x="324.5" y="616" font-family="Liberation Sans,sans-serif" font-size="14" fill="#000" text-anchor="middle">- 10</text>
<text x="443.5" y="616" font-family="Liberation Sans,sans-serif" font-size="14" fill="#000" text-anchor="middle">- 5</text>
<text x="561" y="616" font-family="Liberation Sans,sans-serif" font-size="14" fill="#000" text-anchor="middle">0</text>
<text transform="translate(290,562.7) scale(1.14,1)" font-family="Liberation Serif,serif" font-size="14.5" fill="#0000ff" text-anchor="middle">at Γ</text>
<text transform="translate(386.4,566.5) scale(1.09,1)" font-family="Liberation Serif,serif" font-size="14.5" fill="#ff8000" text-anchor="middle">near M</text>
<text transform="translate(417.3,590) scale(1.15,1)" font-family="Liberation Serif,serif" font-size="14.5" fill="#222" text-anchor="middle">at K, K′</text>
<text transform="translate(233.8,466.8) rotate(-90) scale(1.18,1)" font-family="Liberation Serif,serif" font-size="18" stroke="#333" stroke-width="0.2" font-style="italic" fill="#333" text-anchor="middle"><tspan font-style="normal">Δ</tspan>E/t</text>
<text transform="translate(232,557.5) rotate(-90) scale(1.1,1)" font-family="Liberation Serif,serif" font-size="17.5" font-style="italic" fill="#555" text-anchor="middle">D<tspan font-size="11" dy="3"><tspan font-weight="bold">k</tspan><tspan font-size="8" dy="2">j</tspan></tspan><tspan dy="-5">/t</tspan></text>
<text transform="translate(478.5,625) scale(1.28,1)" font-family="Liberation Serif,serif" font-size="18.5" font-style="italic" fill="#333" stroke="#333" stroke-width="0.25" text-anchor="middle">μ/t</text>
<g font-family="DejaVu Sans,Liberation Sans,sans-serif" font-size="32" fill="#000">
<text x="4" y="24.7">a</text><text x="204.3" y="26.4">b</text><text x="416" y="24.7">c</text>
<text x="4" y="191.3">d</text><text x="274.5" y="191.5">e</text>
<text x="4" y="417.5">f</text><text x="212.3" y="417.2">g</text>
</g>
</svg>
</body></html>
